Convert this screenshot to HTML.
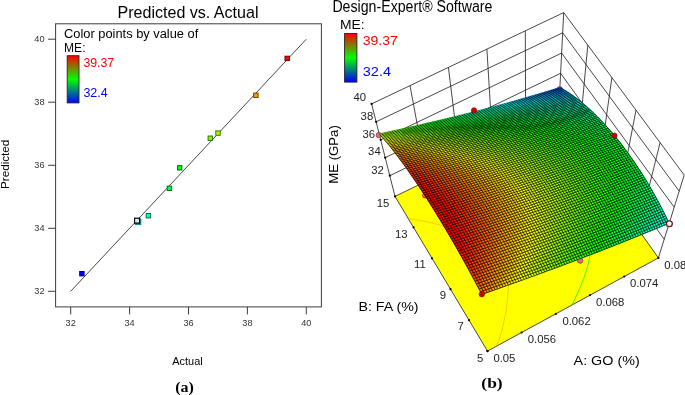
<!DOCTYPE html>
<html><head><meta charset="utf-8"><title>Predicted vs. Actual</title>
<style>html,body{margin:0;padding:0;background:#fff}svg{display:block}</style></head>
<body>
<svg width="685" height="395" viewBox="0 0 685 395" font-family='"Liberation Sans", sans-serif'>
<rect width="685" height="395" fill="#fff"/>
<g id="plotA">
<text x="117.5" y="18.2" font-size="16.6" fill="#000" textLength="141.0" lengthAdjust="spacingAndGlyphs">Predicted vs. Actual</text>
<rect x="55.6" y="23.8" width="265.8" height="283.1" fill="none" stroke="#3c3c3c" stroke-width="1"/>
<path d="M70.7 306.9V314.4" stroke="#3c3c3c" stroke-width="1"/>
<text x="70.7" y="326.0" font-size="9.2" fill="#333" text-anchor="middle">32</text>
<path d="M48.1 291.3H55.6" stroke="#3c3c3c" stroke-width="1"/>
<text x="44.6" y="293.9" font-size="9.2" fill="#333" text-anchor="end">32</text>
<path d="M129.6 306.9V314.4" stroke="#3c3c3c" stroke-width="1"/>
<text x="129.6" y="326.0" font-size="9.2" fill="#333" text-anchor="middle">34</text>
<path d="M48.1 228.3H55.6" stroke="#3c3c3c" stroke-width="1"/>
<text x="44.6" y="230.9" font-size="9.2" fill="#333" text-anchor="end">34</text>
<path d="M188.5 306.9V314.4" stroke="#3c3c3c" stroke-width="1"/>
<text x="188.5" y="326.0" font-size="9.2" fill="#333" text-anchor="middle">36</text>
<path d="M48.1 165.3H55.6" stroke="#3c3c3c" stroke-width="1"/>
<text x="44.6" y="167.9" font-size="9.2" fill="#333" text-anchor="end">36</text>
<path d="M247.4 306.9V314.4" stroke="#3c3c3c" stroke-width="1"/>
<text x="247.4" y="326.0" font-size="9.2" fill="#333" text-anchor="middle">38</text>
<path d="M48.1 102.2H55.6" stroke="#3c3c3c" stroke-width="1"/>
<text x="44.6" y="104.8" font-size="9.2" fill="#333" text-anchor="end">38</text>
<path d="M306.3 306.9V314.4" stroke="#3c3c3c" stroke-width="1"/>
<text x="306.3" y="326.0" font-size="9.2" fill="#333" text-anchor="middle">40</text>
<path d="M48.1 39.2H55.6" stroke="#3c3c3c" stroke-width="1"/>
<text x="44.6" y="41.8" font-size="9.2" fill="#333" text-anchor="end">40</text>
<path d="M70.7 291.3L306.3 39.2" stroke="#333" stroke-width="0.9"/>
<rect x="79.7" y="271.5" width="4.4" height="4.4" fill="#0000ff" stroke="#000072" stroke-width="1"/>
<rect x="135.3" y="218.9" width="5.6" height="5.8" fill="#00a8a0" stroke="#007a78" stroke-width="0.8"/>
<rect x="146.2" y="213.5" width="4.4" height="4.4" fill="#00ffb6" stroke="#007251" stroke-width="1"/>
<rect x="167.2" y="186.1" width="4.4" height="4.4" fill="#00ff4e" stroke="#007223" stroke-width="1"/>
<rect x="177.5" y="165.6" width="4.4" height="4.4" fill="#00ff1b" stroke="#00720c" stroke-width="1"/>
<rect x="208.1" y="136.0" width="4.4" height="4.4" fill="#7dff00" stroke="#387200" stroke-width="1"/>
<rect x="215.8" y="130.9" width="4.4" height="4.4" fill="#a3ff00" stroke="#497200" stroke-width="1"/>
<rect x="253.7" y="93.1" width="4.4" height="4.4" fill="#ff9e00" stroke="#724700" stroke-width="1"/>
<rect x="285.0" y="56.2" width="4.4" height="4.4" fill="#ff0300" stroke="#720100" stroke-width="1"/>
<rect x="134.6" y="218.2" width="4.9" height="4.9" fill="#fff" stroke="#000" stroke-width="1.2"/>
<path d="M135.4 222.4L138.8 218.8" stroke="#999" stroke-width="0.7"/>
<text x="64.0" y="38.0" font-size="12.3" fill="#000" textLength="134.3" lengthAdjust="spacingAndGlyphs">Color points by value of</text>
<text x="64.0" y="52.2" font-size="12.3" fill="#000" textLength="21.5" lengthAdjust="spacingAndGlyphs">ME:</text>
<defs><linearGradient id="lg" x1="0" y1="0" x2="0" y2="1"><stop offset="0" stop-color="#ff0000"/><stop offset="0.5" stop-color="#00ff00"/><stop offset="1" stop-color="#0000ff"/></linearGradient></defs>
<rect x="67.2" y="55.7" width="11.8" height="47.2" fill="url(#lg)" stroke="#222" stroke-width="0.9"/>
<text x="83.4" y="67.4" font-size="12.6" fill="#ff0000" textLength="30.8" lengthAdjust="spacingAndGlyphs">39.37</text>
<text x="83.4" y="96.6" font-size="12.6" fill="#0000ff" textLength="24.3" lengthAdjust="spacingAndGlyphs">32.4</text>
<text x="0.0" y="0.0" font-size="11.6" fill="#000" text-anchor="middle" textLength="49.2" lengthAdjust="spacingAndGlyphs" transform="translate(9.4,164.3) rotate(-90)">Predicted</text>
<text x="172.3" y="364.6" font-size="11.6" fill="#000" textLength="30.4" lengthAdjust="spacingAndGlyphs">Actual</text>
<text x="184.5" y="391.7" font-family='"Liberation Serif", serif' font-weight="bold" font-size="14.5" text-anchor="middle" textLength="18.7" lengthAdjust="spacingAndGlyphs">(a)</text>
</g>
<g id="plotB">
<text x="332.4" y="12.0" font-size="16.0" fill="#000" textLength="160.0" lengthAdjust="spacingAndGlyphs">Design-Expert® Software</text>
<text x="340.0" y="29.4" font-size="12.6" fill="#000" textLength="24.6" lengthAdjust="spacingAndGlyphs">ME:</text>
<rect x="344.6" y="33.5" width="12.3" height="48.6" fill="url(#lg)" stroke="#222" stroke-width="0.9"/>
<text x="362.7" y="45.2" font-size="12.8" fill="#ff0000" textLength="35.2" lengthAdjust="spacingAndGlyphs">39.37</text>
<text x="362.8" y="75.7" font-size="12.8" fill="#0000ff" textLength="28.2" lengthAdjust="spacingAndGlyphs">32.4</text>
<path d="M395.0,196.4L371.6,103.9M427.7,180.5L410.0,85.6M578.4,145.1L587.8,45.1M460.4,164.6L448.4,67.4M598.4,173.3L611.9,77.6M493.0,148.7L486.9,49.1M618.4,201.5L636.0,110.1M525.7,132.8L525.3,30.9M638.4,229.7L660.1,142.6M558.4,116.9L563.7,12.6M658.4,257.9L684.2,175.1M389.8,175.7L559.6,93.5L664.2,239.3M385.2,157.7L560.6,73.3L669.2,223.3M380.7,139.8L561.6,53.1L674.2,207.2M376.1,121.8L562.7,32.8L679.2,191.2M371.6,103.9L563.7,12.6L684.2,175.1" fill="none" stroke="#1a1a1a" stroke-width="0.8"/>
<polygon points="395.0,196.4 558.4,116.9 658.4,257.9 487.5,351.1" fill="#ffff00" stroke="#1a1a1a" stroke-width="0.8"/>
<path d="M511.5,262 Q509.5,276 508.5,288.5 Q507.5,310 501.8,331.3 Q499.5,339 496,346.5" fill="none" stroke="#ffbb00" stroke-width="0.8"/>
<path d="M409.5,218.8 Q424.6,220.4 441.8,225.5 Q452,229 462,235" fill="none" stroke="#ffbb00" stroke-width="0.8"/>
<path d="M590.5,245 Q590,252 589.6,257.3 Q587.5,270 579.7,288.7 Q576,297 571.7,305.4" fill="none" stroke="#20f000" stroke-width="0.8"/>
<circle cx="425.2" cy="195.4" r="2.7" fill="#e07080" stroke="#7a1010" stroke-width="0.6"/>
<circle cx="559.8" cy="89.3" r="2.7" fill="#e07080" stroke="#7a1010" stroke-width="0.6"/>
<circle cx="378.8" cy="135.1" r="2.7" fill="#e07080" stroke="#7a1010" stroke-width="0.6"/>
<circle cx="580.1" cy="260.6" r="2.7" fill="#e07080" stroke="#7a1010" stroke-width="0.6"/>
<g stroke-width="0.6">
<path d="M379.2,133.9L384.7,132.7L387.2,135.3L381.6,136.5ZM553.4,197.0L558.7,195.1L561.8,200.1L556.5,202.0Z" fill="#a3ff00" stroke="#a3ff00"/>
<path d="M381.6,136.5L387.2,135.3L389.6,138.1L384.0,139.4Z" fill="#c5ff00" stroke="#c5ff00"/>
<path d="M384.0,139.4L389.6,138.1L392.2,141.1L386.6,142.3ZM478.2,156.2L483.7,154.7L486.7,158.5L481.2,160.1ZM498.3,164.9L503.7,163.3L506.8,167.4L501.4,169.1Z" fill="#e4ff00" stroke="#e4ff00"/>
<path d="M386.6,142.3L392.2,141.1L394.7,144.1L389.1,145.4ZM475.8,161.7L481.2,160.1L484.3,164.1L478.8,165.7ZM524.6,225.5L530.1,223.6L533.2,228.9L527.7,230.8ZM523.9,213.2L529.4,211.3L532.5,216.5L527.0,218.3Z" fill="#fffb00" stroke="#fffb00"/>
<path d="M389.1,145.4L394.7,144.1L397.3,147.3L391.7,148.6Z" fill="#ffdd00" stroke="#ffdd00"/>
<path d="M391.7,148.6L397.3,147.3L400.0,150.6L394.3,152.0ZM507.9,231.1L513.5,229.2L516.6,234.6L511.0,236.5Z" fill="#ffc100" stroke="#ffc100"/>
<path d="M394.3,152.0L400.0,150.6L402.7,154.1L397.0,155.5ZM497.9,260.9L503.5,259.0L506.6,264.7L501.0,266.7ZM479.9,186.3L485.5,184.6L488.6,189.2L483.0,190.9Z" fill="#ffa700" stroke="#ffa700"/>
<path d="M397.0,155.5L402.7,154.1L405.4,157.7L399.7,159.1ZM486.7,207.1L492.3,205.3L495.4,210.3L489.8,212.1Z" fill="#ff8e00" stroke="#ff8e00"/>
<path d="M399.7,159.1L405.4,157.7L408.2,161.4L402.5,162.8ZM478.7,288.4L484.4,286.4L487.6,292.4L481.8,294.4ZM408.2,161.4L413.9,159.9L416.7,163.7L411.0,165.2ZM481.3,280.4L487.0,278.4L490.2,284.4L484.4,286.4Z" fill="#ff7700" stroke="#ff7700"/>
<path d="M402.5,162.8L408.2,161.4L411.0,165.2L405.3,166.6ZM475.5,282.4L481.3,280.4L484.4,286.4L478.7,288.4Z" fill="#ff6100" stroke="#ff6100"/>
<path d="M405.3,166.6L411.0,165.2L413.8,169.1L408.1,170.6ZM472.3,276.5L478.1,274.5L481.3,280.4L475.5,282.4Z" fill="#ff4e00" stroke="#ff4e00"/>
<path d="M408.1,170.6L413.8,169.1L416.7,173.2L410.9,174.7ZM469.2,270.6L475.0,268.7L478.1,274.5L472.3,276.5ZM471.3,249.7L477.1,247.8L480.2,253.4L474.4,255.3ZM440.0,187.2L445.7,185.6L448.7,190.1L443.0,191.8ZM470.8,236.9L476.5,235.0L479.7,240.4L473.9,242.3ZM457.9,204.3L463.6,202.5L466.6,207.4L460.9,209.2ZM460.9,209.2L466.6,207.4L469.7,212.4L464.0,214.2Z" fill="#ff3c00" stroke="#ff3c00"/>
<path d="M410.9,174.7L416.7,173.2L419.6,177.3L413.8,178.9Z" fill="#ff2c00" stroke="#ff2c00"/>
<path d="M413.8,178.9L419.6,177.3L422.5,181.6L416.8,183.1ZM462.9,259.1L468.7,257.2L471.8,262.9L466.0,264.8Z" fill="#ff1d00" stroke="#ff1d00"/>
<path d="M416.8,183.1L422.5,181.6L425.5,186.0L419.7,187.6ZM459.7,253.5L465.5,251.6L468.7,257.2L462.9,259.1Z" fill="#ff1000" stroke="#ff1000"/>
<path d="M419.7,187.6L425.5,186.0L428.5,190.5L422.7,192.1ZM456.6,247.9L462.4,246.0L465.5,251.6L459.7,253.5Z" fill="#ff0500" stroke="#ff0500"/>
<path d="M422.7,192.1L428.5,190.5L431.5,195.0L425.7,196.7ZM425.7,196.7L431.5,195.0L434.5,199.7L428.7,201.4ZM428.7,201.4L434.5,199.7L437.5,204.5L431.7,206.2ZM431.7,206.2L437.5,204.5L440.6,209.4L434.8,211.1ZM434.8,211.1L440.6,209.4L443.7,214.4L437.8,216.1ZM437.8,216.1L443.7,214.4L446.7,219.4L440.9,221.2ZM440.9,221.2L446.7,219.4L449.9,224.6L444.0,226.4ZM444.0,226.4L449.9,224.6L453.0,229.8L447.1,231.6ZM447.1,231.6L453.0,229.8L456.1,235.1L450.3,237.0ZM450.3,237.0L456.1,235.1L459.2,240.5L453.4,242.4ZM453.4,242.4L459.2,240.5L462.4,246.0L456.6,247.9ZM437.5,204.5L443.3,202.8L446.4,207.7L440.6,209.4ZM440.6,209.4L446.4,207.7L449.4,212.6L443.7,214.4ZM443.7,214.4L449.4,212.6L452.5,217.7L446.7,219.4ZM446.7,219.4L452.5,217.7L455.6,222.8L449.9,224.6ZM449.9,224.6L455.6,222.8L458.8,228.0L453.0,229.8Z" fill="#ff0000" stroke="#ff0000"/>
<path d="M466.0,264.8L471.8,262.9L475.0,268.7L469.2,270.6Z" fill="#ff2b00" stroke="#ff2b00"/>
<path d="M384.7,132.7L390.2,131.5L392.7,134.1L387.2,135.3ZM480.1,142.3L485.5,140.7L488.5,144.2L483.1,145.7ZM505.2,148.3L510.6,146.7L513.7,150.4L508.3,152.1Z" fill="#8fff00" stroke="#8fff00"/>
<path d="M387.2,135.3L392.7,134.1L395.2,136.9L389.6,138.1ZM494.5,151.5L499.9,149.9L502.9,153.7L497.6,155.3Z" fill="#b0ff00" stroke="#b0ff00"/>
<path d="M389.6,138.1L395.2,136.9L397.7,139.8L392.2,141.1ZM411.5,140.2L417.0,138.9L419.7,142.0L414.1,143.3Z" fill="#d0ff00" stroke="#d0ff00"/>
<path d="M392.2,141.1L397.7,139.8L400.3,142.8L394.7,144.1ZM519.2,185.1L524.7,183.4L527.8,188.0L522.4,189.8ZM522.4,189.8L527.8,188.0L530.9,192.8L525.5,194.6Z" fill="#eeff00" stroke="#eeff00"/>
<path d="M394.7,144.1L400.3,142.8L403.0,146.0L397.3,147.3ZM450.3,154.8L455.8,153.3L458.8,157.1L453.3,158.6Z" fill="#fff200" stroke="#fff200"/>
<path d="M397.3,147.3L403.0,146.0L405.6,149.3L400.0,150.6ZM512.8,216.9L518.4,215.0L521.5,220.2L515.9,222.1Z" fill="#ffd600" stroke="#ffd600"/>
<path d="M400.0,150.6L405.6,149.3L408.3,152.7L402.7,154.1ZM503.5,259.0L509.1,257.1L512.2,262.8L506.6,264.7ZM450.6,164.0L456.2,162.5L459.2,166.4L453.6,168.0ZM504.1,213.6L509.7,211.7L512.8,216.9L507.3,218.7Z" fill="#ffbc00" stroke="#ffbc00"/>
<path d="M402.7,154.1L408.3,152.7L411.1,156.3L405.4,157.7ZM490.2,284.4L495.9,282.4L499.0,288.4L493.3,290.4ZM492.7,276.5L498.4,274.5L501.5,280.4L495.9,282.4ZM499.2,227.6L504.8,225.8L507.9,231.1L502.3,233.0ZM483.0,190.9L488.6,189.2L491.7,193.9L486.1,195.6Z" fill="#ffa300" stroke="#ffa300"/>
<path d="M405.4,157.7L411.1,156.3L413.9,159.9L408.2,161.4ZM413.9,159.9L419.5,158.5L422.4,162.2L416.7,163.7Z" fill="#ff8c00" stroke="#ff8c00"/>
<path d="M411.0,165.2L416.7,163.7L419.5,167.6L413.8,169.1Z" fill="#ff6300" stroke="#ff6300"/>
<path d="M413.8,169.1L419.5,167.6L422.4,171.6L416.7,173.2ZM477.1,247.8L482.8,245.9L485.9,251.5L480.2,253.4ZM463.6,202.5L469.2,200.8L472.3,205.7L466.6,207.4ZM469.7,212.4L475.4,210.6L478.5,215.7L472.9,217.5Z" fill="#ff5100" stroke="#ff5100"/>
<path d="M416.7,173.2L422.4,171.6L425.3,175.8L419.6,177.3ZM471.8,262.9L477.6,261.0L480.7,266.7L475.0,268.7Z" fill="#ff4100" stroke="#ff4100"/>
<path d="M419.6,177.3L425.3,175.8L428.3,180.0L422.5,181.6Z" fill="#ff3200" stroke="#ff3200"/>
<path d="M422.5,181.6L428.3,180.0L431.2,184.4L425.5,186.0ZM465.5,251.6L471.3,249.7L474.4,255.3L468.7,257.2Z" fill="#ff2600" stroke="#ff2600"/>
<path d="M425.5,186.0L431.2,184.4L434.2,188.8L428.5,190.5ZM462.4,246.0L468.2,244.2L471.3,249.7L465.5,251.6Z" fill="#ff1b00" stroke="#ff1b00"/>
<path d="M428.5,190.5L434.2,188.8L437.2,193.4L431.5,195.0ZM459.2,240.5L465.0,238.7L468.2,244.2L462.4,246.0ZM449.4,212.6L455.2,210.9L458.3,215.9L452.5,217.7Z" fill="#ff1100" stroke="#ff1100"/>
<path d="M431.5,195.0L437.2,193.4L440.3,198.1L434.5,199.7ZM456.1,235.1L461.9,233.3L465.0,238.7L459.2,240.5Z" fill="#ff0a00" stroke="#ff0a00"/>
<path d="M434.5,199.7L440.3,198.1L443.3,202.8L437.5,204.5ZM453.0,229.8L458.8,228.0L461.9,233.3L456.1,235.1Z" fill="#ff0400" stroke="#ff0400"/>
<path d="M468.7,257.2L474.4,255.3L477.6,261.0L471.8,262.9Z" fill="#ff3300" stroke="#ff3300"/>
<path d="M475.0,268.7L480.7,266.7L483.9,272.6L478.1,274.5ZM476.5,235.0L482.2,233.2L485.4,238.6L479.7,240.4Z" fill="#ff5200" stroke="#ff5200"/>
<path d="M478.1,274.5L483.9,272.6L487.0,278.4L481.3,280.4Z" fill="#ff6400" stroke="#ff6400"/>
<path d="M484.4,286.4L490.2,284.4L493.3,290.4L487.6,292.4ZM487.0,278.4L492.7,276.5L495.9,282.4L490.2,284.4ZM422.4,162.2L428.0,160.8L430.9,164.6L425.2,166.1ZM451.0,173.7L456.6,172.1L459.6,176.4L454.0,178.0ZM462.6,180.7L468.2,179.1L471.3,183.5L465.7,185.2ZM480.5,197.4L486.1,195.6L489.2,200.4L483.6,202.2ZM483.6,202.2L489.2,200.4L492.3,205.3L486.7,207.1Z" fill="#ff8d00" stroke="#ff8d00"/>
<path d="M390.2,131.5L395.7,130.3L398.2,132.9L392.7,134.1ZM477.1,138.9L482.5,137.4L485.5,140.7L480.1,142.3ZM568.0,210.3L573.4,208.3L576.4,213.6L571.1,215.5ZM539.0,157.2L544.3,155.5L547.5,159.6L542.1,161.4ZM553.8,168.2L559.1,166.4L562.2,170.8L556.9,172.6ZM563.2,181.8L568.5,180.0L571.6,184.7L566.3,186.5Z" fill="#7bff00" stroke="#7bff00"/>
<path d="M392.7,134.1L398.2,132.9L400.7,135.6L395.2,136.9ZM508.3,152.1L513.7,150.4L516.8,154.3L511.4,156.0ZM546.2,176.2L551.6,174.4L554.7,179.0L549.4,180.8ZM549.4,180.8L554.7,179.0L557.8,183.7L552.5,185.5Z" fill="#9cff00" stroke="#9cff00"/>
<path d="M395.2,136.9L400.7,135.6L403.3,138.5L397.7,139.8ZM417.0,138.9L422.5,137.6L425.2,140.6L419.7,142.0ZM540.0,253.0L545.4,251.0L548.5,256.7L543.0,258.7ZM542.4,245.4L547.9,243.4L550.9,249.1L545.4,251.0ZM535.5,179.8L540.9,178.0L544.0,182.6L538.6,184.4ZM538.6,184.4L544.0,182.6L547.1,187.3L541.8,189.1Z" fill="#bcff00" stroke="#bcff00"/>
<path d="M397.7,139.8L403.3,138.5L405.9,141.5L400.3,142.8ZM536.3,234.3L541.7,232.4L544.8,237.9L539.3,239.8ZM495.2,160.9L500.6,159.2L503.7,163.3L498.3,164.9Z" fill="#daff00" stroke="#daff00"/>
<path d="M400.3,142.8L405.9,141.5L408.6,144.7L403.0,146.0ZM526.2,206.2L531.7,204.4L534.8,209.4L529.4,211.3Z" fill="#f7ff00" stroke="#f7ff00"/>
<path d="M403.0,146.0L408.6,144.7L411.2,147.9L405.6,149.3Z" fill="#ffeb00" stroke="#ffeb00"/>
<path d="M405.6,149.3L411.2,147.9L414.0,151.3L408.3,152.7ZM476.3,171.5L481.8,169.9L484.9,174.1L479.4,175.8Z" fill="#ffd100" stroke="#ffd100"/>
<path d="M408.3,152.7L414.0,151.3L416.7,154.8L411.1,156.3ZM495.9,282.4L501.5,280.4L504.6,286.4L499.0,288.4ZM498.4,274.5L504.1,272.5L507.2,278.4L501.5,280.4ZM442.1,161.6L447.7,160.1L450.6,164.0L445.0,165.5ZM505.4,238.4L511.0,236.5L514.1,242.0L508.5,243.9ZM501.0,208.5L506.6,206.7L509.7,211.7L504.1,213.6Z" fill="#ffb800" stroke="#ffb800"/>
<path d="M411.1,156.3L416.7,154.8L419.5,158.5L413.9,159.9ZM419.5,158.5L425.2,157.0L428.0,160.8L422.4,162.2ZM456.6,172.1L462.2,170.5L465.2,174.8L459.6,176.4ZM468.2,179.1L473.8,177.4L476.9,181.8L471.3,183.5ZM486.1,195.6L491.7,193.9L494.8,198.7L489.2,200.4Z" fill="#ffa100" stroke="#ffa100"/>
<path d="M416.7,163.7L422.4,162.2L425.2,166.1L419.5,167.6Z" fill="#ff7800" stroke="#ff7800"/>
<path d="M419.5,167.6L425.2,166.1L428.1,170.1L422.4,171.6ZM482.8,245.9L488.5,244.1L491.6,249.6L485.9,251.5ZM482.2,233.2L487.9,231.3L491.0,236.7L485.4,238.6ZM475.4,210.6L481.1,208.9L484.2,213.9L478.5,215.7Z" fill="#ff6600" stroke="#ff6600"/>
<path d="M422.4,171.6L428.1,170.1L431.0,174.2L425.3,175.8Z" fill="#ff5600" stroke="#ff5600"/>
<path d="M425.3,175.8L431.0,174.2L434.0,178.5L428.3,180.0Z" fill="#ff4800" stroke="#ff4800"/>
<path d="M428.3,180.0L434.0,178.5L437.0,182.8L431.2,184.4Z" fill="#ff3b00" stroke="#ff3b00"/>
<path d="M431.2,184.4L437.0,182.8L440.0,187.2L434.2,188.8Z" fill="#ff3000" stroke="#ff3000"/>
<path d="M434.2,188.8L440.0,187.2L443.0,191.8L437.2,193.4ZM465.0,238.7L470.8,236.9L473.9,242.3L468.2,244.2ZM452.1,206.0L457.9,204.3L460.9,209.2L455.2,210.9ZM455.2,210.9L460.9,209.2L464.0,214.2L458.3,215.9Z" fill="#ff2700" stroke="#ff2700"/>
<path d="M437.2,193.4L443.0,191.8L446.0,196.4L440.3,198.1ZM461.9,233.3L467.7,231.5L470.8,236.9L465.0,238.7Z" fill="#ff1f00" stroke="#ff1f00"/>
<path d="M440.3,198.1L446.0,196.4L449.1,201.1L443.3,202.8ZM458.8,228.0L464.5,226.2L467.7,231.5L461.9,233.3Z" fill="#ff1900" stroke="#ff1900"/>
<path d="M443.3,202.8L449.1,201.1L452.1,206.0L446.4,207.7ZM455.6,222.8L461.4,221.0L464.5,226.2L458.8,228.0Z" fill="#ff1500" stroke="#ff1500"/>
<path d="M446.4,207.7L452.1,206.0L455.2,210.9L449.4,212.6ZM452.5,217.7L458.3,215.9L461.4,221.0L455.6,222.8Z" fill="#ff1200" stroke="#ff1200"/>
<path d="M468.2,244.2L473.9,242.3L477.1,247.8L471.3,249.7Z" fill="#ff3100" stroke="#ff3100"/>
<path d="M474.4,255.3L480.2,253.4L483.3,259.1L477.6,261.0ZM448.7,190.1L454.4,188.5L457.4,193.1L451.7,194.7Z" fill="#ff4900" stroke="#ff4900"/>
<path d="M477.6,261.0L483.3,259.1L486.5,264.8L480.7,266.7Z" fill="#ff5700" stroke="#ff5700"/>
<path d="M480.7,266.7L486.5,264.8L489.6,270.6L483.9,272.6Z" fill="#ff6700" stroke="#ff6700"/>
<path d="M483.9,272.6L489.6,270.6L492.7,276.5L487.0,278.4ZM445.3,175.3L451.0,173.7L454.0,178.0L448.3,179.6ZM457.0,182.3L462.6,180.7L465.7,185.2L460.0,186.8ZM478.0,203.9L483.6,202.2L486.7,207.1L481.1,208.9Z" fill="#ff7900" stroke="#ff7900"/>
<path d="M395.7,130.3L401.2,129.1L403.7,131.7L398.2,132.9Z" fill="#67ff00" stroke="#67ff00"/>
<path d="M398.2,132.9L403.7,131.7L406.2,134.4L400.7,135.6Z" fill="#89ff00" stroke="#89ff00"/>
<path d="M400.7,135.6L406.2,134.4L408.8,137.2L403.3,138.5ZM550.2,235.9L555.7,234.0L558.7,239.5L553.3,241.5ZM511.4,156.0L516.8,154.3L519.9,158.3L514.5,160.0Z" fill="#a8ff00" stroke="#a8ff00"/>
<path d="M403.3,138.5L408.8,137.2L411.5,140.2L405.9,141.5ZM543.4,212.7L548.8,210.8L551.9,216.0L546.5,217.9ZM523.8,172.6L529.2,170.9L532.4,175.3L527.0,177.1Z" fill="#c7ff00" stroke="#c7ff00"/>
<path d="M405.9,141.5L411.5,140.2L414.1,143.3L408.6,144.7ZM509.9,171.7L515.3,170.0L518.4,174.4L513.0,176.1Z" fill="#e3ff00" stroke="#e3ff00"/>
<path d="M408.6,144.7L414.1,143.3L416.8,146.6L411.2,147.9ZM525.2,238.2L530.8,236.2L533.8,241.8L528.3,243.7ZM495.9,170.8L501.4,169.1L504.4,173.4L499.0,175.1ZM520.0,196.4L525.5,194.6L528.6,199.4L523.1,201.3Z" fill="#feff00" stroke="#feff00"/>
<path d="M411.2,147.9L416.8,146.6L419.6,149.9L414.0,151.3ZM493.5,176.8L499.0,175.1L502.1,179.5L496.6,181.2Z" fill="#ffe600" stroke="#ffe600"/>
<path d="M414.0,151.3L419.6,149.9L422.3,153.4L416.7,154.8ZM504.1,272.5L509.7,270.6L512.8,276.4L507.2,278.4Z" fill="#ffcd00" stroke="#ffcd00"/>
<path d="M416.7,154.8L422.3,153.4L425.2,157.0L419.5,158.5ZM433.6,159.3L439.2,157.8L442.1,161.6L436.5,163.1Z" fill="#ffb600" stroke="#ffb600"/>
<path d="M425.2,166.1L430.9,164.6L433.8,168.6L428.1,170.1ZM488.5,244.1L494.2,242.2L497.3,247.7L491.6,249.6ZM487.9,231.3L493.6,229.5L496.7,234.8L491.0,236.7Z" fill="#ff7b00" stroke="#ff7b00"/>
<path d="M428.1,170.1L433.8,168.6L436.7,172.7L431.0,174.2Z" fill="#ff6b00" stroke="#ff6b00"/>
<path d="M431.0,174.2L436.7,172.7L439.7,176.9L434.0,178.5ZM454.4,188.5L460.0,186.8L463.1,191.4L457.4,193.1Z" fill="#ff5d00" stroke="#ff5d00"/>
<path d="M434.0,178.5L439.7,176.9L442.7,181.2L437.0,182.8ZM445.7,185.6L451.3,184.0L454.4,188.5L448.7,190.1ZM466.6,207.4L472.3,205.7L475.4,210.6L469.7,212.4Z" fill="#ff5000" stroke="#ff5000"/>
<path d="M437.0,182.8L442.7,181.2L445.7,185.6L440.0,187.2Z" fill="#ff4500" stroke="#ff4500"/>
<path d="M443.0,191.8L448.7,190.1L451.7,194.7L446.0,196.4Z" fill="#ff3400" stroke="#ff3400"/>
<path d="M446.0,196.4L451.7,194.7L454.8,199.4L449.1,201.1Z" fill="#ff2e00" stroke="#ff2e00"/>
<path d="M449.1,201.1L454.8,199.4L457.9,204.3L452.1,206.0ZM461.4,221.0L467.1,219.2L470.3,224.4L464.5,226.2Z" fill="#ff2a00" stroke="#ff2a00"/>
<path d="M458.3,215.9L464.0,214.2L467.1,219.2L461.4,221.0Z" fill="#ff2800" stroke="#ff2800"/>
<path d="M464.5,226.2L470.3,224.4L473.4,229.7L467.7,231.5Z" fill="#ff2f00" stroke="#ff2f00"/>
<path d="M467.7,231.5L473.4,229.7L476.5,235.0L470.8,236.9Z" fill="#ff3500" stroke="#ff3500"/>
<path d="M473.9,242.3L479.7,240.4L482.8,245.9L477.1,247.8Z" fill="#ff4600" stroke="#ff4600"/>
<path d="M480.2,253.4L485.9,251.5L489.1,257.2L483.3,259.1Z" fill="#ff5e00" stroke="#ff5e00"/>
<path d="M483.3,259.1L489.1,257.2L492.2,262.9L486.5,264.8ZM481.7,220.8L487.3,219.0L490.4,224.2L484.8,226.0Z" fill="#ff6d00" stroke="#ff6d00"/>
<path d="M486.5,264.8L492.2,262.9L495.3,268.7L489.6,270.6ZM484.2,213.9L489.8,212.1L493.0,217.2L487.3,219.0Z" fill="#ff7d00" stroke="#ff7d00"/>
<path d="M489.6,270.6L495.3,268.7L498.4,274.5L492.7,276.5ZM493.6,229.5L499.2,227.6L502.3,233.0L496.7,234.8Z" fill="#ff8f00" stroke="#ff8f00"/>
<path d="M401.2,129.1L406.6,127.9L409.2,130.5L403.7,131.7ZM479.5,134.2L484.8,132.7L487.8,135.9L482.5,137.4ZM577.1,226.2L582.5,224.2L585.5,229.7L580.2,231.6ZM546.4,149.8L551.7,148.1L554.9,152.0L549.6,153.8ZM558.0,156.1L563.3,154.3L566.4,158.5L561.2,160.3Z" fill="#54ff00" stroke="#54ff00"/>
<path d="M403.7,131.7L409.2,130.5L411.7,133.1L406.2,134.4ZM561.7,245.1L567.1,243.1L570.1,248.8L564.7,250.8ZM566.4,230.1L571.8,228.1L574.8,233.6L569.5,235.6ZM570.3,203.2L575.6,201.3L578.7,206.4L573.4,208.3Z" fill="#75ff00" stroke="#75ff00"/>
<path d="M406.2,134.4L411.7,133.1L414.3,135.9L408.8,137.2ZM559.6,207.0L564.9,205.1L568.0,210.3L562.7,212.2Z" fill="#95ff00" stroke="#95ff00"/>
<path d="M408.8,137.2L414.3,135.9L417.0,138.9L411.5,140.2ZM548.0,198.9L553.4,197.0L556.5,202.0L551.1,203.8Z" fill="#b3ff00" stroke="#b3ff00"/>
<path d="M414.1,143.3L419.7,142.0L422.4,145.2L416.8,146.6ZM528.6,199.4L534.0,197.6L537.2,202.6L531.7,204.4Z" fill="#eaff00" stroke="#eaff00"/>
<path d="M416.8,146.6L422.4,145.2L425.1,148.5L419.6,149.9Z" fill="#fffa00" stroke="#fffa00"/>
<path d="M419.6,149.9L425.1,148.5L427.9,152.0L422.3,153.4Z" fill="#ffe100" stroke="#ffe100"/>
<path d="M422.3,153.4L427.9,152.0L430.8,155.6L425.2,157.0ZM430.8,155.6L436.3,154.1L439.2,157.8L433.6,159.3ZM439.2,157.8L444.8,156.3L447.7,160.1L442.1,161.6ZM494.1,187.5L499.7,185.8L502.8,190.4L497.2,192.1Z" fill="#ffca00" stroke="#ffca00"/>
<path d="M425.2,157.0L430.8,155.6L433.6,159.3L428.0,160.8ZM462.2,170.5L467.7,168.9L470.8,173.1L465.2,174.8ZM497.9,203.5L503.5,201.8L506.6,206.7L501.0,208.5Z" fill="#ffb500" stroke="#ffb500"/>
<path d="M428.0,160.8L433.6,159.3L436.5,163.1L430.9,164.6ZM492.3,205.3L497.9,203.5L501.0,208.5L495.4,210.3Z" fill="#ffa200" stroke="#ffa200"/>
<path d="M430.9,164.6L436.5,163.1L439.4,167.1L433.8,168.6ZM494.2,242.2L499.8,240.3L502.9,245.8L497.3,247.7ZM477.4,192.6L483.0,190.9L486.1,195.6L480.5,197.4Z" fill="#ff9000" stroke="#ff9000"/>
<path d="M433.8,168.6L439.4,167.1L442.4,171.1L436.7,172.7ZM468.7,189.7L474.3,188.0L477.4,192.6L471.8,194.3Z" fill="#ff8000" stroke="#ff8000"/>
<path d="M436.7,172.7L442.4,171.1L445.3,175.3L439.7,176.9Z" fill="#ff7100" stroke="#ff7100"/>
<path d="M439.7,176.9L445.3,175.3L448.3,179.6L442.7,181.2ZM451.3,184.0L457.0,182.3L460.0,186.8L454.4,188.5ZM469.2,200.8L474.9,199.1L478.0,203.9L472.3,205.7ZM472.3,205.7L478.0,203.9L481.1,208.9L475.4,210.6Z" fill="#ff6500" stroke="#ff6500"/>
<path d="M442.7,181.2L448.3,179.6L451.3,184.0L445.7,185.6Z" fill="#ff5a00" stroke="#ff5a00"/>
<path d="M451.7,194.7L457.4,193.1L460.5,197.7L454.8,199.4Z" fill="#ff4300" stroke="#ff4300"/>
<path d="M454.8,199.4L460.5,197.7L463.6,202.5L457.9,204.3ZM467.1,219.2L472.9,217.5L476.0,222.6L470.3,224.4Z" fill="#ff3f00" stroke="#ff3f00"/>
<path d="M464.0,214.2L469.7,212.4L472.9,217.5L467.1,219.2Z" fill="#ff3d00" stroke="#ff3d00"/>
<path d="M470.3,224.4L476.0,222.6L479.1,227.9L473.4,229.7Z" fill="#ff4400" stroke="#ff4400"/>
<path d="M473.4,229.7L479.1,227.9L482.2,233.2L476.5,235.0Z" fill="#ff4a00" stroke="#ff4a00"/>
<path d="M479.7,240.4L485.4,238.6L488.5,244.1L482.8,245.9Z" fill="#ff5b00" stroke="#ff5b00"/>
<path d="M485.9,251.5L491.6,249.6L494.7,255.2L489.1,257.2ZM484.8,226.0L490.4,224.2L493.6,229.5L487.9,231.3Z" fill="#ff7300" stroke="#ff7300"/>
<path d="M489.1,257.2L494.7,255.2L497.9,260.9L492.2,262.9ZM454.0,178.0L459.6,176.4L462.6,180.7L457.0,182.3Z" fill="#ff8200" stroke="#ff8200"/>
<path d="M492.2,262.9L497.9,260.9L501.0,266.7L495.3,268.7Z" fill="#ff9200" stroke="#ff9200"/>
<path d="M495.3,268.7L501.0,266.7L504.1,272.5L498.4,274.5ZM436.5,163.1L442.1,161.6L445.0,165.5L439.4,167.1ZM499.8,240.3L505.4,238.4L508.5,243.9L502.9,245.8ZM495.4,210.3L501.0,208.5L504.1,213.6L498.6,215.4Z" fill="#ffa400" stroke="#ffa400"/>
<path d="M501.5,280.4L507.2,278.4L510.3,284.4L504.6,286.4ZM506.6,264.7L512.2,262.8L515.3,268.6L509.7,270.6ZM491.1,182.9L496.6,181.2L499.7,185.8L494.1,187.5Z" fill="#ffce00" stroke="#ffce00"/>
<path d="M406.6,127.9L412.1,126.7L414.6,129.2L409.2,130.5ZM587.0,209.7L592.3,207.7L595.3,213.0L590.1,214.9ZM578.0,165.3L583.2,163.5L586.4,167.9L581.2,169.8ZM581.2,169.8L586.4,167.9L589.5,172.5L584.3,174.4Z" fill="#41ff00" stroke="#41ff00"/>
<path d="M409.2,130.5L414.6,129.2L417.2,131.9L411.7,133.1ZM564.7,250.8L570.1,248.8L573.1,254.5L567.7,256.5Z" fill="#62ff00" stroke="#62ff00"/>
<path d="M411.7,133.1L417.2,131.9L419.8,134.7L414.3,135.9ZM455.2,136.8L460.6,135.4L463.5,138.6L458.1,140.0ZM551.5,262.5L556.9,260.5L559.9,266.3L554.5,268.4ZM530.6,154.9L535.9,153.2L539.0,157.2L533.7,159.0Z" fill="#82ff00" stroke="#82ff00"/>
<path d="M414.3,135.9L419.8,134.7L422.5,137.6L417.0,138.9ZM474.7,143.8L480.1,142.3L483.1,145.7L477.7,147.3Z" fill="#a0ff00" stroke="#a0ff00"/>
<path d="M419.7,142.0L425.2,140.6L427.9,143.8L422.4,145.2ZM518.4,174.4L523.8,172.6L527.0,177.1L521.6,178.8Z" fill="#d7ff00" stroke="#d7ff00"/>
<path d="M422.4,145.2L427.9,143.8L430.7,147.1L425.1,148.5ZM528.3,243.7L533.8,241.8L536.9,247.3L531.4,249.3Z" fill="#f0ff00" stroke="#f0ff00"/>
<path d="M425.1,148.5L430.7,147.1L433.5,150.6L427.9,152.0ZM515.3,268.6L520.9,266.6L524.0,272.5L518.4,274.5ZM467.3,159.4L472.8,157.8L475.8,161.7L470.3,163.3ZM487.3,168.2L492.8,166.6L495.9,170.8L490.4,172.5Z" fill="#fff600" stroke="#fff600"/>
<path d="M427.9,152.0L433.5,150.6L436.3,154.1L430.8,155.6Z" fill="#ffdf00" stroke="#ffdf00"/>
<path d="M439.4,167.1L445.0,165.5L448.0,169.6L442.4,171.1ZM474.3,188.0L479.9,186.3L483.0,190.9L477.4,192.6Z" fill="#ff9400" stroke="#ff9400"/>
<path d="M442.4,171.1L448.0,169.6L451.0,173.7L445.3,175.3ZM465.7,185.2L471.3,183.5L474.3,188.0L468.7,189.7Z" fill="#ff8600" stroke="#ff8600"/>
<path d="M448.3,179.6L454.0,178.0L457.0,182.3L451.3,184.0Z" fill="#ff6e00" stroke="#ff6e00"/>
<path d="M457.4,193.1L463.1,191.4L466.2,196.0L460.5,197.7ZM476.0,222.6L481.7,220.8L484.8,226.0L479.1,227.9Z" fill="#ff5800" stroke="#ff5800"/>
<path d="M460.5,197.7L466.2,196.0L469.2,200.8L463.6,202.5Z" fill="#ff5300" stroke="#ff5300"/>
<path d="M472.9,217.5L478.5,215.7L481.7,220.8L476.0,222.6Z" fill="#ff5400" stroke="#ff5400"/>
<path d="M479.1,227.9L484.8,226.0L487.9,231.3L482.2,233.2Z" fill="#ff5f00" stroke="#ff5f00"/>
<path d="M485.4,238.6L491.0,236.7L494.2,242.2L488.5,244.1Z" fill="#ff7000" stroke="#ff7000"/>
<path d="M491.6,249.6L497.3,247.7L500.4,253.3L494.7,255.2Z" fill="#ff8800" stroke="#ff8800"/>
<path d="M494.7,255.2L500.4,253.3L503.5,259.0L497.9,260.9Z" fill="#ff9700" stroke="#ff9700"/>
<path d="M501.0,266.7L506.6,264.7L509.7,270.6L504.1,272.5Z" fill="#ffb900" stroke="#ffb900"/>
<path d="M507.2,278.4L512.8,276.4L515.9,282.4L510.3,284.4ZM512.2,262.8L517.8,260.8L520.9,266.6L515.3,268.6ZM461.7,160.9L467.3,159.4L470.3,163.3L464.7,164.9Z" fill="#ffe300" stroke="#ffe300"/>
<path d="M412.1,126.7L417.4,125.5L420.0,128.0L414.6,129.2ZM594.5,200.6L599.8,198.7L602.8,203.8L597.6,205.7ZM576.9,154.9L582.1,153.1L585.3,157.3L580.1,159.1ZM592.7,177.1L597.9,175.2L601.0,180.0L595.8,181.9Z" fill="#2eff00" stroke="#2eff00"/>
<path d="M414.6,129.2L420.0,128.0L422.6,130.6L417.2,131.9ZM509.8,138.0L515.0,136.4L518.1,139.8L512.8,141.4ZM526.5,141.8L531.8,140.2L534.9,143.8L529.6,145.5ZM583.1,192.5L588.4,190.6L591.5,195.5L586.2,197.5Z" fill="#4fff00" stroke="#4fff00"/>
<path d="M417.2,131.9L422.6,130.6L425.3,133.4L419.8,134.7ZM499.1,141.1L504.5,139.5L507.5,143.0L502.2,144.6ZM507.5,143.0L512.8,141.4L515.9,145.1L510.6,146.7Z" fill="#6fff00" stroke="#6fff00"/>
<path d="M419.8,134.7L425.3,133.4L427.9,136.2L422.5,137.6Z" fill="#8dff00" stroke="#8dff00"/>
<path d="M422.5,137.6L427.9,136.2L430.7,139.3L425.2,140.6ZM543.0,258.7L548.5,256.7L551.5,262.5L546.0,264.5Z" fill="#a9ff00" stroke="#a9ff00"/>
<path d="M425.2,140.6L430.7,139.3L433.4,142.4L427.9,143.8ZM472.2,148.8L477.7,147.3L480.7,150.9L475.2,152.5ZM542.6,200.7L548.0,198.9L551.1,203.8L545.7,205.7Z" fill="#c4ff00" stroke="#c4ff00"/>
<path d="M427.9,143.8L433.4,142.4L436.2,145.7L430.7,147.1ZM533.8,241.8L539.3,239.8L542.4,245.4L536.9,247.3ZM524.7,183.4L530.1,181.6L533.2,186.2L527.8,188.0ZM527.8,188.0L533.2,186.2L536.3,191.0L530.9,192.8Z" fill="#ddff00" stroke="#ddff00"/>
<path d="M430.7,147.1L436.2,145.7L439.0,149.1L433.5,150.6ZM472.8,157.8L478.2,156.2L481.2,160.1L475.8,161.7Z" fill="#f5ff00" stroke="#f5ff00"/>
<path d="M433.5,150.6L439.0,149.1L441.9,152.7L436.3,154.1ZM458.8,157.1L464.3,155.5L467.3,159.4L461.7,160.9ZM522.1,232.7L527.7,230.8L530.8,236.2L525.2,238.2ZM502.1,179.5L507.5,177.8L510.7,182.3L505.2,184.0Z" fill="#fff300" stroke="#fff300"/>
<path d="M436.3,154.1L441.9,152.7L444.8,156.3L439.2,157.8ZM444.8,156.3L450.3,154.8L453.3,158.6L447.7,160.1ZM515.9,222.1L521.5,220.2L524.6,225.5L519.0,227.3ZM512.1,204.9L517.6,203.1L520.8,208.1L515.2,209.9Z" fill="#ffde00" stroke="#ffde00"/>
<path d="M445.0,165.5L450.6,164.0L453.6,168.0L448.0,169.6Z" fill="#ffa800" stroke="#ffa800"/>
<path d="M448.0,169.6L453.6,168.0L456.6,172.1L451.0,173.7Z" fill="#ff9a00" stroke="#ff9a00"/>
<path d="M460.0,186.8L465.7,185.2L468.7,189.7L463.1,191.4Z" fill="#ff7200" stroke="#ff7200"/>
<path d="M463.1,191.4L468.7,189.7L471.8,194.3L466.2,196.0Z" fill="#ff6c00" stroke="#ff6c00"/>
<path d="M466.2,196.0L471.8,194.3L474.9,199.1L469.2,200.8Z" fill="#ff6800" stroke="#ff6800"/>
<path d="M478.5,215.7L484.2,213.9L487.3,219.0L481.7,220.8Z" fill="#ff6900" stroke="#ff6900"/>
<path d="M491.0,236.7L496.7,234.8L499.8,240.3L494.2,242.2Z" fill="#ff8500" stroke="#ff8500"/>
<path d="M497.3,247.7L502.9,245.8L506.0,251.4L500.4,253.3Z" fill="#ff9d00" stroke="#ff9d00"/>
<path d="M500.4,253.3L506.0,251.4L509.1,257.1L503.5,259.0Z" fill="#ffac00" stroke="#ffac00"/>
<path d="M509.7,270.6L515.3,268.6L518.4,274.5L512.8,276.4ZM515.2,209.9L520.8,208.1L523.9,213.2L518.4,215.0Z" fill="#ffe200" stroke="#ffe200"/>
<path d="M512.8,276.4L518.4,274.5L521.5,280.4L515.9,282.4ZM517.8,260.8L523.4,258.9L526.5,264.6L520.9,266.6Z" fill="#fff700" stroke="#fff700"/>
<path d="M417.4,125.5L422.8,124.3L425.4,126.7L420.0,128.0ZM583.7,250.5L589.0,248.5L591.9,254.2L586.6,256.2ZM602.0,191.7L607.2,189.7L610.2,194.7L605.0,196.7ZM578.9,149.0L584.1,147.2L587.3,151.3L582.1,153.1ZM601.0,180.0L606.2,178.0L609.3,182.9L604.1,184.8Z" fill="#1bff00" stroke="#1bff00"/>
<path d="M420.0,128.0L425.4,126.7L428.0,129.3L422.6,130.6ZM454.9,129.5L460.2,128.1L463.1,131.0L457.7,132.4ZM573.1,254.5L578.4,252.5L581.3,258.3L576.0,260.3ZM571.7,156.7L576.9,154.9L580.1,159.1L574.9,161.0ZM587.4,179.0L592.7,177.1L595.8,181.9L590.5,183.8Z" fill="#3cff00" stroke="#3cff00"/>
<path d="M422.6,130.6L428.0,129.3L430.7,132.0L425.3,133.4ZM549.6,153.8L554.9,152.0L558.0,156.1L552.7,157.9ZM564.3,164.6L569.6,162.8L572.8,167.2L567.5,169.0Z" fill="#5cff00" stroke="#5cff00"/>
<path d="M425.3,133.4L430.7,132.0L433.4,134.9L427.9,136.2ZM447.0,135.2L452.4,133.8L455.2,136.8L449.8,138.2Z" fill="#7aff00" stroke="#7aff00"/>
<path d="M427.9,136.2L433.4,134.9L436.1,137.9L430.7,139.3ZM540.0,167.4L545.3,165.6L548.4,170.0L543.1,171.8Z" fill="#96ff00" stroke="#96ff00"/>
<path d="M430.7,139.3L436.1,137.9L438.9,141.0L433.4,142.4ZM469.3,145.3L474.7,143.8L477.7,147.3L472.2,148.8ZM526.1,166.6L531.5,164.8L534.6,169.1L529.2,170.9Z" fill="#b1ff00" stroke="#b1ff00"/>
<path d="M433.4,142.4L438.9,141.0L441.7,144.3L436.2,145.7ZM527.0,177.1L532.4,175.3L535.5,179.8L530.1,181.6Z" fill="#caff00" stroke="#caff00"/>
<path d="M436.2,145.7L441.7,144.3L444.6,147.7L439.0,149.1Z" fill="#e2ff00" stroke="#e2ff00"/>
<path d="M439.0,149.1L444.6,147.7L447.4,151.2L441.9,152.7ZM464.3,155.5L469.8,154.0L472.8,157.8L467.3,159.4ZM527.7,230.8L533.2,228.9L536.3,234.3L530.8,236.2Z" fill="#f8ff00" stroke="#f8ff00"/>
<path d="M441.9,152.7L447.4,151.2L450.3,154.8L444.8,156.3ZM521.5,220.2L527.0,218.3L530.1,223.6L524.6,225.5Z" fill="#fff100" stroke="#fff100"/>
<path d="M447.7,160.1L453.3,158.6L456.2,162.5L450.6,164.0ZM511.0,236.5L516.6,234.6L519.7,240.1L514.1,242.0Z" fill="#ffcc00" stroke="#ffcc00"/>
<path d="M453.6,168.0L459.2,166.4L462.2,170.5L456.6,172.1Z" fill="#ffae00" stroke="#ffae00"/>
<path d="M459.6,176.4L465.2,174.8L468.2,179.1L462.6,180.7Z" fill="#ff9600" stroke="#ff9600"/>
<path d="M471.8,194.3L477.4,192.6L480.5,197.4L474.9,199.1Z" fill="#ff7c00" stroke="#ff7c00"/>
<path d="M474.9,199.1L480.5,197.4L483.6,202.2L478.0,203.9ZM481.1,208.9L486.7,207.1L489.8,212.1L484.2,213.9Z" fill="#ff7a00" stroke="#ff7a00"/>
<path d="M487.3,219.0L493.0,217.2L496.1,222.4L490.4,224.2Z" fill="#ff8100" stroke="#ff8100"/>
<path d="M490.4,224.2L496.1,222.4L499.2,227.6L493.6,229.5Z" fill="#ff8700" stroke="#ff8700"/>
<path d="M496.7,234.8L502.3,233.0L505.4,238.4L499.8,240.3ZM471.3,183.5L476.9,181.8L479.9,186.3L474.3,188.0Z" fill="#ff9900" stroke="#ff9900"/>
<path d="M502.9,245.8L508.5,243.9L511.7,249.5L506.0,251.4Z" fill="#ffb100" stroke="#ffb100"/>
<path d="M506.0,251.4L511.7,249.5L514.7,255.1L509.1,257.1ZM482.4,180.2L488.0,178.5L491.1,182.9L485.5,184.6Z" fill="#ffc000" stroke="#ffc000"/>
<path d="M509.1,257.1L514.7,255.1L517.8,260.8L512.2,262.8ZM456.2,162.5L461.7,160.9L464.7,164.9L459.2,166.4ZM509.7,211.7L515.2,209.9L518.4,215.0L512.8,216.9Z" fill="#ffd000" stroke="#ffd000"/>
<path d="M518.4,274.5L524.0,272.5L527.0,278.4L521.5,280.4Z" fill="#f3ff00" stroke="#f3ff00"/>
<path d="M422.8,124.3L428.1,123.0L430.7,125.5L425.4,126.7ZM470.8,125.3L476.1,123.9L479.0,126.7L473.7,128.2Z" fill="#09ff00" stroke="#09ff00"/>
<path d="M425.4,126.7L430.7,125.5L433.4,128.0L428.0,129.3Z" fill="#2aff00" stroke="#2aff00"/>
<path d="M428.0,129.3L433.4,128.0L436.1,130.7L430.7,132.0ZM543.3,145.9L548.5,144.2L551.7,148.1L546.4,149.8ZM566.4,158.5L571.7,156.7L574.9,161.0L569.6,162.8Z" fill="#4aff00" stroke="#4aff00"/>
<path d="M430.7,132.0L436.1,130.7L438.8,133.6L433.4,134.9ZM532.7,149.3L538.0,147.6L541.2,151.5L535.9,153.2ZM555.9,162.1L561.2,160.3L564.3,164.6L559.1,166.4Z" fill="#68ff00" stroke="#68ff00"/>
<path d="M433.4,134.9L438.8,133.6L441.6,136.5L436.1,137.9ZM563.4,224.7L568.8,222.7L571.8,228.1L566.4,230.1ZM564.9,205.1L570.3,203.2L573.4,208.3L568.0,210.3Z" fill="#84ff00" stroke="#84ff00"/>
<path d="M436.1,137.9L441.6,136.5L444.4,139.6L438.9,141.0ZM499.9,149.9L505.2,148.3L508.3,152.1L502.9,153.7Z" fill="#9fff00" stroke="#9fff00"/>
<path d="M438.9,141.0L444.4,139.6L447.2,142.9L441.7,144.3ZM506.0,157.6L511.4,156.0L514.5,160.0L509.1,161.6ZM544.9,193.9L550.3,192.1L553.4,197.0L548.0,198.9Z" fill="#b8ff00" stroke="#b8ff00"/>
<path d="M441.7,144.3L447.2,142.9L450.0,146.2L444.6,147.7Z" fill="#cfff00" stroke="#cfff00"/>
<path d="M444.6,147.7L450.0,146.2L452.9,149.7L447.4,151.2Z" fill="#e5ff00" stroke="#e5ff00"/>
<path d="M447.4,151.2L452.9,149.7L455.8,153.3L450.3,154.8ZM455.8,153.3L461.3,151.8L464.3,155.5L458.8,157.1ZM507.5,177.8L513.0,176.1L516.1,180.6L510.7,182.3Z" fill="#f9ff00" stroke="#f9ff00"/>
<path d="M453.3,158.6L458.8,157.1L461.7,160.9L456.2,162.5ZM516.6,234.6L522.1,232.7L525.2,238.2L519.7,240.1ZM496.6,181.2L502.1,179.5L505.2,184.0L499.7,185.8Z" fill="#ffe000" stroke="#ffe000"/>
<path d="M459.2,166.4L464.7,164.9L467.7,168.9L462.2,170.5Z" fill="#ffc200" stroke="#ffc200"/>
<path d="M465.2,174.8L470.8,173.1L473.8,177.4L468.2,179.1Z" fill="#ffaa00" stroke="#ffaa00"/>
<path d="M489.8,212.1L495.4,210.3L498.6,215.4L493.0,217.2Z" fill="#ff9100" stroke="#ff9100"/>
<path d="M493.0,217.2L498.6,215.4L501.7,220.5L496.1,222.4Z" fill="#ff9500" stroke="#ff9500"/>
<path d="M496.1,222.4L501.7,220.5L504.8,225.8L499.2,227.6Z" fill="#ff9b00" stroke="#ff9b00"/>
<path d="M502.3,233.0L507.9,231.1L511.0,236.5L505.4,238.4ZM476.9,181.8L482.4,180.2L485.5,184.6L479.9,186.3Z" fill="#ffad00" stroke="#ffad00"/>
<path d="M508.5,243.9L514.1,242.0L517.2,247.5L511.7,249.5Z" fill="#ffc500" stroke="#ffc500"/>
<path d="M511.7,249.5L517.2,247.5L520.3,253.2L514.7,255.1ZM513.5,229.2L519.0,227.3L522.1,232.7L516.6,234.6Z" fill="#ffd400" stroke="#ffd400"/>
<path d="M514.7,255.1L520.3,253.2L523.4,258.9L517.8,260.8Z" fill="#ffe500" stroke="#ffe500"/>
<path d="M520.9,266.6L526.5,264.6L529.5,270.5L524.0,272.5ZM523.4,258.9L529.0,256.9L532.0,262.7L526.5,264.6ZM504.4,173.4L509.9,171.7L513.0,176.1L507.5,177.8Z" fill="#f4ff00" stroke="#f4ff00"/>
<path d="M524.0,272.5L529.5,270.5L532.6,276.4L527.0,278.4ZM534.8,209.4L540.3,207.6L543.4,212.7L537.9,214.6Z" fill="#dfff00" stroke="#dfff00"/>
<path d="M428.1,123.0L433.5,121.8L436.1,124.2L430.7,125.5ZM606.5,221.7L611.8,219.7L614.7,225.1L609.5,227.2ZM549.5,130.0L554.6,128.4L557.8,131.8L552.6,133.5Z" fill="#00ff0a" stroke="#00ff0a"/>
<path d="M430.7,125.5L436.1,124.2L438.8,126.7L433.4,128.0Z" fill="#18ff00" stroke="#18ff00"/>
<path d="M433.4,128.0L438.8,126.7L441.5,129.4L436.1,130.7ZM556.9,146.3L562.2,144.6L565.3,148.5L560.1,150.3ZM568.5,152.6L573.7,150.8L576.9,154.9L571.7,156.7Z" fill="#37ff00" stroke="#37ff00"/>
<path d="M436.1,130.7L441.5,129.4L444.2,132.2L438.8,133.6ZM574.8,233.6L580.2,231.6L583.1,237.2L577.8,239.2ZM580.0,187.6L585.3,185.7L588.4,190.6L583.1,192.5Z" fill="#55ff00" stroke="#55ff00"/>
<path d="M438.8,133.6L444.2,132.2L447.0,135.2L441.6,136.5ZM535.9,153.2L541.2,151.5L544.3,155.5L539.0,157.2ZM547.5,159.6L552.7,157.9L555.9,162.1L550.6,163.9Z" fill="#72ff00" stroke="#72ff00"/>
<path d="M441.6,136.5L447.0,135.2L449.8,138.2L444.4,139.6ZM471.8,140.4L477.1,138.9L480.1,142.3L474.7,143.8ZM513.7,150.4L519.0,148.8L522.1,152.6L516.8,154.3ZM561.8,200.1L567.2,198.2L570.3,203.2L564.9,205.1ZM551.6,174.4L556.9,172.6L560.0,177.2L554.7,179.0ZM554.7,179.0L560.0,177.2L563.2,181.8L557.8,183.7Z" fill="#8cff00" stroke="#8cff00"/>
<path d="M444.4,139.6L449.8,138.2L452.6,141.5L447.2,142.9ZM552.6,228.6L558.0,226.6L561.1,232.0L555.7,234.0ZM554.2,208.9L559.6,207.0L562.7,212.2L557.3,214.1Z" fill="#a5ff00" stroke="#a5ff00"/>
<path d="M447.2,142.9L452.6,141.5L455.5,144.8L450.0,146.2ZM497.6,155.3L502.9,153.7L506.0,157.6L500.6,159.2ZM546.5,217.9L551.9,216.0L555.0,221.3L549.5,223.2ZM545.7,205.7L551.1,203.8L554.2,208.9L548.8,210.8Z" fill="#bdff00" stroke="#bdff00"/>
<path d="M450.0,146.2L455.5,144.8L458.4,148.2L452.9,149.7ZM503.7,163.3L509.1,161.6L512.2,165.8L506.8,167.4Z" fill="#d3ff00" stroke="#d3ff00"/>
<path d="M452.9,149.7L458.4,148.2L461.3,151.8L455.8,153.3ZM461.3,151.8L466.8,150.3L469.8,154.0L464.3,155.5Z" fill="#e7ff00" stroke="#e7ff00"/>
<path d="M464.7,164.9L470.3,163.3L473.3,167.3L467.7,168.9Z" fill="#ffd500" stroke="#ffd500"/>
<path d="M467.7,168.9L473.3,167.3L476.3,171.5L470.8,173.1ZM479.4,175.8L484.9,174.1L488.0,178.5L482.4,180.2ZM503.5,201.8L509.0,200.0L512.1,204.9L506.6,206.7Z" fill="#ffc800" stroke="#ffc800"/>
<path d="M470.8,173.1L476.3,171.5L479.4,175.8L473.8,177.4Z" fill="#ffbe00" stroke="#ffbe00"/>
<path d="M473.8,177.4L479.4,175.8L482.4,180.2L476.9,181.8ZM491.7,193.9L497.2,192.1L500.4,196.9L494.8,198.7ZM494.8,198.7L500.4,196.9L503.5,201.8L497.9,203.5Z" fill="#ffb400" stroke="#ffb400"/>
<path d="M489.2,200.4L494.8,198.7L497.9,203.5L492.3,205.3Z" fill="#ffa000" stroke="#ffa000"/>
<path d="M498.6,215.4L504.1,213.6L507.3,218.7L501.7,220.5Z" fill="#ffa900" stroke="#ffa900"/>
<path d="M501.7,220.5L507.3,218.7L510.4,223.9L504.8,225.8Z" fill="#ffaf00" stroke="#ffaf00"/>
<path d="M504.8,225.8L510.4,223.9L513.5,229.2L507.9,231.1ZM488.6,189.2L494.1,187.5L497.2,192.1L491.7,193.9Z" fill="#ffb700" stroke="#ffb700"/>
<path d="M514.1,242.0L519.7,240.1L522.8,245.6L517.2,247.5Z" fill="#ffd900" stroke="#ffd900"/>
<path d="M517.2,247.5L522.8,245.6L525.9,251.2L520.3,253.2ZM470.3,163.3L475.8,161.7L478.8,165.7L473.3,167.3ZM519.0,227.3L524.6,225.5L527.7,230.8L522.1,232.7Z" fill="#ffe800" stroke="#ffe800"/>
<path d="M520.3,253.2L525.9,251.2L529.0,256.9L523.4,258.9ZM499.0,175.1L504.4,173.4L507.5,177.8L502.1,179.5Z" fill="#fff800" stroke="#fff800"/>
<path d="M526.5,264.6L532.0,262.7L535.1,268.5L529.5,270.5ZM529.0,256.9L534.5,255.0L537.5,260.7L532.0,262.7Z" fill="#e1ff00" stroke="#e1ff00"/>
<path d="M529.5,270.5L535.1,268.5L538.1,274.4L532.6,276.4ZM530.1,181.6L535.5,179.8L538.6,184.4L533.2,186.2ZM533.2,186.2L538.6,184.4L541.8,189.1L536.3,191.0Z" fill="#ccff00" stroke="#ccff00"/>
<path d="M433.5,121.8L438.8,120.5L441.4,122.9L436.1,124.2ZM609.5,227.2L614.7,225.1L617.6,230.7L612.4,232.7ZM588.0,135.8L593.2,134.0L596.4,137.8L591.3,139.6Z" fill="#00ff1d" stroke="#00ff1d"/>
<path d="M436.1,124.2L441.4,122.9L444.1,125.4L438.8,126.7ZM601.3,223.7L606.5,221.7L609.5,227.2L604.2,229.2ZM552.6,133.5L557.8,131.8L561.0,135.4L555.8,137.1ZM608.0,201.8L613.3,199.8L616.3,205.0L611.0,207.0Z" fill="#06ff00" stroke="#06ff00"/>
<path d="M438.8,126.7L444.1,125.4L446.8,128.1L441.5,129.4ZM590.8,227.7L596.0,225.7L599.0,231.2L593.7,233.2ZM593.1,220.3L598.3,218.3L601.3,223.7L596.0,225.7ZM595.3,213.0L600.6,211.0L603.6,216.3L598.3,218.3ZM588.5,161.6L593.7,159.8L596.8,164.2L591.6,166.1ZM591.6,166.1L596.8,164.2L600.0,168.7L594.8,170.6Z" fill="#25ff00" stroke="#25ff00"/>
<path d="M441.5,129.4L446.8,128.1L449.6,130.9L444.2,132.2ZM484.8,132.7L490.1,131.2L493.1,134.4L487.8,135.9ZM577.8,239.2L583.1,237.2L586.1,242.8L580.8,244.8ZM584.8,216.9L590.1,214.9L593.1,220.3L587.8,222.2Z" fill="#43ff00" stroke="#43ff00"/>
<path d="M444.2,132.2L449.6,130.9L452.4,133.8L447.0,135.2ZM576.4,213.6L581.7,211.6L584.8,216.9L579.5,218.8Z" fill="#60ff00" stroke="#60ff00"/>
<path d="M449.8,138.2L455.2,136.8L458.1,140.0L452.6,141.5ZM558.7,195.1L564.1,193.3L567.2,198.2L561.8,200.1Z" fill="#93ff00" stroke="#93ff00"/>
<path d="M452.6,141.5L458.1,140.0L460.9,143.3L455.5,144.8ZM540.9,178.0L546.2,176.2L549.4,180.8L544.0,182.6Z" fill="#abff00" stroke="#abff00"/>
<path d="M455.5,144.8L460.9,143.3L463.9,146.8L458.4,148.2ZM489.1,153.1L494.5,151.5L497.6,155.3L492.1,156.9ZM520.7,168.3L526.1,166.6L529.2,170.9L523.8,172.6Z" fill="#c1ff00" stroke="#c1ff00"/>
<path d="M458.4,148.2L463.9,146.8L466.8,150.3L461.3,151.8ZM466.8,150.3L472.2,148.8L475.2,152.5L469.8,154.0ZM538.7,227.0L544.1,225.1L547.2,230.5L541.7,232.4Z" fill="#d5ff00" stroke="#d5ff00"/>
<path d="M473.3,167.3L478.8,165.7L481.8,169.9L476.3,171.5ZM499.7,185.8L505.2,184.0L508.3,188.7L502.8,190.4Z" fill="#ffdc00" stroke="#ffdc00"/>
<path d="M485.5,184.6L491.1,182.9L494.1,187.5L488.6,189.2Z" fill="#ffbb00" stroke="#ffbb00"/>
<path d="M507.3,218.7L512.8,216.9L515.9,222.1L510.4,223.9Z" fill="#ffc300" stroke="#ffc300"/>
<path d="M510.4,223.9L515.9,222.1L519.0,227.3L513.5,229.2ZM506.6,206.7L512.1,204.9L515.2,209.9L509.7,211.7Z" fill="#ffcb00" stroke="#ffcb00"/>
<path d="M519.7,240.1L525.2,238.2L528.3,243.7L522.8,245.6ZM490.4,172.5L495.9,170.8L499.0,175.1L493.5,176.8ZM508.3,188.7L513.8,186.9L516.9,191.6L511.4,193.4ZM514.5,198.2L520.0,196.4L523.1,201.3L517.6,203.1Z" fill="#ffed00" stroke="#ffed00"/>
<path d="M522.8,245.6L528.3,243.7L531.4,249.3L525.9,251.2Z" fill="#fffc00" stroke="#fffc00"/>
<path d="M525.9,251.2L531.4,249.3L534.5,255.0L529.0,256.9Z" fill="#f2ff00" stroke="#f2ff00"/>
<path d="M532.0,262.7L537.5,260.7L540.5,266.5L535.1,268.5ZM534.5,255.0L540.0,253.0L543.0,258.7L537.5,260.7ZM536.9,247.3L542.4,245.4L545.4,251.0L540.0,253.0ZM492.1,156.9L497.6,155.3L500.6,159.2L495.2,160.9ZM541.0,219.8L546.5,217.9L549.5,223.2L544.1,225.1ZM540.3,207.6L545.7,205.7L548.8,210.8L543.4,212.7Z" fill="#ceff00" stroke="#ceff00"/>
<path d="M535.1,268.5L540.5,266.5L543.6,272.4L538.1,274.4Z" fill="#b9ff00" stroke="#b9ff00"/>
<path d="M438.8,120.5L444.0,119.3L446.7,121.6L441.4,122.9ZM630.0,175.0L635.1,173.0L638.2,177.9L633.1,179.9ZM613.1,142.0L618.2,140.1L621.4,144.2L616.3,146.1Z" fill="#00ff30" stroke="#00ff30"/>
<path d="M441.4,122.9L446.7,121.6L449.4,124.1L444.1,125.4ZM604.2,229.2L609.5,227.2L612.4,232.7L607.2,234.7Z" fill="#00ff0d" stroke="#00ff0d"/>
<path d="M444.1,125.4L449.4,124.1L452.1,126.7L446.8,128.1ZM539.1,133.3L544.3,131.7L547.4,135.2L542.2,136.8ZM547.4,135.2L552.6,133.5L555.8,137.1L550.6,138.8ZM602.8,203.8L608.0,201.8L611.0,207.0L605.8,209.0Z" fill="#14ff00" stroke="#14ff00"/>
<path d="M446.8,128.1L452.1,126.7L454.9,129.5L449.6,130.9ZM592.3,207.7L597.6,205.7L600.6,211.0L595.3,213.0Z" fill="#32ff00" stroke="#32ff00"/>
<path d="M449.6,130.9L454.9,129.5L457.7,132.4L452.4,133.8ZM471.3,132.6L476.6,131.1L479.5,134.2L474.2,135.7ZM569.6,162.8L574.9,161.0L578.0,165.3L572.8,167.2ZM579.0,176.2L584.3,174.4L587.4,179.0L582.2,180.9Z" fill="#4eff00" stroke="#4eff00"/>
<path d="M452.4,133.8L457.7,132.4L460.6,135.4L455.2,136.8ZM571.6,184.7L576.9,182.8L580.0,187.6L574.7,189.5Z" fill="#69ff00" stroke="#69ff00"/>
<path d="M458.1,140.0L463.5,138.6L466.4,141.9L460.9,143.3Z" fill="#99ff00" stroke="#99ff00"/>
<path d="M460.9,143.3L466.4,141.9L469.3,145.3L463.9,146.8Z" fill="#afff00" stroke="#afff00"/>
<path d="M463.9,146.8L469.3,145.3L472.2,148.8L466.8,150.3ZM480.7,150.9L486.1,149.3L489.1,153.1L483.7,154.7ZM544.1,225.1L549.5,223.2L552.6,228.6L547.2,230.5ZM509.1,161.6L514.5,160.0L517.6,164.1L512.2,165.8Z" fill="#c3ff00" stroke="#c3ff00"/>
<path d="M469.8,154.0L475.2,152.5L478.2,156.2L472.8,157.8ZM533.2,228.9L538.7,227.0L541.7,232.4L536.3,234.3ZM531.7,204.4L537.2,202.6L540.3,207.6L534.8,209.4Z" fill="#e6ff00" stroke="#e6ff00"/>
<path d="M478.8,165.7L484.3,164.1L487.3,168.2L481.8,169.9Z" fill="#ffee00" stroke="#ffee00"/>
<path d="M481.8,169.9L487.3,168.2L490.4,172.5L484.9,174.1Z" fill="#ffe400" stroke="#ffe400"/>
<path d="M484.9,174.1L490.4,172.5L493.5,176.8L488.0,178.5ZM509.0,200.0L514.5,198.2L517.6,203.1L512.1,204.9Z" fill="#ffdb00" stroke="#ffdb00"/>
<path d="M488.0,178.5L493.5,176.8L496.6,181.2L491.1,182.9Z" fill="#ffd300" stroke="#ffd300"/>
<path d="M497.2,192.1L502.8,190.4L505.9,195.1L500.4,196.9ZM500.4,196.9L505.9,195.1L509.0,200.0L503.5,201.8Z" fill="#ffc700" stroke="#ffc700"/>
<path d="M531.4,249.3L536.9,247.3L540.0,253.0L534.5,255.0ZM486.7,158.5L492.1,156.9L495.2,160.9L489.8,162.5ZM535.6,221.7L541.0,219.8L544.1,225.1L538.7,227.0Z" fill="#e0ff00" stroke="#e0ff00"/>
<path d="M537.5,260.7L543.0,258.7L546.0,264.5L540.5,266.5ZM541.8,189.1L547.1,187.3L550.3,192.1L544.9,193.9Z" fill="#bbff00" stroke="#bbff00"/>
<path d="M540.5,266.5L546.0,264.5L549.0,270.4L543.6,272.4ZM550.3,192.1L555.6,190.3L558.7,195.1L553.4,197.0Z" fill="#a7ff00" stroke="#a7ff00"/>
<path d="M444.0,119.3L449.3,118.0L452.0,120.3L446.7,121.6ZM631.8,199.0L636.9,197.0L639.9,202.2L634.7,204.2ZM634.0,191.9L639.1,189.8L642.1,195.0L636.9,197.0ZM595.0,128.5L600.1,126.7L603.4,130.3L598.3,132.2Z" fill="#00ff42" stroke="#00ff42"/>
<path d="M446.7,121.6L452.0,120.3L454.7,122.8L449.4,124.1ZM538.0,125.1L543.2,123.5L546.3,126.7L541.1,128.3ZM617.5,156.6L622.7,154.7L625.8,159.1L620.7,161.1Z" fill="#00ff1f" stroke="#00ff1f"/>
<path d="M449.4,124.1L454.7,122.8L457.4,125.4L452.1,126.7Z" fill="#02ff00" stroke="#02ff00"/>
<path d="M452.1,126.7L457.4,125.4L460.2,128.1L454.9,129.5ZM582.1,153.1L587.3,151.3L590.5,155.5L585.3,157.3ZM597.9,175.2L603.1,173.3L606.2,178.0L601.0,180.0Z" fill="#20ff00" stroke="#20ff00"/>
<path d="M457.7,132.4L463.1,131.0L465.9,134.0L460.6,135.4Z" fill="#57ff00" stroke="#57ff00"/>
<path d="M460.6,135.4L465.9,134.0L468.8,137.1L463.5,138.6ZM556.9,260.5L562.3,258.5L565.3,264.3L559.9,266.3ZM571.1,215.5L576.4,213.6L579.5,218.8L574.1,220.8Z" fill="#70ff00" stroke="#70ff00"/>
<path d="M463.5,138.6L468.8,137.1L471.8,140.4L466.4,141.9ZM556.3,247.1L561.7,245.1L564.7,250.8L559.3,252.8ZM558.7,239.5L564.1,237.6L567.1,243.1L561.7,245.1ZM545.3,165.6L550.6,163.9L553.8,168.2L548.4,170.0Z" fill="#87ff00" stroke="#87ff00"/>
<path d="M466.4,141.9L471.8,140.4L474.7,143.8L469.3,145.3ZM556.5,202.0L561.8,200.1L564.9,205.1L559.6,207.0Z" fill="#9dff00" stroke="#9dff00"/>
<path d="M475.2,152.5L480.7,150.9L483.7,154.7L478.2,156.2ZM537.2,202.6L542.6,200.7L545.7,205.7L540.3,207.6Z" fill="#d4ff00" stroke="#d4ff00"/>
<path d="M481.2,160.1L486.7,158.5L489.8,162.5L484.3,164.1ZM530.1,223.6L535.6,221.7L538.7,227.0L533.2,228.9ZM529.4,211.3L534.8,209.4L537.9,214.6L532.5,216.5Z" fill="#f1ff00" stroke="#f1ff00"/>
<path d="M484.3,164.1L489.8,162.5L492.8,166.6L487.3,168.2ZM510.7,182.3L516.1,180.6L519.2,185.1L513.8,186.9Z" fill="#fdff00" stroke="#fdff00"/>
<path d="M502.8,190.4L508.3,188.7L511.4,193.4L505.9,195.1ZM505.9,195.1L511.4,193.4L514.5,198.2L509.0,200.0Z" fill="#ffda00" stroke="#ffda00"/>
<path d="M518.4,215.0L523.9,213.2L527.0,218.3L521.5,220.2Z" fill="#ffe900" stroke="#ffe900"/>
<path d="M530.8,236.2L536.3,234.3L539.3,239.8L533.8,241.8ZM489.8,162.5L495.2,160.9L498.3,164.9L492.8,166.6ZM516.1,180.6L521.6,178.8L524.7,183.4L519.2,185.1Z" fill="#ecff00" stroke="#ecff00"/>
<path d="M546.0,264.5L551.5,262.5L554.5,268.4L549.0,270.4ZM558.0,226.6L563.4,224.7L566.4,230.1L561.1,232.0Z" fill="#94ff00" stroke="#94ff00"/>
<path d="M449.3,118.0L454.5,116.7L457.2,119.0L452.0,120.3ZM523.6,117.7L528.7,116.2L531.8,119.0L526.6,120.6ZM566.8,120.1L571.9,118.4L575.1,121.6L570.0,123.3Z" fill="#00ff54" stroke="#00ff54"/>
<path d="M452.0,120.3L457.2,119.0L460.0,121.5L454.7,122.8ZM612.4,232.7L617.6,230.7L620.4,236.3L615.2,238.3ZM628.9,163.7L634.1,161.7L637.2,166.3L632.1,168.3Z" fill="#00ff31" stroke="#00ff31"/>
<path d="M454.7,122.8L460.0,121.5L462.7,124.0L457.4,125.4ZM532.8,126.7L538.0,125.1L541.1,128.3L536.0,130.0ZM617.6,185.8L622.8,183.8L625.8,188.8L620.6,190.8Z" fill="#00ff10" stroke="#00ff10"/>
<path d="M457.4,125.4L462.7,124.0L465.6,126.7L460.2,128.1ZM591.4,240.8L596.7,238.8L599.6,244.4L594.3,246.4Z" fill="#0fff00" stroke="#0fff00"/>
<path d="M460.2,128.1L465.6,126.7L468.4,129.6L463.1,131.0ZM578.4,252.5L583.7,250.5L586.6,256.2L581.3,258.3Z" fill="#2bff00" stroke="#2bff00"/>
<path d="M463.1,131.0L468.4,129.6L471.3,132.6L465.9,134.0ZM585.3,185.7L590.5,183.8L593.6,188.7L588.4,190.6Z" fill="#46ff00" stroke="#46ff00"/>
<path d="M465.9,134.0L471.3,132.6L474.2,135.7L468.8,137.1ZM562.3,258.5L567.7,256.5L570.6,262.3L565.3,264.3ZM504.5,139.5L509.8,138.0L512.8,141.4L507.5,143.0ZM512.8,141.4L518.1,139.8L521.2,143.4L515.9,145.1ZM521.2,143.4L526.5,141.8L529.6,145.5L524.3,147.1Z" fill="#5fff00" stroke="#5fff00"/>
<path d="M468.8,137.1L474.2,135.7L477.1,138.9L471.8,140.4ZM564.1,237.6L569.5,235.6L572.5,241.1L567.1,243.1Z" fill="#76ff00" stroke="#76ff00"/>
<path d="M477.7,147.3L483.1,145.7L486.1,149.3L480.7,150.9ZM486.1,149.3L491.5,147.8L494.5,151.5L489.1,153.1ZM549.5,223.2L555.0,221.3L558.0,226.6L552.6,228.6ZM514.5,160.0L519.9,158.3L523.0,162.4L517.6,164.1Z" fill="#b2ff00" stroke="#b2ff00"/>
<path d="M483.7,154.7L489.1,153.1L492.1,156.9L486.7,158.5ZM515.3,170.0L520.7,168.3L523.8,172.6L518.4,174.4Z" fill="#d2ff00" stroke="#d2ff00"/>
<path d="M492.8,166.6L498.3,164.9L501.4,169.1L495.9,170.8Z" fill="#f6ff00" stroke="#f6ff00"/>
<path d="M505.2,184.0L510.7,182.3L513.8,186.9L508.3,188.7Z" fill="#ffef00" stroke="#ffef00"/>
<path d="M511.4,193.4L516.9,191.6L520.0,196.4L514.5,198.2Z" fill="#ffec00" stroke="#ffec00"/>
<path d="M517.6,203.1L523.1,201.3L526.2,206.2L520.8,208.1Z" fill="#fff000" stroke="#fff000"/>
<path d="M520.8,208.1L526.2,206.2L529.4,211.3L523.9,213.2Z" fill="#fff500" stroke="#fff500"/>
<path d="M527.0,218.3L532.5,216.5L535.6,221.7L530.1,223.6ZM523.1,201.3L528.6,199.4L531.7,204.4L526.2,206.2Z" fill="#fbff00" stroke="#fbff00"/>
<path d="M539.3,239.8L544.8,237.9L547.9,243.4L542.4,245.4ZM512.2,165.8L517.6,164.1L520.7,168.3L515.3,170.0ZM536.3,191.0L541.8,189.1L544.9,193.9L539.5,195.8Z" fill="#cbff00" stroke="#cbff00"/>
<path d="M545.4,251.0L550.9,249.1L553.9,254.8L548.5,256.7ZM547.9,243.4L553.3,241.5L556.3,247.1L550.9,249.1ZM523.0,162.4L528.3,160.7L531.5,164.8L526.1,166.6ZM537.7,173.5L543.1,171.8L546.2,176.2L540.9,178.0ZM547.1,187.3L552.5,185.5L555.6,190.3L550.3,192.1Z" fill="#aaff00" stroke="#aaff00"/>
<path d="M548.5,256.7L553.9,254.8L556.9,260.5L551.5,262.5ZM555.7,234.0L561.1,232.0L564.1,237.6L558.7,239.5ZM555.6,190.3L561.0,188.4L564.1,193.3L558.7,195.1Z" fill="#97ff00" stroke="#97ff00"/>
<path d="M454.5,116.7L459.7,115.4L462.4,117.7L457.2,119.0ZM467.6,116.4L472.8,115.1L475.6,117.4L470.4,118.8Z" fill="#00ff66" stroke="#00ff66"/>
<path d="M457.2,119.0L462.4,117.7L465.2,120.1L460.0,121.5ZM540.0,120.4L545.2,118.8L548.3,121.9L543.2,123.5ZM570.0,123.3L575.1,121.6L578.4,125.0L573.3,126.7Z" fill="#00ff43" stroke="#00ff43"/>
<path d="M460.0,121.5L465.2,120.1L468.0,122.7L462.7,124.0ZM596.4,137.8L601.5,136.0L604.7,139.9L599.6,141.7Z" fill="#00ff22" stroke="#00ff22"/>
<path d="M462.7,124.0L468.0,122.7L470.8,125.3L465.6,126.7Z" fill="#00ff02" stroke="#00ff02"/>
<path d="M465.6,126.7L470.8,125.3L473.7,128.2L468.4,129.6ZM567.4,142.8L572.6,141.1L575.7,145.0L570.5,146.8Z" fill="#1aff00" stroke="#1aff00"/>
<path d="M468.4,129.6L473.7,128.2L476.6,131.1L471.3,132.6ZM587.8,222.2L593.1,220.3L596.0,225.7L590.8,227.7Z" fill="#35ff00" stroke="#35ff00"/>
<path d="M474.2,135.7L479.5,134.2L482.5,137.4L477.1,138.9ZM569.5,235.6L574.8,233.6L577.8,239.2L572.5,241.1ZM571.8,228.1L577.1,226.2L580.2,231.6L574.8,233.6ZM575.6,201.3L580.9,199.4L584.0,204.5L578.7,206.4Z" fill="#65ff00" stroke="#65ff00"/>
<path d="M483.1,145.7L488.5,144.2L491.5,147.8L486.1,149.3ZM491.5,147.8L496.8,146.2L499.9,149.9L494.5,151.5ZM555.0,221.3L560.4,219.3L563.4,224.7L558.0,226.6ZM531.5,164.8L536.8,163.1L540.0,167.4L534.6,169.1Z" fill="#a1ff00" stroke="#a1ff00"/>
<path d="M501.4,169.1L506.8,167.4L509.9,171.7L504.4,173.4ZM525.5,194.6L530.9,192.8L534.0,197.6L528.6,199.4Z" fill="#edff00" stroke="#edff00"/>
<path d="M513.8,186.9L519.2,185.1L522.4,189.8L516.9,191.6ZM516.9,191.6L522.4,189.8L525.5,194.6L520.0,196.4Z" fill="#ffff00" stroke="#ffff00"/>
<path d="M532.5,216.5L537.9,214.6L541.0,219.8L535.6,221.7Z" fill="#e9ff00" stroke="#e9ff00"/>
<path d="M541.7,232.4L547.2,230.5L550.2,235.9L544.8,237.9ZM539.5,195.8L544.9,193.9L548.0,198.9L542.6,200.7Z" fill="#c8ff00" stroke="#c8ff00"/>
<path d="M544.8,237.9L550.2,235.9L553.3,241.5L547.9,243.4ZM517.6,164.1L523.0,162.4L526.1,166.6L520.7,168.3ZM532.4,175.3L537.7,173.5L540.9,178.0L535.5,179.8Z" fill="#baff00" stroke="#baff00"/>
<path d="M550.9,249.1L556.3,247.1L559.3,252.8L553.9,254.8ZM553.3,241.5L558.7,239.5L561.7,245.1L556.3,247.1ZM516.8,154.3L522.1,152.6L525.2,156.6L519.9,158.3Z" fill="#98ff00" stroke="#98ff00"/>
<path d="M553.9,254.8L559.3,252.8L562.3,258.5L556.9,260.5Z" fill="#85ff00" stroke="#85ff00"/>
<path d="M459.7,115.4L464.9,114.1L467.6,116.4L462.4,117.7ZM499.2,114.3L504.3,112.8L507.3,115.3L502.1,116.8ZM590.4,116.4L595.4,114.7L598.7,118.0L593.6,119.7Z" fill="#00ff78" stroke="#00ff78"/>
<path d="M462.4,117.7L467.6,116.4L470.4,118.8L465.2,120.1ZM632.5,211.6L637.6,209.6L640.5,215.0L635.4,217.0Z" fill="#00ff55" stroke="#00ff55"/>
<path d="M465.2,120.1L470.4,118.8L473.2,121.3L468.0,122.7ZM573.3,126.7L578.4,125.0L581.6,128.4L576.5,130.2ZM581.6,128.4L586.7,126.7L589.9,130.3L584.8,132.0Z" fill="#00ff33" stroke="#00ff33"/>
<path d="M468.0,122.7L473.2,121.3L476.1,123.9L470.8,125.3ZM591.3,139.6L596.4,137.8L599.6,141.7L594.5,143.5Z" fill="#00ff14" stroke="#00ff14"/>
<path d="M473.7,128.2L479.0,126.7L481.9,129.7L476.6,131.1Z" fill="#24ff00" stroke="#24ff00"/>
<path d="M476.6,131.1L481.9,129.7L484.8,132.7L479.5,134.2ZM506.7,134.6L512.0,133.0L515.0,136.4L509.8,138.0ZM589.3,202.5L594.5,200.6L597.6,205.7L592.3,207.7Z" fill="#3dff00" stroke="#3dff00"/>
<path d="M482.5,137.4L487.8,135.9L490.8,139.2L485.5,140.7Z" fill="#6aff00" stroke="#6aff00"/>
<path d="M485.5,140.7L490.8,139.2L493.8,142.7L488.5,144.2ZM510.6,146.7L515.9,145.1L519.0,148.8L513.7,150.4Z" fill="#7eff00" stroke="#7eff00"/>
<path d="M488.5,144.2L493.8,142.7L496.8,146.2L491.5,147.8ZM496.8,146.2L502.2,144.6L505.2,148.3L499.9,149.9ZM560.4,219.3L565.7,217.4L568.8,222.7L563.4,224.7Z" fill="#90ff00" stroke="#90ff00"/>
<path d="M500.6,159.2L506.0,157.6L509.1,161.6L503.7,163.3Z" fill="#c9ff00" stroke="#c9ff00"/>
<path d="M506.8,167.4L512.2,165.8L515.3,170.0L509.9,171.7ZM530.9,192.8L536.3,191.0L539.5,195.8L534.0,197.6Z" fill="#dcff00" stroke="#dcff00"/>
<path d="M513.0,176.1L518.4,174.4L521.6,178.8L516.1,180.6Z" fill="#e8ff00" stroke="#e8ff00"/>
<path d="M537.9,214.6L543.4,212.7L546.5,217.9L541.0,219.8Z" fill="#d8ff00" stroke="#d8ff00"/>
<path d="M547.2,230.5L552.6,228.6L555.7,234.0L550.2,235.9ZM548.8,210.8L554.2,208.9L557.3,214.1L551.9,216.0ZM529.2,170.9L534.6,169.1L537.7,173.5L532.4,175.3Z" fill="#b6ff00" stroke="#b6ff00"/>
<path d="M559.3,252.8L564.7,250.8L567.7,256.5L562.3,258.5ZM568.8,222.7L574.1,220.8L577.1,226.2L571.8,228.1ZM569.4,191.4L574.7,189.5L577.8,194.4L572.5,196.3Z" fill="#73ff00" stroke="#73ff00"/>
<path d="M464.9,114.1L470.0,112.8L472.8,115.1L467.6,116.4ZM565.5,112.3L570.6,110.7L573.8,113.6L568.7,115.3ZM587.1,113.3L592.2,111.5L595.4,114.7L590.4,116.4Z" fill="#00ff89" stroke="#00ff89"/>
<path d="M470.4,118.8L475.6,117.4L478.5,119.9L473.2,121.3ZM603.4,130.3L608.5,128.5L611.7,132.3L606.6,134.1Z" fill="#00ff45" stroke="#00ff45"/>
<path d="M473.2,121.3L478.5,119.9L481.3,122.5L476.1,123.9ZM508.1,122.3L513.3,120.8L516.3,123.7L511.1,125.2ZM529.7,123.6L534.9,122.0L538.0,125.1L532.8,126.7ZM568.1,128.4L573.3,126.7L576.5,130.2L571.3,131.9Z" fill="#00ff25" stroke="#00ff25"/>
<path d="M476.1,123.9L481.3,122.5L484.2,125.3L479.0,126.7ZM608.8,214.3L614.0,212.3L617.0,217.7L611.8,219.7ZM611.0,207.0L616.3,205.0L619.2,210.3L614.0,212.3ZM597.7,147.6L602.8,145.7L606.0,149.9L600.9,151.8Z" fill="#00ff08" stroke="#00ff08"/>
<path d="M479.0,126.7L484.2,125.3L487.2,128.2L481.9,129.7ZM500.7,128.2L505.9,126.7L508.9,129.8L503.7,131.3ZM593.7,233.2L599.0,231.2L601.9,236.7L596.7,238.8ZM555.8,137.1L561.0,135.4L564.2,139.1L559.0,140.8ZM587.3,151.3L592.5,149.4L595.7,153.6L590.5,155.5Z" fill="#13ff00" stroke="#13ff00"/>
<path d="M481.9,129.7L487.2,128.2L490.1,131.2L484.8,132.7Z" fill="#2cff00" stroke="#2cff00"/>
<path d="M487.8,135.9L493.1,134.4L496.1,137.7L490.8,139.2ZM538.0,147.6L543.3,145.9L546.4,149.8L541.2,151.5ZM561.2,160.3L566.4,158.5L569.6,162.8L564.3,164.6Z" fill="#59ff00" stroke="#59ff00"/>
<path d="M490.8,139.2L496.1,137.7L499.1,141.1L493.8,142.7ZM572.5,196.3L577.8,194.4L580.9,199.4L575.6,201.3ZM562.2,170.8L567.5,169.0L570.6,173.5L565.3,175.3ZM565.3,175.3L570.6,173.5L573.8,178.1L568.5,180.0Z" fill="#6dff00" stroke="#6dff00"/>
<path d="M493.8,142.7L499.1,141.1L502.2,144.6L496.8,146.2Z" fill="#7fff00" stroke="#7fff00"/>
<path d="M502.9,153.7L508.3,152.1L511.4,156.0L506.0,157.6ZM551.1,203.8L556.5,202.0L559.6,207.0L554.2,208.9Z" fill="#adff00" stroke="#adff00"/>
<path d="M521.6,178.8L527.0,177.1L530.1,181.6L524.7,183.4Z" fill="#dbff00" stroke="#dbff00"/>
<path d="M534.0,197.6L539.5,195.8L542.6,200.7L537.2,202.6Z" fill="#d9ff00" stroke="#d9ff00"/>
<path d="M567.7,256.5L573.1,254.5L576.0,260.3L570.6,262.3ZM534.9,143.8L540.1,142.2L543.3,145.9L538.0,147.6ZM554.9,152.0L560.1,150.3L563.3,154.3L558.0,156.1Z" fill="#4dff00" stroke="#4dff00"/>
<path d="M470.0,112.8L475.2,111.5L478.0,113.7L472.8,115.1ZM535.8,110.4L540.9,108.9L544.0,111.5L538.9,113.1Z" fill="#00ff9a" stroke="#00ff9a"/>
<path d="M472.8,115.1L478.0,113.7L480.8,116.0L475.6,117.4ZM486.0,114.7L491.1,113.3L494.0,115.7L488.9,117.1Z" fill="#00ff77" stroke="#00ff77"/>
<path d="M475.6,117.4L480.8,116.0L483.7,118.5L478.5,119.9Z" fill="#00ff56" stroke="#00ff56"/>
<path d="M478.5,119.9L483.7,118.5L486.6,121.1L481.3,122.5ZM631.0,186.8L636.1,184.8L639.1,189.8L634.0,191.9Z" fill="#00ff36" stroke="#00ff36"/>
<path d="M481.3,122.5L486.6,121.1L489.5,123.9L484.2,125.3ZM611.8,219.7L617.0,217.7L619.9,223.1L614.7,225.1ZM579.7,133.8L584.8,132.0L588.0,135.8L582.9,137.5Z" fill="#00ff19" stroke="#00ff19"/>
<path d="M484.2,125.3L489.5,123.9L492.4,126.7L487.2,128.2ZM599.0,231.2L604.2,229.2L607.2,234.7L601.9,236.7ZM536.0,130.0L541.1,128.3L544.3,131.7L539.1,133.3ZM569.4,137.3L574.5,135.6L577.7,139.3L572.6,141.1ZM610.2,194.7L615.4,192.8L618.5,197.8L613.3,199.8Z" fill="#03ff00" stroke="#03ff00"/>
<path d="M487.2,128.2L492.4,126.7L495.4,129.7L490.1,131.2Z" fill="#1cff00" stroke="#1cff00"/>
<path d="M490.1,131.2L495.4,129.7L498.4,132.9L493.1,134.4ZM583.1,237.2L588.4,235.2L591.4,240.8L586.1,242.8ZM583.2,163.5L588.5,161.6L591.6,166.1L586.4,167.9ZM586.4,167.9L591.6,166.1L594.8,170.6L589.5,172.5Z" fill="#33ff00" stroke="#33ff00"/>
<path d="M493.1,134.4L498.4,132.9L501.4,136.1L496.1,137.7Z" fill="#49ff00" stroke="#49ff00"/>
<path d="M496.1,137.7L501.4,136.1L504.5,139.5L499.1,141.1ZM529.6,145.5L534.9,143.8L538.0,147.6L532.7,149.3ZM573.8,178.1L579.0,176.2L582.2,180.9L576.9,182.8Z" fill="#5dff00" stroke="#5dff00"/>
<path d="M502.2,144.6L507.5,143.0L510.6,146.7L505.2,148.3ZM565.7,217.4L571.1,215.5L574.1,220.8L568.8,222.7Z" fill="#80ff00" stroke="#80ff00"/>
<path d="M551.9,216.0L557.3,214.1L560.4,219.3L555.0,221.3ZM544.0,182.6L549.4,180.8L552.5,185.5L547.1,187.3Z" fill="#acff00" stroke="#acff00"/>
<path d="M561.1,232.0L566.4,230.1L569.5,235.6L564.1,237.6Z" fill="#86ff00" stroke="#86ff00"/>
<path d="M567.1,243.1L572.5,241.1L575.4,246.8L570.1,248.8ZM574.7,189.5L580.0,187.6L583.1,192.5L577.8,194.4Z" fill="#64ff00" stroke="#64ff00"/>
<path d="M570.1,248.8L575.4,246.8L578.4,252.5L573.1,254.5Z" fill="#51ff00" stroke="#51ff00"/>
<path d="M475.2,111.5L480.3,110.2L483.1,112.4L478.0,113.7Z" fill="#00ffab" stroke="#00ffab"/>
<path d="M478.0,113.7L483.1,112.4L486.0,114.7L480.8,116.0ZM491.1,113.3L496.2,111.9L499.2,114.3L494.0,115.7ZM504.3,112.8L509.4,111.4L512.4,113.9L507.3,115.3Z" fill="#00ff88" stroke="#00ff88"/>
<path d="M480.8,116.0L486.0,114.7L488.9,117.1L483.7,118.5ZM625.6,234.2L630.8,232.2L633.6,237.8L628.4,239.9ZM563.6,116.9L568.7,115.3L571.9,118.4L566.8,120.1Z" fill="#00ff67" stroke="#00ff67"/>
<path d="M483.7,118.5L488.9,117.1L491.8,119.7L486.6,121.1ZM627.3,213.6L632.5,211.6L635.4,217.0L630.2,219.0Z" fill="#00ff47" stroke="#00ff47"/>
<path d="M486.6,121.1L491.8,119.7L494.7,122.4L489.5,123.9ZM551.5,125.1L556.6,123.4L559.8,126.7L554.6,128.4ZM593.2,134.0L598.3,132.2L601.5,136.0L596.4,137.8Z" fill="#00ff2a" stroke="#00ff2a"/>
<path d="M489.5,123.9L494.7,122.4L497.7,125.3L492.4,126.7ZM594.5,143.5L599.6,141.7L602.8,145.7L597.7,147.6ZM616.6,174.2L621.8,172.2L624.9,177.0L619.7,179.0Z" fill="#00ff0e" stroke="#00ff0e"/>
<path d="M492.4,126.7L497.7,125.3L500.7,128.2L495.4,129.7ZM572.6,141.1L577.7,139.3L580.9,143.2L575.7,145.0Z" fill="#0cff00" stroke="#0cff00"/>
<path d="M495.4,129.7L500.7,128.2L503.7,131.3L498.4,132.9ZM588.4,235.2L593.7,233.2L596.7,238.8L591.4,240.8ZM597.6,205.7L602.8,203.8L605.8,209.0L600.6,211.0ZM598.9,186.7L604.1,184.8L607.2,189.7L602.0,191.7ZM585.3,157.3L590.5,155.5L593.7,159.8L588.5,161.6ZM594.8,170.6L600.0,168.7L603.1,173.3L597.9,175.2Z" fill="#23ff00" stroke="#23ff00"/>
<path d="M498.4,132.9L503.7,131.3L506.7,134.6L501.4,136.1Z" fill="#39ff00" stroke="#39ff00"/>
<path d="M501.4,136.1L506.7,134.6L509.8,138.0L504.5,139.5ZM584.0,204.5L589.3,202.5L592.3,207.7L587.0,209.7Z" fill="#4cff00" stroke="#4cff00"/>
<path d="M519.9,158.3L525.2,156.6L528.3,160.7L523.0,162.4Z" fill="#a2ff00" stroke="#a2ff00"/>
<path d="M557.3,214.1L562.7,212.2L565.7,217.4L560.4,219.3Z" fill="#9bff00" stroke="#9bff00"/>
<path d="M572.5,241.1L577.8,239.2L580.8,244.8L575.4,246.8ZM579.5,218.8L584.8,216.9L587.8,222.2L582.5,224.2Z" fill="#53ff00" stroke="#53ff00"/>
<path d="M575.4,246.8L580.8,244.8L583.7,250.5L578.4,252.5ZM523.4,138.2L528.6,136.6L531.8,140.2L526.5,141.8ZM531.8,140.2L537.0,138.5L540.1,142.2L534.9,143.8ZM588.4,190.6L593.6,188.7L596.7,193.6L591.5,195.5ZM584.3,174.4L589.5,172.5L592.7,177.1L587.4,179.0Z" fill="#40ff00" stroke="#40ff00"/>
<path d="M480.3,110.2L485.4,108.9L488.2,111.0L483.1,112.4Z" fill="#00ffbb" stroke="#00ffbb"/>
<path d="M483.1,112.4L488.2,111.0L491.1,113.3L486.0,114.7ZM496.2,111.9L501.3,110.5L504.3,112.8L499.2,114.3ZM509.4,111.4L514.5,109.9L517.5,112.4L512.4,113.9Z" fill="#00ff98" stroke="#00ff98"/>
<path d="M488.9,117.1L494.0,115.7L496.9,118.2L491.8,119.7Z" fill="#00ff58" stroke="#00ff58"/>
<path d="M491.8,119.7L496.9,118.2L499.9,120.9L494.7,122.4Z" fill="#00ff3a" stroke="#00ff3a"/>
<path d="M494.7,122.4L499.9,120.9L502.9,123.8L497.7,125.3ZM622.8,183.8L627.9,181.9L631.0,186.8L625.8,188.8ZM614.4,152.3L619.5,150.4L622.7,154.7L617.5,156.6Z" fill="#00ff1e" stroke="#00ff1e"/>
<path d="M497.7,125.3L502.9,123.8L505.9,126.7L500.7,128.2Z" fill="#00ff04" stroke="#00ff04"/>
<path d="M503.7,131.3L508.9,129.8L512.0,133.0L506.7,134.6ZM596.7,193.6L602.0,191.7L605.0,196.7L599.8,198.7ZM573.7,150.8L578.9,149.0L582.1,153.1L576.9,154.9ZM595.8,181.9L601.0,180.0L604.1,184.8L598.9,186.7Z" fill="#29ff00" stroke="#29ff00"/>
<path d="M515.9,145.1L521.2,143.4L524.3,147.1L519.0,148.8Z" fill="#6eff00" stroke="#6eff00"/>
<path d="M519.0,148.8L524.3,147.1L527.4,151.0L522.1,152.6ZM556.9,172.6L562.2,170.8L565.3,175.3L560.0,177.2Z" fill="#7cff00" stroke="#7cff00"/>
<path d="M522.1,152.6L527.4,151.0L530.6,154.9L525.2,156.6ZM561.0,188.4L566.3,186.5L569.4,191.4L564.1,193.3Z" fill="#88ff00" stroke="#88ff00"/>
<path d="M525.2,156.6L530.6,154.9L533.7,159.0L528.3,160.7Z" fill="#92ff00" stroke="#92ff00"/>
<path d="M528.3,160.7L533.7,159.0L536.8,163.1L531.5,164.8ZM543.1,171.8L548.4,170.0L551.6,174.4L546.2,176.2ZM552.5,185.5L557.8,183.7L561.0,188.4L555.6,190.3Z" fill="#9aff00" stroke="#9aff00"/>
<path d="M534.6,169.1L540.0,167.4L543.1,171.8L537.7,173.5Z" fill="#a6ff00" stroke="#a6ff00"/>
<path d="M562.7,212.2L568.0,210.3L571.1,215.5L565.7,217.4ZM557.8,183.7L563.2,181.8L566.3,186.5L561.0,188.4Z" fill="#8bff00" stroke="#8bff00"/>
<path d="M580.8,244.8L586.1,242.8L589.0,248.5L583.7,250.5ZM520.3,134.8L525.5,133.2L528.6,136.6L523.4,138.2ZM545.4,140.5L550.6,138.8L553.8,142.5L548.5,144.2Z" fill="#30ff00" stroke="#30ff00"/>
<path d="M485.4,108.9L490.5,107.5L493.3,109.6L488.2,111.0Z" fill="#00ffcc" stroke="#00ffcc"/>
<path d="M488.2,111.0L493.3,109.6L496.2,111.9L491.1,113.3Z" fill="#00ffa9" stroke="#00ffa9"/>
<path d="M494.0,115.7L499.2,114.3L502.1,116.8L496.9,118.2ZM542.0,115.9L547.1,114.3L550.3,117.2L545.2,118.8ZM635.4,217.0L640.5,215.0L643.4,220.4L638.2,222.5ZM593.6,119.7L598.7,118.0L602.0,121.4L596.9,123.1Z" fill="#00ff68" stroke="#00ff68"/>
<path d="M496.9,118.2L502.1,116.8L505.1,119.5L499.9,120.9ZM553.4,120.2L558.5,118.6L561.7,121.7L556.6,123.4ZM625.1,221.1L630.2,219.0L633.1,224.5L627.9,226.6Z" fill="#00ff4b" stroke="#00ff4b"/>
<path d="M499.9,120.9L505.1,119.5L508.1,122.3L502.9,123.8ZM601.5,136.0L606.6,134.1L609.9,138.0L604.7,139.9Z" fill="#00ff2f" stroke="#00ff2f"/>
<path d="M502.9,123.8L508.1,122.3L511.1,125.2L505.9,126.7ZM524.6,125.2L529.7,123.6L532.8,126.7L527.6,128.3ZM619.7,179.0L624.9,177.0L627.9,181.9L622.8,183.8Z" fill="#00ff15" stroke="#00ff15"/>
<path d="M505.9,126.7L511.1,125.2L514.2,128.3L508.9,129.8Z" fill="#04ff00" stroke="#04ff00"/>
<path d="M508.9,129.8L514.2,128.3L517.2,131.5L512.0,133.0Z" fill="#19ff00" stroke="#19ff00"/>
<path d="M512.0,133.0L517.2,131.5L520.3,134.8L515.0,136.4ZM553.8,142.5L559.0,140.8L562.2,144.6L556.9,146.3Z" fill="#2dff00" stroke="#2dff00"/>
<path d="M515.0,136.4L520.3,134.8L523.4,138.2L518.1,139.8ZM560.1,150.3L565.3,148.5L568.5,152.6L563.3,154.3ZM574.9,161.0L580.1,159.1L583.2,163.5L578.0,165.3Z" fill="#3fff00" stroke="#3fff00"/>
<path d="M518.1,139.8L523.4,138.2L526.5,141.8L521.2,143.4ZM581.7,211.6L587.0,209.7L590.1,214.9L584.8,216.9ZM572.8,167.2L578.0,165.3L581.2,169.8L575.9,171.7ZM575.9,171.7L581.2,169.8L584.3,174.4L579.0,176.2Z" fill="#50ff00" stroke="#50ff00"/>
<path d="M524.3,147.1L529.6,145.5L532.7,149.3L527.4,151.0ZM568.5,180.0L573.8,178.1L576.9,182.8L571.6,184.7Z" fill="#6cff00" stroke="#6cff00"/>
<path d="M527.4,151.0L532.7,149.3L535.9,153.2L530.6,154.9ZM566.3,186.5L571.6,184.7L574.7,189.5L569.4,191.4Z" fill="#78ff00" stroke="#78ff00"/>
<path d="M533.7,159.0L539.0,157.2L542.1,161.4L536.8,163.1ZM548.4,170.0L553.8,168.2L556.9,172.6L551.6,174.4Z" fill="#8aff00" stroke="#8aff00"/>
<path d="M536.8,163.1L542.1,161.4L545.3,165.6L540.0,167.4Z" fill="#91ff00" stroke="#91ff00"/>
<path d="M574.1,220.8L579.5,218.8L582.5,224.2L577.1,226.2ZM541.2,151.5L546.4,149.8L549.6,153.8L544.3,155.5ZM552.7,157.9L558.0,156.1L561.2,160.3L555.9,162.1Z" fill="#63ff00" stroke="#63ff00"/>
<path d="M580.2,231.6L585.5,229.7L588.4,235.2L583.1,237.2ZM582.5,224.2L587.8,222.2L590.8,227.7L585.5,229.7Z" fill="#44ff00" stroke="#44ff00"/>
<path d="M586.1,242.8L591.4,240.8L594.3,246.4L589.0,248.5ZM599.8,198.7L605.0,196.7L608.0,201.8L602.8,203.8Z" fill="#1fff00" stroke="#1fff00"/>
<path d="M589.0,248.5L594.3,246.4L597.2,252.2L591.9,254.2ZM514.2,128.3L519.4,126.7L522.4,129.9L517.2,131.5ZM598.9,157.9L604.0,156.0L607.2,160.4L602.0,162.3ZM602.0,162.3L607.2,160.4L610.4,164.9L605.2,166.8Z" fill="#0aff00" stroke="#0aff00"/>
<path d="M490.5,107.5L495.5,106.2L498.4,108.2L493.3,109.6Z" fill="#00ffdc" stroke="#00ffdc"/>
<path d="M493.3,109.6L498.4,108.2L501.3,110.5L496.2,111.9Z" fill="#00ffb9" stroke="#00ffb9"/>
<path d="M502.1,116.8L507.3,115.3L510.3,118.0L505.1,119.5ZM588.6,121.5L593.6,119.7L596.9,123.1L591.8,124.9ZM596.9,123.1L602.0,121.4L605.2,124.9L600.1,126.7Z" fill="#00ff5b" stroke="#00ff5b"/>
<path d="M505.1,119.5L510.3,118.0L513.3,120.8L508.1,122.3Z" fill="#00ff3f" stroke="#00ff3f"/>
<path d="M511.1,125.2L516.3,123.7L519.4,126.7L514.2,128.3ZM541.1,128.3L546.3,126.7L549.5,130.0L544.3,131.7ZM615.4,192.8L620.6,190.8L623.6,195.9L618.5,197.8Z" fill="#00ff0c" stroke="#00ff0c"/>
<path d="M517.2,131.5L522.4,129.9L525.5,133.2L520.3,134.8ZM559.0,140.8L564.2,139.1L567.4,142.8L562.2,144.6Z" fill="#1eff00" stroke="#1eff00"/>
<path d="M542.1,161.4L547.5,159.6L550.6,163.9L545.3,165.6Z" fill="#81ff00" stroke="#81ff00"/>
<path d="M564.1,193.3L569.4,191.4L572.5,196.3L567.2,198.2Z" fill="#83ff00" stroke="#83ff00"/>
<path d="M567.2,198.2L572.5,196.3L575.6,201.3L570.3,203.2ZM560.0,177.2L565.3,175.3L568.5,180.0L563.2,181.8Z" fill="#7dff00" stroke="#7dff00"/>
<path d="M573.4,208.3L578.7,206.4L581.7,211.6L576.4,213.6ZM544.3,155.5L549.6,153.8L552.7,157.9L547.5,159.6ZM559.1,166.4L564.3,164.6L567.5,169.0L562.2,170.8Z" fill="#6bff00" stroke="#6bff00"/>
<path d="M585.5,229.7L590.8,227.7L593.7,233.2L588.4,235.2ZM590.1,214.9L595.3,213.0L598.3,218.3L593.1,220.3Z" fill="#34ff00" stroke="#34ff00"/>
<path d="M594.3,246.4L599.6,244.4L602.4,250.2L597.2,252.2ZM519.4,126.7L524.6,125.2L527.6,128.3L522.4,129.9Z" fill="#00ff06" stroke="#00ff06"/>
<path d="M495.5,106.2L500.6,104.8L503.5,106.8L498.4,108.2Z" fill="#00ffeb" stroke="#00ffeb"/>
<path d="M498.4,108.2L503.5,106.8L506.4,109.0L501.3,110.5Z" fill="#00ffc9" stroke="#00ffc9"/>
<path d="M501.3,110.5L506.4,109.0L509.4,111.4L504.3,112.8ZM540.9,108.9L545.9,107.3L549.0,109.9L544.0,111.5Z" fill="#00ffa8" stroke="#00ffa8"/>
<path d="M507.3,115.3L512.4,113.9L515.4,116.5L510.3,118.0ZM585.3,118.2L590.4,116.4L593.6,119.7L588.6,121.5ZM647.2,192.9L652.3,190.9L655.2,196.1L650.1,198.1Z" fill="#00ff6b" stroke="#00ff6b"/>
<path d="M510.3,118.0L515.4,116.5L518.4,119.2L513.3,120.8ZM600.1,126.7L605.2,124.9L608.5,128.5L603.4,130.3Z" fill="#00ff4f" stroke="#00ff4f"/>
<path d="M513.3,120.8L518.4,119.2L521.5,122.1L516.3,123.7ZM564.9,125.0L570.0,123.3L573.3,126.7L568.1,128.4ZM624.4,208.3L629.6,206.3L632.5,211.6L627.3,213.6ZM589.9,130.3L595.0,128.5L598.3,132.2L593.2,134.0ZM609.9,138.0L615.0,136.2L618.2,140.1L613.1,142.0Z" fill="#00ff35" stroke="#00ff35"/>
<path d="M516.3,123.7L521.5,122.1L524.6,125.2L519.4,126.7ZM621.8,172.2L626.9,170.3L630.0,175.0L624.9,177.0Z" fill="#00ff1c" stroke="#00ff1c"/>
<path d="M522.4,129.9L527.6,128.3L530.8,131.6L525.5,133.2ZM584.1,147.2L589.3,145.4L592.5,149.4L587.3,151.3ZM606.2,178.0L611.4,176.1L614.5,180.9L609.3,182.9Z" fill="#0eff00" stroke="#0eff00"/>
<path d="M525.5,133.2L530.8,131.6L533.9,135.0L528.6,136.6ZM550.6,138.8L555.8,137.1L559.0,140.8L553.8,142.5Z" fill="#21ff00" stroke="#21ff00"/>
<path d="M528.6,136.6L533.9,135.0L537.0,138.5L531.8,140.2ZM537.0,138.5L542.2,136.8L545.4,140.5L540.1,142.2ZM565.3,148.5L570.5,146.8L573.7,150.8L568.5,152.6ZM593.6,188.7L598.9,186.7L602.0,191.7L596.7,193.6ZM580.1,159.1L585.3,157.3L588.5,161.6L583.2,163.5ZM589.5,172.5L594.8,170.6L597.9,175.2L592.7,177.1Z" fill="#31ff00" stroke="#31ff00"/>
<path d="M550.6,163.9L555.9,162.1L559.1,166.4L553.8,168.2Z" fill="#77ff00" stroke="#77ff00"/>
<path d="M578.7,206.4L584.0,204.5L587.0,209.7L581.7,211.6Z" fill="#5bff00" stroke="#5bff00"/>
<path d="M596.7,238.8L601.9,236.7L604.8,242.4L599.6,244.4ZM577.7,139.3L582.9,137.5L586.1,141.4L580.9,143.2ZM612.4,187.8L617.6,185.8L620.6,190.8L615.4,192.8Z" fill="#00ff01" stroke="#00ff01"/>
<path d="M599.6,244.4L604.8,242.4L607.7,248.1L602.4,250.2ZM614.0,212.3L619.2,210.3L622.2,215.6L617.0,217.7ZM563.0,130.1L568.1,128.4L571.3,131.9L566.2,133.7ZM616.3,205.0L621.4,203.0L624.4,208.3L619.2,210.3ZM618.7,167.6L623.8,165.6L626.9,170.3L621.8,172.2Z" fill="#00ff17" stroke="#00ff17"/>
<path d="M500.6,104.8L505.6,103.4L508.5,105.4L503.5,106.8Z" fill="#00fffb" stroke="#00fffb"/>
<path d="M503.5,106.8L508.5,105.4L511.5,107.6L506.4,109.0Z" fill="#00ffd8" stroke="#00ffd8"/>
<path d="M506.4,109.0L511.5,107.6L514.5,109.9L509.4,111.4Z" fill="#00ffb7" stroke="#00ffb7"/>
<path d="M512.4,113.9L517.5,112.4L520.5,115.0L515.4,116.5Z" fill="#00ff7a" stroke="#00ff7a"/>
<path d="M515.4,116.5L520.5,115.0L523.6,117.7L518.4,119.2ZM580.2,119.9L585.3,118.2L588.6,121.5L583.5,123.2ZM642.1,195.0L647.2,192.9L650.1,198.1L645.0,200.2Z" fill="#00ff5e" stroke="#00ff5e"/>
<path d="M518.4,119.2L523.6,117.7L526.6,120.6L521.5,122.1ZM629.6,206.3L634.7,204.2L637.6,209.6L632.5,211.6ZM636.1,184.8L641.2,182.8L644.2,187.8L639.1,189.8Z" fill="#00ff44" stroke="#00ff44"/>
<path d="M521.5,122.1L526.6,120.6L529.7,123.6L524.6,125.2ZM614.7,225.1L619.9,223.1L622.8,228.6L617.6,230.7ZM627.9,181.9L633.1,179.9L636.1,184.8L631.0,186.8ZM619.5,150.4L624.6,148.4L627.8,152.8L622.7,154.7ZM622.7,154.7L627.8,152.8L630.9,157.2L625.8,159.1Z" fill="#00ff2c" stroke="#00ff2c"/>
<path d="M527.6,128.3L532.8,126.7L536.0,130.0L530.8,131.6ZM589.3,145.4L594.5,143.5L597.7,147.6L592.5,149.4ZM611.4,176.1L616.6,174.2L619.7,179.0L614.5,180.9Z" fill="#00ff00" stroke="#00ff00"/>
<path d="M530.8,131.6L536.0,130.0L539.1,133.3L533.9,135.0ZM603.1,173.3L608.3,171.4L611.4,176.1L606.2,178.0Z" fill="#12ff00" stroke="#12ff00"/>
<path d="M533.9,135.0L539.1,133.3L542.2,136.8L537.0,138.5ZM542.2,136.8L547.4,135.2L550.6,138.8L545.4,140.5ZM570.5,146.8L575.7,145.0L578.9,149.0L573.7,150.8Z" fill="#22ff00" stroke="#22ff00"/>
<path d="M540.1,142.2L545.4,140.5L548.5,144.2L543.3,145.9Z" fill="#3eff00" stroke="#3eff00"/>
<path d="M577.8,194.4L583.1,192.5L586.2,197.5L580.9,199.4ZM567.5,169.0L572.8,167.2L575.9,171.7L570.6,173.5ZM570.6,173.5L575.9,171.7L579.0,176.2L573.8,178.1Z" fill="#5eff00" stroke="#5eff00"/>
<path d="M580.9,199.4L586.2,197.5L589.3,202.5L584.0,204.5Z" fill="#56ff00" stroke="#56ff00"/>
<path d="M596.0,225.7L601.3,223.7L604.2,229.2L599.0,231.2ZM575.7,145.0L580.9,143.2L584.1,147.2L578.9,149.0ZM604.1,184.8L609.3,182.9L612.4,187.8L607.2,189.7Z" fill="#15ff00" stroke="#15ff00"/>
<path d="M601.9,236.7L607.2,234.7L610.0,240.4L604.8,242.4ZM609.2,154.2L614.4,152.3L617.5,156.6L612.4,158.5ZM612.4,158.5L617.5,156.6L620.7,161.1L615.5,163.0Z" fill="#00ff11" stroke="#00ff11"/>
<path d="M604.8,242.4L610.0,240.4L612.9,246.1L607.7,248.1ZM559.8,126.7L564.9,125.0L568.1,128.4L563.0,130.1ZM584.8,132.0L589.9,130.3L593.2,134.0L588.0,135.8Z" fill="#00ff27" stroke="#00ff27"/>
<path d="M505.6,103.4L510.6,102.0L513.6,104.0L508.5,105.4ZM549.7,99.5L554.6,97.9L557.8,100.2L552.8,101.8Z" fill="#00f3ff" stroke="#00f3ff"/>
<path d="M508.5,105.4L513.6,104.0L516.6,106.2L511.5,107.6Z" fill="#00ffe7" stroke="#00ffe7"/>
<path d="M511.5,107.6L516.6,106.2L519.6,108.5L514.5,109.9Z" fill="#00ffc6" stroke="#00ffc6"/>
<path d="M514.5,109.9L519.6,108.5L522.6,110.9L517.5,112.4ZM527.7,109.4L532.7,107.9L535.8,110.4L530.7,112.0ZM653.6,216.3L658.7,214.2L661.4,219.7L656.4,221.8Z" fill="#00ffa7" stroke="#00ffa7"/>
<path d="M517.5,112.4L522.6,110.9L525.6,113.5L520.5,115.0Z" fill="#00ff8a" stroke="#00ff8a"/>
<path d="M520.5,115.0L525.6,113.5L528.7,116.2L523.6,117.7ZM555.4,115.6L560.4,114.0L563.6,116.9L558.5,118.6ZM633.1,224.5L638.2,222.5L641.1,228.1L635.9,230.1ZM645.0,200.2L650.1,198.1L653.0,203.4L647.9,205.5Z" fill="#00ff6e" stroke="#00ff6e"/>
<path d="M526.6,120.6L531.8,119.0L534.9,122.0L529.7,123.6Z" fill="#00ff3b" stroke="#00ff3b"/>
<path d="M548.5,144.2L553.8,142.5L556.9,146.3L551.7,148.1Z" fill="#3bff00" stroke="#3bff00"/>
<path d="M551.7,148.1L556.9,146.3L560.1,150.3L554.9,152.0ZM563.3,154.3L568.5,152.6L571.7,156.7L566.4,158.5Z" fill="#45ff00" stroke="#45ff00"/>
<path d="M576.9,182.8L582.2,180.9L585.3,185.7L580.0,187.6Z" fill="#5aff00" stroke="#5aff00"/>
<path d="M586.2,197.5L591.5,195.5L594.5,200.6L589.3,202.5Z" fill="#47ff00" stroke="#47ff00"/>
<path d="M598.3,218.3L603.6,216.3L606.5,221.7L601.3,223.7ZM600.6,211.0L605.8,209.0L608.8,214.3L603.6,216.3ZM590.5,155.5L595.7,153.6L598.9,157.9L593.7,159.8ZM600.0,168.7L605.2,166.8L608.3,171.4L603.1,173.3Z" fill="#16ff00" stroke="#16ff00"/>
<path d="M607.2,234.7L612.4,232.7L615.2,238.3L610.0,240.4Z" fill="#00ff21" stroke="#00ff21"/>
<path d="M610.0,240.4L615.2,238.3L618.1,244.0L612.9,246.1ZM556.6,123.4L561.7,121.7L564.9,125.0L559.8,126.7ZM622.2,215.6L627.3,213.6L630.2,219.0L625.1,221.1ZM598.3,132.2L603.4,130.3L606.6,134.1L601.5,136.0Z" fill="#00ff38" stroke="#00ff38"/>
<path d="M510.6,102.0L515.6,100.6L518.6,102.6L513.6,104.0Z" fill="#00e3ff" stroke="#00e3ff"/>
<path d="M513.6,104.0L518.6,102.6L521.6,104.7L516.6,106.2Z" fill="#00fff6" stroke="#00fff6"/>
<path d="M516.6,106.2L521.6,104.7L524.6,107.0L519.6,108.5Z" fill="#00ffd5" stroke="#00ffd5"/>
<path d="M519.6,108.5L524.6,107.0L527.7,109.4L522.6,110.9ZM532.7,107.9L537.8,106.4L540.9,108.9L535.8,110.4ZM545.9,107.3L550.9,105.8L554.1,108.4L549.0,109.9Z" fill="#00ffb6" stroke="#00ffb6"/>
<path d="M522.6,110.9L527.7,109.4L530.7,112.0L525.6,113.5ZM648.5,218.4L653.6,216.3L656.4,221.8L651.3,223.9Z" fill="#00ff99" stroke="#00ff99"/>
<path d="M525.6,113.5L530.7,112.0L533.8,114.6L528.7,116.2ZM638.2,222.5L643.4,220.4L646.2,226.0L641.1,228.1Z" fill="#00ff7d" stroke="#00ff7d"/>
<path d="M528.7,116.2L533.8,114.6L536.9,117.5L531.8,119.0ZM637.6,209.6L642.8,207.5L645.6,212.9L640.5,215.0Z" fill="#00ff63" stroke="#00ff63"/>
<path d="M531.8,119.0L536.9,117.5L540.0,120.4L534.9,122.0Z" fill="#00ff4a" stroke="#00ff4a"/>
<path d="M534.9,122.0L540.0,120.4L543.2,123.5L538.0,125.1ZM626.6,201.0L631.8,199.0L634.7,204.2L629.6,206.3ZM628.8,193.9L634.0,191.9L636.9,197.0L631.8,199.0Z" fill="#00ff34" stroke="#00ff34"/>
<path d="M544.3,131.7L549.5,130.0L552.6,133.5L547.4,135.2ZM561.0,135.4L566.2,133.7L569.4,137.3L564.2,139.1ZM592.5,149.4L597.7,147.6L600.9,151.8L595.7,153.6ZM608.3,171.4L613.5,169.5L616.6,174.2L611.4,176.1Z" fill="#05ff00" stroke="#05ff00"/>
<path d="M582.2,180.9L587.4,179.0L590.5,183.8L585.3,185.7Z" fill="#4bff00" stroke="#4bff00"/>
<path d="M591.5,195.5L596.7,193.6L599.8,198.7L594.5,200.6ZM590.5,183.8L595.8,181.9L598.9,186.7L593.6,188.7Z" fill="#38ff00" stroke="#38ff00"/>
<path d="M603.6,216.3L608.8,214.3L611.8,219.7L606.5,221.7ZM605.8,209.0L611.0,207.0L614.0,212.3L608.8,214.3ZM580.9,143.2L586.1,141.4L589.3,145.4L584.1,147.2ZM609.3,182.9L614.5,180.9L617.6,185.8L612.4,187.8Z" fill="#07ff00" stroke="#07ff00"/>
<path d="M615.2,238.3L620.4,236.3L623.3,242.0L618.1,244.0Z" fill="#00ff48" stroke="#00ff48"/>
<path d="M515.6,100.6L520.6,99.2L523.6,101.2L518.6,102.6Z" fill="#00d3ff" stroke="#00d3ff"/>
<path d="M518.6,102.6L523.6,101.2L526.6,103.3L521.6,104.7Z" fill="#00f9ff" stroke="#00f9ff"/>
<path d="M521.6,104.7L526.6,103.3L529.7,105.5L524.6,107.0Z" fill="#00ffe4" stroke="#00ffe4"/>
<path d="M524.6,107.0L529.7,105.5L532.7,107.9L527.7,109.4ZM564.1,105.2L569.1,103.5L572.4,106.2L567.3,107.8Z" fill="#00ffc5" stroke="#00ffc5"/>
<path d="M530.7,112.0L535.8,110.4L538.9,113.1L533.8,114.6ZM653.0,203.4L658.1,201.3L660.9,206.7L655.9,208.8Z" fill="#00ff8c" stroke="#00ff8c"/>
<path d="M533.8,114.6L538.9,113.1L542.0,115.9L536.9,117.5Z" fill="#00ff72" stroke="#00ff72"/>
<path d="M536.9,117.5L542.0,115.9L545.2,118.8L540.0,120.4ZM558.5,118.6L563.6,116.9L566.8,120.1L561.7,121.7Z" fill="#00ff59" stroke="#00ff59"/>
<path d="M543.2,123.5L548.3,121.9L551.5,125.1L546.3,126.7ZM625.8,159.1L630.9,157.2L634.1,161.7L628.9,163.7Z" fill="#00ff2e" stroke="#00ff2e"/>
<path d="M546.3,126.7L551.5,125.1L554.6,128.4L549.5,130.0ZM599.6,141.7L604.7,139.9L608.0,143.9L602.8,145.7Z" fill="#00ff1b" stroke="#00ff1b"/>
<path d="M562.2,144.6L567.4,142.8L570.5,146.8L565.3,148.5Z" fill="#28ff00" stroke="#28ff00"/>
<path d="M617.6,230.7L622.8,228.6L625.6,234.2L620.4,236.3ZM578.4,125.0L583.5,123.2L586.7,126.7L581.6,128.4ZM586.7,126.7L591.8,124.9L595.0,128.5L589.9,130.3Z" fill="#00ff41" stroke="#00ff41"/>
<path d="M620.4,236.3L625.6,234.2L628.4,239.9L623.3,242.0Z" fill="#00ff57" stroke="#00ff57"/>
<path d="M520.6,99.2L525.6,97.8L528.6,99.7L523.6,101.2Z" fill="#00c3ff" stroke="#00c3ff"/>
<path d="M523.6,101.2L528.6,99.7L531.6,101.8L526.6,103.3Z" fill="#00e9ff" stroke="#00e9ff"/>
<path d="M526.6,103.3L531.6,101.8L534.7,104.0L529.7,105.5Z" fill="#00fff2" stroke="#00fff2"/>
<path d="M529.7,105.5L534.7,104.0L537.8,106.4L532.7,107.9Z" fill="#00ffd3" stroke="#00ffd3"/>
<path d="M538.9,113.1L544.0,111.5L547.1,114.3L542.0,115.9Z" fill="#00ff80" stroke="#00ff80"/>
<path d="M545.2,118.8L550.3,117.2L553.4,120.2L548.3,121.9ZM641.2,182.8L646.3,180.8L649.3,185.8L644.2,187.8Z" fill="#00ff51" stroke="#00ff51"/>
<path d="M548.3,121.9L553.4,120.2L556.6,123.4L551.5,125.1Z" fill="#00ff3d" stroke="#00ff3d"/>
<path d="M554.6,128.4L559.8,126.7L563.0,130.1L557.8,131.8ZM571.3,131.9L576.5,130.2L579.7,133.8L574.5,135.6ZM618.5,197.8L623.6,195.9L626.6,201.0L621.4,203.0Z" fill="#00ff18" stroke="#00ff18"/>
<path d="M557.8,131.8L563.0,130.1L566.2,133.7L561.0,135.4ZM566.2,133.7L571.3,131.9L574.5,135.6L569.4,137.3ZM613.3,199.8L618.5,197.8L621.4,203.0L616.3,205.0ZM613.5,169.5L618.7,167.6L621.8,172.2L616.6,174.2Z" fill="#00ff09" stroke="#00ff09"/>
<path d="M564.2,139.1L569.4,137.3L572.6,141.1L567.4,142.8Z" fill="#10ff00" stroke="#10ff00"/>
<path d="M605.0,196.7L610.2,194.7L613.3,199.8L608.0,201.8Z" fill="#11ff00" stroke="#11ff00"/>
<path d="M617.0,217.7L622.2,215.6L625.1,221.1L619.9,223.1ZM626.9,170.3L632.1,168.3L635.1,173.0L630.0,175.0Z" fill="#00ff29" stroke="#00ff29"/>
<path d="M619.9,223.1L625.1,221.1L627.9,226.6L622.8,228.6ZM606.6,134.1L611.7,132.3L615.0,136.2L609.9,138.0Z" fill="#00ff3c" stroke="#00ff3c"/>
<path d="M622.8,228.6L627.9,226.6L630.8,232.2L625.6,234.2ZM575.1,121.6L580.2,119.9L583.5,123.2L578.4,125.0ZM636.9,197.0L642.1,195.0L645.0,200.2L639.9,202.2ZM639.1,189.8L644.2,187.8L647.2,192.9L642.1,195.0Z" fill="#00ff50" stroke="#00ff50"/>
<path d="M525.6,97.8L530.5,96.3L533.5,98.3L528.6,99.7ZM556.4,94.3L561.3,92.7L564.5,94.8L559.6,96.4Z" fill="#00b4ff" stroke="#00b4ff"/>
<path d="M528.6,99.7L533.5,98.3L536.6,100.3L531.6,101.8Z" fill="#00d9ff" stroke="#00d9ff"/>
<path d="M531.6,101.8L536.6,100.3L539.7,102.5L534.7,104.0Z" fill="#00fdff" stroke="#00fdff"/>
<path d="M534.7,104.0L539.7,102.5L542.8,104.8L537.8,106.4Z" fill="#00ffe1" stroke="#00ffe1"/>
<path d="M537.8,106.4L542.8,104.8L545.9,107.3L540.9,108.9ZM550.9,105.8L556.0,104.2L559.1,106.8L554.1,108.4Z" fill="#00ffc4" stroke="#00ffc4"/>
<path d="M544.0,111.5L549.0,109.9L552.2,112.7L547.1,114.3Z" fill="#00ff8e" stroke="#00ff8e"/>
<path d="M547.1,114.3L552.2,112.7L555.4,115.6L550.3,117.2ZM630.8,232.2L635.9,230.1L638.7,235.8L633.6,237.8ZM640.5,215.0L645.6,212.9L648.5,218.4L643.4,220.4Z" fill="#00ff76" stroke="#00ff76"/>
<path d="M550.3,117.2L555.4,115.6L558.5,118.6L553.4,120.2ZM639.9,202.2L645.0,200.2L647.9,205.5L642.8,207.5Z" fill="#00ff60" stroke="#00ff60"/>
<path d="M607.2,189.7L612.4,187.8L615.4,192.8L610.2,194.7Z" fill="#0dff00" stroke="#0dff00"/>
<path d="M619.2,210.3L624.4,208.3L627.3,213.6L622.2,215.6ZM621.4,203.0L626.6,201.0L629.6,206.3L624.4,208.3ZM576.5,130.2L581.6,128.4L584.8,132.0L579.7,133.8ZM623.6,195.9L628.8,193.9L631.8,199.0L626.6,201.0Z" fill="#00ff26" stroke="#00ff26"/>
<path d="M627.9,226.6L633.1,224.5L635.9,230.1L630.8,232.2Z" fill="#00ff5f" stroke="#00ff5f"/>
<path d="M530.5,96.3L535.4,94.9L538.5,96.8L533.5,98.3Z" fill="#00a4ff" stroke="#00a4ff"/>
<path d="M533.5,98.3L538.5,96.8L541.6,98.8L536.6,100.3Z" fill="#00caff" stroke="#00caff"/>
<path d="M536.6,100.3L541.6,98.8L544.7,101.0L539.7,102.5Z" fill="#00eeff" stroke="#00eeff"/>
<path d="M539.7,102.5L544.7,101.0L547.8,103.3L542.8,104.8Z" fill="#00ffef" stroke="#00ffef"/>
<path d="M542.8,104.8L547.8,103.3L550.9,105.8L545.9,107.3ZM556.0,104.2L561.0,102.6L564.1,105.2L559.1,106.8ZM569.1,103.5L574.1,101.9L577.4,104.5L572.4,106.2Z" fill="#00ffd2" stroke="#00ffd2"/>
<path d="M549.0,109.9L554.1,108.4L557.3,111.1L552.2,112.7ZM583.9,110.2L588.9,108.5L592.2,111.5L587.1,113.3Z" fill="#00ff9c" stroke="#00ff9c"/>
<path d="M552.2,112.7L557.3,111.1L560.4,114.0L555.4,115.6ZM645.6,212.9L650.8,210.8L653.6,216.3L648.5,218.4Z" fill="#00ff84" stroke="#00ff84"/>
<path d="M561.7,121.7L566.8,120.1L570.0,123.3L564.9,125.0ZM638.2,177.9L643.3,175.9L646.3,180.8L641.2,182.8Z" fill="#00ff46" stroke="#00ff46"/>
<path d="M574.5,135.6L579.7,133.8L582.9,137.5L577.7,139.3Z" fill="#00ff0b" stroke="#00ff0b"/>
<path d="M593.7,159.8L598.9,157.9L602.0,162.3L596.8,164.2ZM596.8,164.2L602.0,162.3L605.2,166.8L600.0,168.7Z" fill="#17ff00" stroke="#17ff00"/>
<path d="M630.2,219.0L635.4,217.0L638.2,222.5L633.1,224.5Z" fill="#00ff5a" stroke="#00ff5a"/>
<path d="M635.9,230.1L641.1,228.1L643.8,233.7L638.7,235.8Z" fill="#00ff85" stroke="#00ff85"/>
<path d="M535.4,94.9L540.4,93.4L543.4,95.3L538.5,96.8Z" fill="#0096ff" stroke="#0096ff"/>
<path d="M538.5,96.8L543.4,95.3L546.5,97.3L541.6,98.8Z" fill="#00bbff" stroke="#00bbff"/>
<path d="M541.6,98.8L546.5,97.3L549.7,99.5L544.7,101.0Z" fill="#00dfff" stroke="#00dfff"/>
<path d="M544.7,101.0L549.7,99.5L552.8,101.8L547.8,103.3Z" fill="#00fffd" stroke="#00fffd"/>
<path d="M547.8,103.3L552.8,101.8L556.0,104.2L550.9,105.8Z" fill="#00ffe0" stroke="#00ffe0"/>
<path d="M554.1,108.4L559.1,106.8L562.3,109.5L557.3,111.1Z" fill="#00ffaa" stroke="#00ffaa"/>
<path d="M557.3,111.1L562.3,109.5L565.5,112.3L560.4,114.0ZM650.8,210.8L655.9,208.8L658.7,214.2L653.6,216.3Z" fill="#00ff92" stroke="#00ff92"/>
<path d="M560.4,114.0L565.5,112.3L568.7,115.3L563.6,116.9ZM582.1,115.0L587.1,113.3L590.4,116.4L585.3,118.2Z" fill="#00ff7c" stroke="#00ff7c"/>
<path d="M582.9,137.5L588.0,135.8L591.3,139.6L586.1,141.4Z" fill="#00ff0f" stroke="#00ff0f"/>
<path d="M586.1,141.4L591.3,139.6L594.5,143.5L589.3,145.4ZM614.5,180.9L619.7,179.0L622.8,183.8L617.6,185.8Z" fill="#00ff07" stroke="#00ff07"/>
<path d="M595.7,153.6L600.9,151.8L604.0,156.0L598.9,157.9ZM605.2,166.8L610.4,164.9L613.5,169.5L608.3,171.4Z" fill="#08ff00" stroke="#08ff00"/>
<path d="M620.6,190.8L625.8,188.8L628.8,193.9L623.6,195.9Z" fill="#00ff1a" stroke="#00ff1a"/>
<path d="M641.1,228.1L646.2,226.0L648.9,231.6L643.8,233.7Z" fill="#00ff93" stroke="#00ff93"/>
<path d="M540.4,93.4L545.3,92.0L548.4,93.8L543.4,95.3Z" fill="#0087ff" stroke="#0087ff"/>
<path d="M543.4,95.3L548.4,93.8L551.5,95.8L546.5,97.3Z" fill="#00adff" stroke="#00adff"/>
<path d="M546.5,97.3L551.5,95.8L554.6,97.9L549.7,99.5Z" fill="#00d1ff" stroke="#00d1ff"/>
<path d="M552.8,101.8L557.8,100.2L561.0,102.6L556.0,104.2Z" fill="#00ffed" stroke="#00ffed"/>
<path d="M559.1,106.8L564.1,105.2L567.3,107.8L562.3,109.5Z" fill="#00ffb8" stroke="#00ffb8"/>
<path d="M562.3,109.5L567.3,107.8L570.6,110.7L565.5,112.3ZM655.9,208.8L660.9,206.7L663.7,212.1L658.7,214.2Z" fill="#00ffa0" stroke="#00ffa0"/>
<path d="M568.7,115.3L573.8,113.6L577.0,116.7L571.9,118.4Z" fill="#00ff75" stroke="#00ff75"/>
<path d="M571.9,118.4L577.0,116.7L580.2,119.9L575.1,121.6Z" fill="#00ff62" stroke="#00ff62"/>
<path d="M600.9,151.8L606.0,149.9L609.2,154.2L604.0,156.0ZM610.4,164.9L615.5,163.0L618.7,167.6L613.5,169.5Z" fill="#00ff05" stroke="#00ff05"/>
<path d="M604.0,156.0L609.2,154.2L612.4,158.5L607.2,160.4ZM607.2,160.4L612.4,158.5L615.5,163.0L610.4,164.9Z" fill="#00ff03" stroke="#00ff03"/>
<path d="M625.8,188.8L631.0,186.8L634.0,191.9L628.8,193.9ZM604.7,139.9L609.9,138.0L613.1,142.0L608.0,143.9Z" fill="#00ff28" stroke="#00ff28"/>
<path d="M634.7,204.2L639.9,202.2L642.8,207.5L637.6,209.6Z" fill="#00ff52" stroke="#00ff52"/>
<path d="M643.4,220.4L648.5,218.4L651.3,223.9L646.2,226.0Z" fill="#00ff8b" stroke="#00ff8b"/>
<path d="M646.2,226.0L651.3,223.9L654.0,229.5L648.9,231.6Z" fill="#00ffa2" stroke="#00ffa2"/>
<path d="M545.3,92.0L550.2,90.5L553.3,92.3L548.4,93.8Z" fill="#0079ff" stroke="#0079ff"/>
<path d="M548.4,93.8L553.3,92.3L556.4,94.3L551.5,95.8Z" fill="#009eff" stroke="#009eff"/>
<path d="M551.5,95.8L556.4,94.3L559.6,96.4L554.6,97.9Z" fill="#00c2ff" stroke="#00c2ff"/>
<path d="M554.6,97.9L559.6,96.4L562.7,98.6L557.8,100.2Z" fill="#00e4ff" stroke="#00e4ff"/>
<path d="M557.8,100.2L562.7,98.6L565.9,101.0L561.0,102.6Z" fill="#00fffa" stroke="#00fffa"/>
<path d="M561.0,102.6L565.9,101.0L569.1,103.5L564.1,105.2ZM574.1,101.9L579.1,100.2L582.4,102.9L577.4,104.5Z" fill="#00ffdf" stroke="#00ffdf"/>
<path d="M567.3,107.8L572.4,106.2L575.6,109.0L570.6,110.7Z" fill="#00ffad" stroke="#00ffad"/>
<path d="M570.6,110.7L575.6,109.0L578.8,111.9L573.8,113.6Z" fill="#00ff96" stroke="#00ff96"/>
<path d="M573.8,113.6L578.8,111.9L582.1,115.0L577.0,116.7Z" fill="#00ff82" stroke="#00ff82"/>
<path d="M577.0,116.7L582.1,115.0L585.3,118.2L580.2,119.9Z" fill="#00ff6f" stroke="#00ff6f"/>
<path d="M583.5,123.2L588.6,121.5L591.8,124.9L586.7,126.7ZM591.8,124.9L596.9,123.1L600.1,126.7L595.0,128.5Z" fill="#00ff4e" stroke="#00ff4e"/>
<path d="M602.8,145.7L608.0,143.9L611.2,148.0L606.0,149.9Z" fill="#00ff16" stroke="#00ff16"/>
<path d="M606.0,149.9L611.2,148.0L614.4,152.3L609.2,154.2ZM615.5,163.0L620.7,161.1L623.8,165.6L618.7,167.6Z" fill="#00ff13" stroke="#00ff13"/>
<path d="M624.9,177.0L630.0,175.0L633.1,179.9L627.9,181.9ZM608.0,143.9L613.1,142.0L616.3,146.1L611.2,148.0Z" fill="#00ff23" stroke="#00ff23"/>
<path d="M642.8,207.5L647.9,205.5L650.8,210.8L645.6,212.9Z" fill="#00ff71" stroke="#00ff71"/>
<path d="M651.3,223.9L656.4,221.8L659.1,227.4L654.0,229.5ZM580.6,107.3L585.6,105.6L588.9,108.5L583.9,110.2Z" fill="#00ffb0" stroke="#00ffb0"/>
<path d="M550.2,90.5L555.0,89.0L558.2,90.8L553.3,92.3Z" fill="#006bff" stroke="#006bff"/>
<path d="M553.3,92.3L558.2,90.8L561.3,92.7L556.4,94.3Z" fill="#0090ff" stroke="#0090ff"/>
<path d="M559.6,96.4L564.5,94.8L567.7,97.0L562.7,98.6Z" fill="#00d6ff" stroke="#00d6ff"/>
<path d="M562.7,98.6L567.7,97.0L570.9,99.4L565.9,101.0Z" fill="#00f6ff" stroke="#00f6ff"/>
<path d="M565.9,101.0L570.9,99.4L574.1,101.9L569.1,103.5Z" fill="#00ffec" stroke="#00ffec"/>
<path d="M572.4,106.2L577.4,104.5L580.6,107.3L575.6,109.0Z" fill="#00ffba" stroke="#00ffba"/>
<path d="M575.6,109.0L580.6,107.3L583.9,110.2L578.8,111.9Z" fill="#00ffa4" stroke="#00ffa4"/>
<path d="M578.8,111.9L583.9,110.2L587.1,113.3L582.1,115.0Z" fill="#00ff8f" stroke="#00ff8f"/>
<path d="M611.2,148.0L616.3,146.1L619.5,150.4L614.4,152.3ZM620.7,161.1L625.8,159.1L628.9,163.7L623.8,165.6Z" fill="#00ff20" stroke="#00ff20"/>
<path d="M623.8,165.6L628.9,163.7L632.1,168.3L626.9,170.3Z" fill="#00ff24" stroke="#00ff24"/>
<path d="M633.1,179.9L638.2,177.9L641.2,182.8L636.1,184.8Z" fill="#00ff39" stroke="#00ff39"/>
<path d="M647.9,205.5L653.0,203.4L655.9,208.8L650.8,210.8Z" fill="#00ff7f" stroke="#00ff7f"/>
<path d="M656.4,221.8L661.4,219.7L664.2,225.3L659.1,227.4Z" fill="#00ffbe" stroke="#00ffbe"/>
<path d="M555.0,89.0L559.9,87.5L563.1,89.2L558.2,90.8Z" fill="#005dff" stroke="#005dff"/>
<path d="M558.2,90.8L563.1,89.2L566.2,91.1L561.3,92.7Z" fill="#0083ff" stroke="#0083ff"/>
<path d="M561.3,92.7L566.2,91.1L569.4,93.2L564.5,94.8Z" fill="#00a7ff" stroke="#00a7ff"/>
<path d="M564.5,94.8L569.4,93.2L572.7,95.4L567.7,97.0Z" fill="#00c8ff" stroke="#00c8ff"/>
<path d="M567.7,97.0L572.7,95.4L575.9,97.8L570.9,99.4Z" fill="#00e8ff" stroke="#00e8ff"/>
<path d="M570.9,99.4L575.9,97.8L579.1,100.2L574.1,101.9Z" fill="#00fff8" stroke="#00fff8"/>
<path d="M577.4,104.5L582.4,102.9L585.6,105.6L580.6,107.3Z" fill="#00ffc7" stroke="#00ffc7"/>
<path d="M616.3,146.1L621.4,144.2L624.6,148.4L619.5,150.4Z" fill="#00ff2d" stroke="#00ff2d"/>
<path d="M632.1,168.3L637.2,166.3L640.3,171.0L635.1,173.0Z" fill="#00ff37" stroke="#00ff37"/>
<path d="M635.1,173.0L640.3,171.0L643.3,175.9L638.2,177.9Z" fill="#00ff3e" stroke="#00ff3e"/>
<path d="M644.2,187.8L649.3,185.8L652.3,190.9L647.2,192.9Z" fill="#00ff5d" stroke="#00ff5d"/>
<path d="M650.1,198.1L655.2,196.1L658.1,201.3L653.0,203.4Z" fill="#00ff7b" stroke="#00ff7b"/>
<path d="M658.7,214.2L663.7,212.1L666.5,217.6L661.4,219.7Z" fill="#00ffb5" stroke="#00ffb5"/>
<path d="M661.4,219.7L666.5,217.6L669.2,223.2L664.2,225.3Z" fill="#00ffcb" stroke="#00ffcb"/>
</g>
<path d="M379.2,133.9L382.7,137.8L386.3,142.1L390.1,146.6L393.9,151.4L397.8,156.5L401.8,161.8L405.9,167.4L410.0,173.3L414.2,179.4L418.5,185.7L422.8,192.3L427.2,199.0L431.6,206.0L436.0,213.2L440.5,220.5L445.1,228.1L449.6,235.8L454.2,243.7L458.8,251.8L463.4,260.1L468.0,268.4L472.6,277.0L477.2,285.6L481.8,294.4M381.8,133.3L385.3,137.2L389.0,141.5L392.7,146.0L396.5,150.8L400.5,155.9L404.5,161.2L408.5,166.8L412.7,172.6L416.9,178.7L421.2,185.0L425.5,191.5L429.9,198.2L434.3,205.2L438.8,212.4L443.3,219.7L447.8,227.3L452.3,235.0L456.9,242.9L461.5,250.9L466.1,259.2L470.7,267.5L475.3,276.0L479.9,284.7L484.5,293.5M384.4,132.8L387.9,136.7L391.6,140.9L395.3,145.4L399.2,150.2L403.1,155.2L407.1,160.5L411.2,166.1L415.4,171.9L419.6,177.9L423.9,184.2L428.2,190.7L432.6,197.5L437.0,204.4L441.5,211.6L446.0,218.9L450.5,226.4L455.1,234.1L459.6,242.0L464.2,250.1L468.8,258.3L473.4,266.6L478.0,275.1L482.6,283.8L487.2,292.5M386.9,132.2L390.5,136.1L394.2,140.3L398.0,144.8L401.8,149.5L405.8,154.6L409.8,159.8L413.9,165.4L418.0,171.2L422.3,177.2L426.5,183.5L430.9,190.0L435.3,196.7L439.7,203.6L444.2,210.8L448.7,218.1L453.2,225.6L457.8,233.3L462.3,241.2L466.9,249.2L471.5,257.4L476.1,265.7L480.7,274.2L485.3,282.8L489.8,291.6M389.5,131.7L393.1,135.5L396.8,139.7L400.6,144.2L404.4,148.9L408.4,153.9L412.4,159.2L416.5,164.7L420.7,170.5L424.9,176.5L429.2,182.8L433.6,189.2L438.0,195.9L442.4,202.8L446.9,210.0L451.4,217.3L455.9,224.8L460.5,232.5L465.0,240.3L469.6,248.3L474.2,256.5L478.8,264.8L483.4,273.3L488.0,281.9L492.5,290.7M392.1,131.1L395.7,135.0L399.4,139.1L403.2,143.6L407.1,148.3L411.0,153.3L415.1,158.5L419.2,164.0L423.4,169.8L427.6,175.8L431.9,182.0L436.3,188.5L440.7,195.2L445.1,202.1L449.6,209.2L454.1,216.5L458.6,223.9L463.2,231.6L467.7,239.4L472.3,247.5L476.9,255.6L481.5,263.9L486.1,272.4L490.6,281.0L495.2,289.7M394.6,130.6L398.3,134.4L402.0,138.5L405.8,142.9L409.7,147.6L413.6,152.6L417.7,157.8L421.8,163.3L426.0,169.1L430.3,175.1L434.6,181.3L438.9,187.7L443.3,194.4L447.8,201.3L452.3,208.4L456.8,215.6L461.3,223.1L465.9,230.8L470.4,238.6L475.0,246.6L479.6,254.7L484.2,263.0L488.7,271.5L493.3,280.1L497.8,288.8M397.2,130.0L400.8,133.8L404.6,137.9L408.4,142.3L412.3,147.0L416.3,152.0L420.3,157.2L424.5,162.7L428.7,168.4L432.9,174.3L437.2,180.5L441.6,187.0L446.0,193.6L450.5,200.5L454.9,207.6L459.4,214.8L464.0,222.3L468.5,229.9L473.1,237.7L477.7,245.7L482.3,253.8L486.8,262.1L491.4,270.6L495.9,279.1L500.5,287.9M399.7,129.4L403.4,133.2L407.1,137.3L411.0,141.7L414.9,146.4L418.9,151.3L423.0,156.5L427.1,162.0L431.3,167.7L435.6,173.6L439.9,179.8L444.3,186.2L448.7,192.9L453.1,199.7L457.6,206.7L462.1,214.0L466.7,221.4L471.2,229.1L475.8,236.9L480.3,244.8L484.9,253.0L489.5,261.2L494.1,269.7L498.6,278.2L503.1,286.9M402.3,128.9L406.0,132.7L409.7,136.7L413.6,141.1L417.5,145.7L421.5,150.7L425.6,155.8L429.7,161.3L433.9,167.0L438.2,172.9L442.5,179.1L446.9,185.5L451.3,192.1L455.8,198.9L460.3,205.9L464.8,213.2L469.3,220.6L473.9,228.2L478.4,236.0L483.0,244.0L487.6,252.1L492.1,260.3L496.7,268.7L501.2,277.3L505.8,286.0M404.8,128.3L408.5,132.1L412.3,136.1L416.1,140.5L420.1,145.1L424.1,150.0L428.2,155.2L432.4,160.6L436.6,166.3L440.9,172.2L445.2,178.3L449.6,184.7L454.0,191.3L458.5,198.1L462.9,205.1L467.5,212.4L472.0,219.8L476.5,227.4L481.1,235.1L485.7,243.1L490.2,251.2L494.8,259.4L499.4,267.8L503.9,276.4L508.4,285.1M407.4,127.8L411.1,131.5L414.8,135.5L418.7,139.9L422.7,144.5L426.7,149.3L430.8,154.5L435.0,159.9L439.2,165.5L443.5,171.4L447.8,177.6L452.2,183.9L456.6,190.5L461.1,197.3L465.6,204.3L470.1,211.5L474.7,218.9L479.2,226.5L483.8,234.3L488.3,242.2L492.9,250.3L497.5,258.5L502.0,266.9L506.5,275.5L511.0,284.1M409.9,127.2L413.6,130.9L417.4,134.9L421.3,139.2L425.2,143.8L429.3,148.7L433.4,153.8L437.6,159.2L441.8,164.8L446.1,170.7L450.5,176.8L454.9,183.2L459.3,189.7L463.8,196.5L468.3,203.5L472.8,210.7L477.3,218.1L481.9,225.7L486.4,233.4L491.0,241.3L495.5,249.4L500.1,257.6L504.6,266.0L509.2,274.5L513.6,283.2M412.4,126.6L416.1,130.3L419.9,134.3L423.8,138.6L427.8,143.2L431.9,148.0L436.0,153.1L440.2,158.5L444.4,164.1L448.7,170.0L453.1,176.1L457.5,182.4L461.9,189.0L466.4,195.7L470.9,202.7L475.4,209.9L480.0,217.3L484.5,224.8L489.1,232.5L493.6,240.4L498.2,248.5L502.7,256.7L507.3,265.1L511.8,273.6L516.3,282.3M414.9,126.1L418.7,129.7L422.5,133.7L426.4,138.0L430.4,142.5L434.5,147.4L438.6,152.5L442.8,157.8L447.1,163.4L451.4,169.3L455.7,175.3L460.1,181.7L464.6,188.2L469.0,194.9L473.5,201.9L478.1,209.1L482.6,216.4L487.2,224.0L491.7,231.7L496.3,239.6L500.8,247.6L505.4,255.8L509.9,264.2L514.4,272.7L518.9,281.3M417.4,125.5L421.2,129.2L425.0,133.1L429.0,137.4L433.0,141.9L437.0,146.7L441.2,151.8L445.4,157.1L449.7,162.7L454.0,168.5L458.3,174.6L462.8,180.9L467.2,187.4L471.7,194.2L476.2,201.1L480.7,208.2L485.2,215.6L489.8,223.1L494.3,230.8L498.9,238.7L503.4,246.7L508.0,254.9L512.5,263.3L517.0,271.8L521.5,280.4M419.9,124.9L423.7,128.6L427.6,132.5L431.5,136.7L435.5,141.3L439.6,146.0L443.8,151.1L448.0,156.4L452.3,162.0L456.6,167.8L461.0,173.8L465.4,180.1L469.8,186.6L474.3,193.4L478.8,200.3L483.3,207.4L487.9,214.7L492.4,222.3L497.0,229.9L501.5,237.8L506.1,245.8L510.6,254.0L515.1,262.4L519.6,270.8L524.1,279.4M422.4,124.3L426.2,128.0L430.1,131.9L434.0,136.1L438.1,140.6L442.2,145.4L446.3,150.4L450.6,155.7L454.8,161.3L459.2,167.1L463.6,173.1L468.0,179.4L472.4,185.9L476.9,192.6L481.4,199.5L486.0,206.6L490.5,213.9L495.0,221.4L499.6,229.1L504.1,236.9L508.7,244.9L513.2,253.1L517.7,261.4L522.2,269.9L526.7,278.5M424.9,123.8L428.7,127.4L432.6,131.3L436.6,135.5L440.6,140.0L444.7,144.7L448.9,149.7L453.1,155.0L457.4,160.5L461.8,166.3L466.2,172.3L470.6,178.6L475.1,185.1L479.5,191.8L484.0,198.7L488.6,205.8L493.1,213.1L497.7,220.5L502.2,228.2L506.8,236.1L511.3,244.1L515.8,252.2L520.3,260.5L524.8,269.0L529.3,277.6M427.4,123.2L431.2,126.8L435.1,130.7L439.1,134.8L443.2,139.3L447.3,144.0L451.5,149.0L455.7,154.3L460.0,159.8L464.4,165.6L468.8,171.6L473.2,177.8L477.7,184.3L482.1,191.0L486.7,197.8L491.2,204.9L495.7,212.2L500.3,219.7L504.8,227.3L509.4,235.2L513.9,243.2L518.4,251.3L522.9,259.6L527.4,268.1L531.8,276.6M429.9,122.6L433.7,126.2L437.6,130.1L441.6,134.2L445.7,138.7L449.8,143.4L454.0,148.4L458.3,153.6L462.6,159.1L467.0,164.8L471.4,170.8L475.8,177.1L480.3,183.5L484.8,190.2L489.3,197.0L493.8,204.1L498.3,211.4L502.9,218.8L507.4,226.5L512.0,234.3L516.5,242.3L521.0,250.4L525.5,258.7L530.0,267.1L534.4,275.7M432.4,122.0L436.2,125.6L440.2,129.4L444.2,133.6L448.2,138.0L452.4,142.7L456.6,147.7L460.8,152.9L465.2,158.4L469.5,164.1L473.9,170.1L478.4,176.3L482.9,182.7L487.4,189.4L491.9,196.2L496.4,203.3L501.0,210.5L505.5,218.0L510.0,225.6L514.6,233.4L519.1,241.4L523.6,249.5L528.1,257.8L532.6,266.2L537.0,274.8M434.9,121.5L438.7,125.0L442.7,128.8L446.7,132.9L450.8,137.3L454.9,142.0L459.1,147.0L463.4,152.2L467.7,157.7L472.1,163.4L476.5,169.3L481.0,175.5L485.4,181.9L490.0,188.6L494.5,195.4L499.0,202.5L503.6,209.7L508.1,217.1L512.6,224.7L517.2,232.5L521.7,240.5L526.2,248.6L530.7,256.9L535.1,265.3L539.5,273.8M437.3,120.9L441.2,124.4L445.2,128.2L449.2,132.3L453.3,136.7L457.4,141.4L461.7,146.3L466.0,151.5L470.3,156.9L474.7,162.6L479.1,168.6L483.6,174.7L488.0,181.1L492.5,187.8L497.1,194.6L501.6,201.6L506.1,208.8L510.7,216.3L515.2,223.9L519.8,231.6L524.3,239.6L528.8,247.7L533.3,256.0L537.7,264.4L542.1,272.9M439.8,120.3L443.7,123.8L447.6,127.6L451.7,131.7L455.8,136.0L460.0,140.7L464.2,145.6L468.5,150.8L472.9,156.2L477.2,161.9L481.7,167.8L486.1,174.0L490.6,180.4L495.1,187.0L499.7,193.8L504.2,200.8L508.7,208.0L513.3,215.4L517.8,223.0L522.4,230.8L526.9,238.7L531.4,246.8L535.8,255.0L540.3,263.4L544.7,272.0M442.3,119.7L446.2,123.2L450.1,127.0L454.2,131.0L458.3,135.4L462.5,140.0L466.8,144.9L471.1,150.1L475.4,155.5L479.8,161.1L484.2,167.1L488.7,173.2L493.2,179.6L497.7,186.1L502.2,192.9L506.8,200.0L511.3,207.2L515.9,214.6L520.4,222.1L524.9,229.9L529.4,237.8L533.9,245.9L538.4,254.1L542.8,262.5L547.2,271.0M444.7,119.1L448.6,122.6L452.6,126.3L456.7,130.4L460.8,134.7L465.0,139.3L469.3,144.2L473.6,149.3L478.0,154.7L482.4,160.4L486.8,166.3L491.3,172.4L495.8,178.8L500.3,185.3L504.8,192.1L509.4,199.1L513.9,206.3L518.4,213.7L523.0,221.3L527.5,229.0L532.0,236.9L536.5,245.0L541.0,253.2L545.4,261.6L549.8,270.1M447.2,118.5L451.1,122.0L455.1,125.7L459.2,129.7L463.3,134.0L467.5,138.6L471.8,143.5L476.1,148.6L480.5,154.0L484.9,159.7L489.3,165.5L493.8,171.6L498.3,178.0L502.8,184.5L507.4,191.3L511.9,198.3L516.5,205.5L521.0,212.8L525.6,220.4L530.1,228.1L534.6,236.0L539.1,244.1L543.5,252.3L547.9,260.7L552.3,269.2M449.6,117.9L453.6,121.3L457.6,125.1L461.7,129.1L465.8,133.4L470.0,138.0L474.3,142.8L478.7,147.9L483.0,153.3L487.4,158.9L491.9,164.8L496.4,170.9L500.9,177.2L505.4,183.7L510.0,190.5L514.5,197.5L519.0,204.6L523.6,212.0L528.1,219.5L532.6,227.2L537.1,235.1L541.6,243.2L546.1,251.4L550.5,259.7L554.8,268.2M452.1,117.3L456.0,120.7L460.0,124.4L464.1,128.4L468.3,132.7L472.5,137.3L476.8,142.1L481.2,147.2L485.6,152.6L490.0,158.2L494.4,164.0L498.9,170.1L503.4,176.4L508.0,182.9L512.5,189.7L517.1,196.6L521.6,203.8L526.1,211.1L530.7,218.6L535.2,226.3L539.7,234.2L544.2,242.3L548.6,250.4L553.0,258.8L557.4,267.3M454.5,116.7L458.5,120.1L462.5,123.8L466.6,127.8L470.8,132.0L475.0,136.6L479.3,141.4L483.7,146.5L488.1,151.8L492.5,157.4L497.0,163.2L501.5,169.3L506.0,175.6L510.5,182.1L515.1,188.8L519.6,195.8L524.2,202.9L528.7,210.2L533.2,217.8L537.8,225.4L542.2,233.3L546.7,241.3L551.1,249.5L555.5,257.9L559.9,266.3M456.9,116.1L460.9,119.5L465.0,123.2L469.1,127.1L473.3,131.4L477.5,135.9L481.9,140.7L486.2,145.8L490.6,151.1L495.1,156.7L499.5,162.5L504.0,168.5L508.5,174.8L513.1,181.3L517.6,188.0L522.2,194.9L526.7,202.1L531.3,209.4L535.8,216.9L540.3,224.6L544.8,232.4L549.3,240.4L553.7,248.6L558.1,256.9L562.4,265.4M459.3,115.5L463.3,118.9L467.4,122.5L471.6,126.5L475.8,130.7L480.0,135.2L484.4,140.0L488.7,145.0L493.1,150.3L497.6,155.9L502.1,161.7L506.6,167.7L511.1,174.0L515.6,180.5L520.2,187.2L524.7,194.1L529.3,201.2L533.8,208.5L538.3,216.0L542.8,223.7L547.3,231.5L551.8,239.5L556.2,247.7L560.6,256.0L564.9,264.5M461.8,114.9L465.8,118.3L469.9,121.9L474.0,125.8L478.2,130.0L482.5,134.5L486.8,139.3L491.2,144.3L495.6,149.6L500.1,155.1L504.6,160.9L509.1,166.9L513.6,173.2L518.2,179.7L522.7,186.4L527.3,193.3L531.8,200.4L536.4,207.6L540.9,215.1L545.4,222.8L549.9,230.6L554.3,238.6L558.7,246.8L563.1,255.1L567.4,263.5M464.2,114.3L468.2,117.6L472.3,121.2L476.5,125.2L480.7,129.4L485.0,133.8L489.3,138.6L493.7,143.6L498.2,148.9L502.6,154.4L507.1,160.2L511.6,166.2L516.2,172.4L520.7,178.9L525.3,185.5L529.8,192.4L534.4,199.5L538.9,206.8L543.4,214.2L547.9,221.9L552.4,229.7L556.8,237.7L561.3,245.8L565.6,254.1L569.9,262.6M466.6,113.7L470.6,117.0L474.8,120.6L478.9,124.5L483.2,128.7L487.5,133.1L491.8,137.9L496.2,142.9L500.7,148.1L505.1,153.6L509.6,159.4L514.1,165.4L518.7,171.6L523.2,178.0L527.8,184.7L532.3,191.6L536.9,198.6L541.4,205.9L546.0,213.4L550.5,221.0L554.9,228.8L559.4,236.8L563.8,244.9L568.1,253.2L572.4,261.6M469.0,113.1L473.1,116.4L477.2,120.0L481.4,123.8L485.6,128.0L489.9,132.4L494.3,137.2L498.7,142.1L503.2,147.4L507.6,152.9L512.1,158.6L516.7,164.6L521.2,170.8L525.8,177.2L530.3,183.9L534.9,190.7L539.4,197.8L544.0,205.0L548.5,212.5L553.0,220.1L557.5,227.9L561.9,235.9L566.3,244.0L570.6,252.3L574.9,260.7M471.4,112.5L475.5,115.8L479.6,119.3L483.8,123.2L488.1,127.3L492.4,131.7L496.8,136.4L501.2,141.4L505.7,146.6L510.1,152.1L514.6,157.8L519.2,163.8L523.7,170.0L528.3,176.4L532.8,183.0L537.4,189.9L542.0,196.9L546.5,204.2L551.0,211.6L555.5,219.2L560.0,227.0L564.4,235.0L568.8,243.1L573.1,251.3L577.4,259.8M473.8,111.9L477.9,115.1L482.0,118.7L486.3,122.5L490.5,126.6L494.9,131.0L499.3,135.7L503.7,140.7L508.1,145.9L512.6,151.3L517.2,157.1L521.7,163.0L526.2,169.2L530.8,175.6L535.4,182.2L539.9,189.0L544.5,196.1L549.0,203.3L553.5,210.7L558.0,218.3L562.5,226.1L566.9,234.0L571.3,242.1L575.6,250.4L579.9,258.8M476.2,111.3L480.3,114.5L484.5,118.0L488.7,121.8L493.0,125.9L497.3,130.3L501.7,135.0L506.2,139.9L510.6,145.1L515.1,150.6L519.7,156.3L524.2,162.2L528.7,168.4L533.3,174.8L537.9,181.4L542.4,188.2L547.0,195.2L551.5,202.4L556.0,209.8L560.5,217.4L565.0,225.2L569.4,233.1L573.8,241.2L578.1,249.5L582.4,257.9M478.6,110.6L482.7,113.9L486.9,117.4L491.1,121.2L495.4,125.3L499.8,129.6L504.2,134.3L508.6,139.2L513.1,144.4L517.6,149.8L522.1,155.5L526.7,161.4L531.3,167.6L535.8,173.9L540.4,180.5L545.0,187.3L549.5,194.3L554.0,201.5L558.6,208.9L563.0,216.5L567.5,224.3L571.9,232.2L576.3,240.3L580.6,248.5L584.9,256.9M481.0,110.0L485.1,113.2L489.3,116.7L493.6,120.5L497.9,124.6L502.2,128.9L506.7,133.6L511.1,138.5L515.6,143.6L520.1,149.0L524.6,154.7L529.2,160.6L533.8,166.7L538.3,173.1L542.9,179.7L547.5,186.5L552.0,193.5L556.6,200.7L561.1,208.1L565.5,215.6L570.0,223.4L574.4,231.3L578.8,239.4L583.1,247.6L587.3,256.0M483.4,109.4L487.5,112.6L491.7,116.0L496.0,119.8L500.3,123.9L504.7,128.2L509.1,132.8L513.6,137.7L518.1,142.9L522.6,148.3L527.1,153.9L531.7,159.8L536.3,165.9L540.8,172.3L545.4,178.9L550.0,185.6L554.5,192.6L559.1,199.8L563.6,207.2L568.0,214.7L572.5,222.5L576.9,230.4L581.3,238.4L585.6,246.7L589.8,255.0M485.7,108.8L489.9,111.9L494.1,115.4L498.4,119.1L502.7,123.2L507.1,127.5L511.6,132.1L516.0,137.0L520.5,142.1L525.1,147.5L529.6,153.1L534.2,159.0L538.7,165.1L543.3,171.5L547.9,178.0L552.5,184.8L557.0,191.7L561.6,198.9L566.1,206.3L570.5,213.8L575.0,221.6L579.4,229.4L583.7,237.5L588.0,245.7L592.3,254.1M488.1,108.1L492.3,111.3L496.5,114.7L500.8,118.5L505.2,122.5L509.6,126.8L514.0,131.4L518.5,136.2L523.0,141.4L527.5,146.7L532.1,152.3L536.7,158.2L541.2,164.3L545.8,170.6L550.4,177.2L555.0,183.9L559.5,190.9L564.1,198.0L568.6,205.4L573.0,212.9L577.5,220.6L581.9,228.5L586.2,236.6L590.5,244.8L594.7,253.1M490.5,107.5L494.7,110.6L498.9,114.1L503.2,117.8L507.6,121.8L512.0,126.1L516.4,130.7L520.9,135.5L525.5,140.6L530.0,146.0L534.6,151.6L539.1,157.4L543.7,163.5L548.3,169.8L552.9,176.3L557.5,183.1L562.0,190.0L566.5,197.2L571.1,204.5L575.5,212.0L580.0,219.7L584.3,227.6L588.7,235.6L593.0,243.8L597.2,252.2M492.8,106.9L497.0,110.0L501.3,113.4L505.6,117.1L510.0,121.1L514.4,125.4L518.9,129.9L523.4,134.8L527.9,139.8L532.5,145.2L537.0,150.8L541.6,156.6L546.2,162.7L550.8,169.0L555.4,175.5L559.9,182.2L564.5,189.1L569.0,196.3L573.5,203.6L578.0,211.1L582.4,218.8L586.8,226.7L591.2,234.7L595.4,242.9L599.6,251.2M495.2,106.2L499.4,109.3L503.7,112.7L508.0,116.4L512.4,120.4L516.9,124.7L521.3,129.2L525.8,134.0L530.4,139.1L534.9,144.4L539.5,150.0L544.1,155.8L548.7,161.8L553.3,168.1L557.9,174.6L562.4,181.3L567.0,188.3L571.5,195.4L576.0,202.7L580.5,210.2L584.9,217.9L589.3,225.8L593.6,233.8L597.9,242.0L602.1,250.3M497.6,105.6L501.8,108.7L506.1,112.1L510.4,115.7L514.8,119.7L519.3,123.9L523.8,128.5L528.3,133.3L532.8,138.3L537.4,143.6L542.0,149.2L546.6,155.0L551.2,161.0L555.7,167.3L560.3,173.8L564.9,180.5L569.5,187.4L574.0,194.5L578.5,201.8L583.0,209.3L587.4,217.0L591.8,224.8L596.1,232.8L600.3,241.0L604.5,249.3M499.9,105.0L504.2,108.0L508.5,111.4L512.8,115.0L517.2,119.0L521.7,123.2L526.2,127.7L530.7,132.5L535.3,137.5L539.8,142.8L544.4,148.4L549.0,154.2L553.6,160.2L558.2,166.5L562.8,172.9L567.4,179.6L571.9,186.5L576.5,193.6L581.0,200.9L585.4,208.4L589.9,216.1L594.2,223.9L598.5,231.9L602.8,240.1L607.0,248.4M502.3,104.3L506.5,107.4L510.8,110.7L515.2,114.3L519.6,118.3L524.1,122.5L528.6,127.0L533.1,131.7L537.7,136.8L542.3,142.1L546.9,147.6L551.5,153.4L556.1,159.4L560.7,165.6L565.3,172.1L569.9,178.8L574.4,185.6L578.9,192.7L583.4,200.0L587.9,207.5L592.3,215.1L596.7,223.0L601.0,231.0L605.2,239.1L609.4,247.4M504.6,103.7L508.9,106.7L513.2,110.0L517.6,113.7L522.0,117.6L526.5,121.8L531.0,126.2L535.6,131.0L540.1,136.0L544.7,141.3L549.3,146.8L553.9,152.5L558.5,158.5L563.2,164.8L567.7,171.2L572.3,177.9L576.9,184.8L581.4,191.9L585.9,199.1L590.4,206.6L594.8,214.2L599.1,222.0L603.4,230.0L607.7,238.2L611.8,246.5M507.0,103.0L511.2,106.0L515.6,109.3L520.0,113.0L524.4,116.9L528.9,121.0L533.4,125.5L538.0,130.2L542.6,135.2L547.2,140.5L551.8,146.0L556.4,151.7L561.0,157.7L565.6,163.9L570.2,170.4L574.8,177.0L579.3,183.9L583.9,191.0L588.4,198.2L592.8,205.7L597.2,213.3L601.6,221.1L605.9,229.1L610.1,237.2L614.3,245.5M509.3,102.4L513.6,105.4L518.0,108.7L522.4,112.3L526.8,116.1L531.3,120.3L535.9,124.8L540.4,129.5L545.0,134.5L549.6,139.7L554.2,145.2L558.8,150.9L563.5,156.9L568.1,163.1L572.7,169.5L577.3,176.2L581.8,183.0L586.3,190.1L590.8,197.3L595.3,204.8L599.7,212.4L604.0,220.2L608.3,228.2L612.5,236.3L616.7,244.6M511.6,101.7L515.9,104.7L520.3,108.0L524.7,111.6L529.2,115.4L533.7,119.6L538.3,124.0L542.8,128.7L547.4,133.7L552.0,138.9L556.7,144.4L561.3,150.1L565.9,156.1L570.5,162.2L575.1,168.7L579.7,175.3L584.3,182.1L588.8,189.2L593.3,196.4L597.7,203.8L602.1,211.5L606.5,219.3L610.8,227.2L615.0,235.3L619.1,243.6M514.0,101.1L518.3,104.0L522.7,107.3L527.1,110.9L531.6,114.7L536.1,118.8L540.7,123.3L545.2,127.9L549.9,132.9L554.5,138.1L559.1,143.6L563.7,149.3L568.4,155.2L573.0,161.4L577.6,167.8L582.2,174.4L586.7,181.2L591.2,188.3L595.7,195.5L600.2,202.9L604.6,210.5L608.9,218.3L613.2,226.3L617.4,234.4L621.5,242.6M516.3,100.4L520.6,103.4L525.0,106.6L529.5,110.1L534.0,114.0L538.5,118.1L543.1,122.5L547.7,127.2L552.3,132.1L556.9,137.3L561.5,142.8L566.2,148.5L570.8,154.4L575.4,160.6L580.0,166.9L584.6,173.5L589.2,180.4L593.7,187.4L598.2,194.6L602.6,202.0L607.0,209.6L611.4,217.4L615.6,225.3L619.8,233.4L624.0,241.7M518.6,99.8L523.0,102.7L527.4,105.9L531.8,109.4L536.4,113.3L540.9,117.4L545.5,121.7L550.1,126.4L554.7,131.3L559.3,136.5L564.0,141.9L568.6,147.6L573.2,153.5L577.9,159.7L582.5,166.1L587.1,172.7L591.6,179.5L596.1,186.5L600.6,193.7L605.1,201.1L609.5,208.7L613.8,216.4L618.0,224.4L622.2,232.5L626.4,240.7M520.9,99.1L525.3,102.0L529.7,105.2L534.2,108.7L538.7,112.5L543.3,116.6L547.9,121.0L552.5,125.6L557.1,130.5L561.7,135.7L566.4,141.1L571.0,146.8L575.7,152.7L580.3,158.8L584.9,165.2L589.5,171.8L594.1,178.6L598.6,185.6L603.1,192.8L607.5,200.2L611.9,207.8L616.2,215.5L620.5,223.4L624.7,231.5L628.8,239.8M523.3,98.4L527.6,101.3L532.1,104.5L536.6,108.0L541.1,111.8L545.7,115.9L550.3,120.2L554.9,124.9L559.5,129.8L564.2,134.9L568.8,140.3L573.5,146.0L578.1,151.9L582.7,158.0L587.4,164.3L591.9,170.9L596.5,177.7L601.0,184.7L605.5,191.9L609.9,199.3L614.3,206.8L618.6,214.6L622.9,222.5L627.1,230.6L631.2,238.8M525.6,97.8L530.0,100.6L534.4,103.8L538.9,107.3L543.5,111.1L548.0,115.1L552.6,119.5L557.3,124.1L561.9,129.0L566.6,134.1L571.2,139.5L575.9,145.1L580.5,151.0L585.2,157.1L589.8,163.5L594.4,170.0L598.9,176.8L603.5,183.8L607.9,191.0L612.4,198.3L616.7,205.9L621.1,213.6L625.3,221.5L629.5,229.6L633.6,237.8M527.9,97.1L532.3,100.0L536.8,103.1L541.3,106.6L545.8,110.3L550.4,114.4L555.0,118.7L559.7,123.3L564.3,128.2L569.0,133.3L573.6,138.7L578.3,144.3L583.0,150.2L587.6,156.3L592.2,162.6L596.8,169.2L601.4,175.9L605.9,182.9L610.4,190.1L614.8,197.4L619.2,205.0L623.5,212.7L627.7,220.6L631.9,228.7L636.0,236.9M530.2,96.4L534.6,99.3L539.1,102.4L543.6,105.9L548.2,109.6L552.8,113.6L557.4,117.9L562.0,122.5L566.7,127.4L571.4,132.5L576.1,137.9L580.7,143.5L585.4,149.3L590.0,155.4L594.6,161.7L599.2,168.3L603.8,175.0L608.3,182.0L612.8,189.1L617.2,196.5L621.6,204.0L625.9,211.7L630.1,219.6L634.3,227.7L638.4,235.9M532.5,95.8L536.9,98.6L541.4,101.7L546.0,105.1L550.5,108.9L555.1,112.9L559.8,117.2L564.4,121.7L569.1,126.6L573.8,131.7L578.5,137.0L583.1,142.6L587.8,148.5L592.4,154.6L597.1,160.9L601.7,167.4L606.2,174.1L610.8,181.1L615.2,188.2L619.6,195.6L624.0,203.1L628.3,210.8L632.5,218.7L636.7,226.7L640.8,234.9M534.8,95.1L539.2,97.9L543.8,101.0L548.3,104.4L552.9,108.1L557.5,112.1L562.2,116.4L566.8,121.0L571.5,125.8L576.2,130.9L580.9,136.2L585.5,141.8L590.2,147.6L594.9,153.7L599.5,160.0L604.1,166.5L608.7,173.2L613.2,180.2L617.6,187.3L622.1,194.6L626.4,202.2L630.7,209.9L634.9,217.7L639.1,225.8L643.1,234.0M537.1,94.4L541.6,97.2L546.1,100.3L550.6,103.7L555.2,107.4L559.9,111.4L564.5,115.6L569.2,120.2L573.9,125.0L578.6,130.1L583.3,135.4L588.0,141.0L592.6,146.8L597.3,152.8L601.9,159.1L606.5,165.6L611.1,172.3L615.6,179.3L620.1,186.4L624.5,193.7L628.8,201.2L633.1,208.9L637.3,216.8L641.5,224.8L645.5,233.0M539.4,93.7L543.9,96.5L548.4,99.6L553.0,103.0L557.6,106.6L562.2,110.6L566.9,114.9L571.6,119.4L576.3,124.2L581.0,129.2L585.7,134.6L590.4,140.1L595.0,145.9L599.7,152.0L604.3,158.2L608.9,164.7L613.5,171.4L618.0,178.3L622.5,185.5L626.9,192.8L631.2,200.3L635.5,208.0L639.7,215.8L643.9,223.8L647.9,232.0M541.7,93.0L546.2,95.8L550.7,98.9L555.3,102.2L559.9,105.9L564.6,109.8L569.3,114.1L574.0,118.6L578.7,123.4L583.4,128.4L588.1,133.7L592.8,139.3L597.4,145.1L602.1,151.1L606.7,157.3L611.3,163.8L615.9,170.5L620.4,177.4L624.9,184.5L629.3,191.8L633.7,199.3L637.9,207.0L642.1,214.9L646.3,222.9L650.3,231.1M544.0,92.4L548.5,95.1L553.0,98.1L557.6,101.5L562.3,105.1L566.9,109.1L571.6,113.3L576.3,117.8L581.0,122.6L585.7,127.6L590.5,132.9L595.2,138.4L599.8,144.2L604.5,150.2L609.1,156.5L613.8,162.9L618.3,169.6L622.8,176.5L627.3,183.6L631.7,190.9L636.1,198.4L640.3,206.1L644.5,213.9L648.6,221.9L652.7,230.1M546.2,91.7L550.8,94.4L555.4,97.4L560.0,100.8L564.6,104.4L569.3,108.3L574.0,112.5L578.7,117.0L583.4,121.8L588.1,126.8L592.8,132.1L597.6,137.6L602.2,143.3L606.9,149.3L611.6,155.6L616.2,162.0L620.7,168.7L625.2,175.6L629.7,182.7L634.1,190.0L638.5,197.4L642.7,205.1L646.9,212.9L651.0,220.9L655.0,229.1M548.5,91.0L553.1,93.7L557.7,96.7L562.3,100.0L566.9,103.6L571.6,107.5L576.3,111.7L581.1,116.2L585.8,121.0L590.5,126.0L595.2,131.2L599.9,136.7L604.6,142.5L609.3,148.5L614.0,154.7L618.6,161.1L623.1,167.8L627.6,174.7L632.1,181.8L636.5,189.0L640.8,196.5L645.1,204.1L649.3,212.0L653.4,220.0L657.4,228.1M550.8,90.3L555.4,93.0L560.0,96.0L564.6,99.3L569.3,102.9L574.0,106.8L578.7,111.0L583.4,115.4L588.2,120.1L592.9,125.1L597.6,130.4L602.3,135.9L607.0,141.6L611.7,147.6L616.4,153.8L621.0,160.2L625.5,166.9L630.0,173.8L634.5,180.8L638.9,188.1L643.2,195.5L647.5,203.2L651.7,211.0L655.8,219.0L659.8,227.2M553.1,89.6L557.7,92.3L562.3,95.2L566.9,98.5L571.6,102.1L576.3,106.0L581.0,110.2L585.8,114.6L590.5,119.3L595.3,124.3L600.0,129.5L604.7,135.0L609.4,140.7L614.1,146.7L618.8,152.9L623.4,159.3L627.9,166.0L632.4,172.8L636.9,179.9L641.3,187.1L645.6,194.6L649.9,202.2L654.1,210.0L658.1,218.0L662.1,226.2M555.4,88.9L559.9,91.5L564.6,94.5L569.2,97.8L573.9,101.4L578.7,105.2L583.4,109.4L588.1,113.8L592.9,118.5L597.6,123.5L602.4,128.7L607.1,134.2L611.8,139.9L616.5,145.8L621.2,152.0L625.8,158.4L630.3,165.1L634.8,171.9L639.3,179.0L643.7,186.2L648.0,193.6L652.3,201.3L656.4,209.1L660.5,217.0L664.5,225.2M557.6,88.2L562.2,90.8L566.9,93.8L571.6,97.0L576.3,100.6L581.0,104.4L585.7,108.6L590.5,113.0L595.3,117.7L600.0,122.6L604.8,127.8L609.5,133.3L614.2,139.0L618.9,145.0L623.5,151.1L628.2,157.5L632.7,164.2L637.2,171.0L641.7,178.0L646.1,185.3L650.4,192.7L654.6,200.3L658.8,208.1L662.9,216.1L666.8,224.2M559.9,87.5L564.5,90.1L569.2,93.0L573.9,96.3L578.6,99.8L583.3,103.7L588.1,107.8L592.8,112.2L597.6,116.9L602.4,121.8L607.1,127.0L611.9,132.4L616.6,138.1L621.3,144.1L625.9,150.2L630.5,156.6L635.1,163.2L639.6,170.1L644.1,177.1L648.5,184.3L652.8,191.7L657.0,199.3L661.2,207.1L665.2,215.1L669.2,223.2" fill="none" stroke="#000" stroke-opacity="0.8" stroke-width="0.88"/>
<path d="M379.2,133.9L387.3,132.1L395.3,130.4L403.2,128.7L411.2,126.9L419.0,125.1L426.8,123.3L434.6,121.5L442.3,119.7L449.9,117.9L457.5,116.0L465.1,114.1L472.6,112.2L480.1,110.3L487.5,108.3L494.9,106.3L502.3,104.3L509.6,102.3L516.9,100.3L524.1,98.2L531.3,96.1L538.5,94.0L545.7,91.8L552.8,89.7L559.9,87.5M380.2,135.0L388.3,133.3L396.4,131.5L404.3,129.8L412.3,128.0L420.1,126.2L427.9,124.4L435.7,122.6L443.4,120.7L451.1,118.8L458.7,117.0L466.3,115.1L473.8,113.1L481.3,111.2L488.8,109.2L496.2,107.2L503.5,105.2L510.9,103.2L518.2,101.1L525.4,99.0L532.7,96.9L539.9,94.8L547.0,92.6L554.2,90.4L561.3,88.2M381.3,136.2L389.4,134.4L397.4,132.7L405.4,130.9L413.4,129.1L421.3,127.3L429.1,125.5L436.9,123.6L444.6,121.8L452.3,119.9L459.9,118.0L467.5,116.0L475.0,114.1L482.6,112.1L490.0,110.2L497.4,108.1L504.8,106.1L512.2,104.1L519.5,102.0L526.8,99.9L534.0,97.8L541.2,95.6L548.4,93.4L555.5,91.2L562.7,89.0M382.4,137.4L390.5,135.6L398.5,133.9L406.5,132.1L414.5,130.2L422.4,128.4L430.2,126.6L438.0,124.7L445.8,122.8L453.5,120.9L461.1,119.0L468.7,117.1L476.3,115.1L483.8,113.1L491.3,111.1L498.7,109.1L506.1,107.0L513.5,105.0L520.8,102.9L528.1,100.8L535.3,98.6L542.6,96.5L549.7,94.3L556.9,92.1L564.0,89.8M383.4,138.6L391.6,136.9L399.6,135.1L407.7,133.2L415.6,131.4L423.5,129.6L431.4,127.7L439.2,125.8L446.9,123.9L454.7,122.0L462.3,120.1L469.9,118.1L477.5,116.1L485.0,114.1L492.5,112.1L500.0,110.1L507.4,108.0L514.8,105.9L522.1,103.8L529.4,101.7L536.7,99.5L543.9,97.4L551.1,95.1L558.3,92.9L565.4,90.7" fill="none" stroke="#000" stroke-opacity="0.45" stroke-width="0.88"/>
<path d="M384.5,139.9L392.7,138.1L400.7,136.3L408.8,134.4L416.8,132.6L424.7,130.7L432.5,128.8L440.4,126.9L448.1,125.0L455.9,123.1L463.5,121.1L471.2,119.2L478.8,117.2L486.3,115.2L493.8,113.1L501.3,111.1L508.7,109.0L516.1,106.9L523.4,104.8L530.7,102.6L538.0,100.5L545.3,98.3L552.5,96.0L559.7,93.8L566.8,91.5" fill="none" stroke="#000" stroke-opacity="0.49" stroke-width="0.88"/>
<path d="M385.6,141.2L393.8,139.4L401.9,137.5L409.9,135.7L417.9,133.8L425.8,131.9L433.7,130.0L441.6,128.1L449.3,126.2L457.1,124.2L464.8,122.3L472.4,120.3L480.0,118.3L487.6,116.2L495.1,114.2L502.5,112.1L510.0,110.0L517.4,107.9L524.7,105.8L532.1,103.6L539.4,101.4L546.6,99.2L553.9,97.0L561.1,94.7L568.2,92.4" fill="none" stroke="#000" stroke-opacity="0.54" stroke-width="0.88"/>
<path d="M386.7,142.5L394.9,140.7L403.0,138.8L411.1,136.9L419.1,135.0L427.0,133.1L434.9,131.2L442.7,129.3L450.5,127.3L458.3,125.4L466.0,123.4L473.6,121.4L481.3,119.4L488.8,117.3L496.3,115.3L503.8,113.2L511.3,111.1L518.7,108.9L526.1,106.8L533.4,104.6L540.7,102.4L548.0,100.2L555.2,97.9L562.4,95.6L569.6,93.3" fill="none" stroke="#000" stroke-opacity="0.58" stroke-width="0.88"/>
<path d="M387.8,143.8L396.0,142.0L404.1,140.1L412.2,138.2L420.2,136.3L428.2,134.4L436.1,132.5L443.9,130.5L451.7,128.5L459.5,126.6L467.2,124.6L474.9,122.5L482.5,120.5L490.1,118.4L497.6,116.4L505.1,114.3L512.6,112.1L520.0,110.0L527.4,107.8L534.7,105.6L542.1,103.4L549.4,101.2L556.6,98.9L563.8,96.6L571.0,94.3" fill="none" stroke="#000" stroke-opacity="0.62" stroke-width="0.88"/>
<path d="M388.9,145.2L397.1,143.3L405.3,141.4L413.4,139.5L421.4,137.6L429.4,135.7L437.3,133.7L445.1,131.8L453.0,129.8L460.7,127.8L468.5,125.7L476.1,123.7L483.8,121.7L491.4,119.6L498.9,117.5L506.4,115.4L513.9,113.2L521.3,111.1L528.7,108.9L536.1,106.7L543.4,104.4L550.7,102.2L558.0,99.9L565.2,97.6L572.4,95.3" fill="none" stroke="#000" stroke-opacity="0.67" stroke-width="0.88"/>
<path d="M390.1,146.6L398.3,144.7L406.4,142.8L414.5,140.9L422.6,138.9L430.5,137.0L438.5,135.0L446.4,133.0L454.2,131.0L462.0,129.0L469.7,127.0L477.4,124.9L485.0,122.8L492.6,120.7L500.2,118.6L507.7,116.5L515.2,114.3L522.7,112.2L530.1,110.0L537.4,107.8L544.8,105.5L552.1,103.2L559.4,100.9L566.6,98.6L573.9,96.3" fill="none" stroke="#000" stroke-opacity="0.71" stroke-width="0.88"/>
<path d="M391.2,148.0L399.4,146.1L407.6,144.2L415.7,142.2L423.7,140.3L431.7,138.3L439.7,136.3L447.6,134.3L455.4,132.3L463.2,130.3L471.0,128.2L478.7,126.1L486.3,124.0L493.9,121.9L501.5,119.8L509.0,117.7L516.5,115.5L524.0,113.3L531.4,111.1L538.8,108.9L546.2,106.6L553.5,104.3L560.8,102.0L568.0,99.7L575.3,97.3" fill="none" stroke="#000" stroke-opacity="0.76" stroke-width="0.88"/>
<path d="M392.4,149.5L400.6,147.5L408.8,145.6L416.9,143.6L424.9,141.6L432.9,139.7L440.9,137.6L448.8,135.6L456.7,133.6L464.5,131.5L472.2,129.5L479.9,127.4L487.6,125.3L495.2,123.2L502.8,121.0L510.4,118.9L517.9,116.7L525.3,114.5L532.8,112.2L540.2,110.0L547.5,107.7L554.9,105.4L562.2,103.1L569.4,100.7L576.7,98.4M393.5,150.9L401.7,149.0L409.9,147.0L418.1,145.0L426.1,143.0L434.2,141.0L442.1,139.0L450.0,137.0L457.9,134.9L465.7,132.9L473.5,130.8L481.2,128.7L488.9,126.5L496.5,124.4L504.1,122.2L511.7,120.1L519.2,117.9L526.7,115.6L534.1,113.4L541.5,111.1L548.9,108.9L556.2,106.5L563.6,104.2L570.8,101.8L578.1,99.5M394.7,152.4L402.9,150.4L411.1,148.5L419.3,146.5L427.3,144.5L435.4,142.4L443.3,140.4L451.3,138.3L459.1,136.3L467.0,134.2L474.8,132.1L482.5,130.0L490.2,127.8L497.8,125.7L505.4,123.5L513.0,121.3L520.5,119.1L528.0,116.9L535.5,114.6L542.9,112.3L550.3,110.0L557.6,107.7L565.0,105.3L572.3,103.0L579.5,100.6M395.8,153.9L404.1,151.9L412.3,149.9L420.5,147.9L428.5,145.9L436.6,143.9L444.6,141.8L452.5,139.7L460.4,137.7L468.2,135.6L476.0,133.4L483.8,131.3L491.5,129.1L499.1,127.0L506.8,124.8L514.3,122.6L521.9,120.3L529.4,118.1L536.8,115.8L544.3,113.5L551.7,111.2L559.0,108.9L566.4,106.5L573.7,104.1L580.9,101.7M397.0,155.5L405.3,153.5L413.5,151.4L421.7,149.4L429.8,147.4L437.8,145.3L445.8,143.2L453.8,141.2L461.7,139.1L469.5,136.9L477.3,134.8L485.1,132.7L492.8,130.5L500.4,128.3L508.1,126.1L515.7,123.9L523.2,121.6L530.7,119.4L538.2,117.1L545.6,114.8L553.0,112.4L560.4,110.1L567.8,107.7L575.1,105.3L582.4,102.9M398.2,157.0L406.5,155.0L414.7,153.0L422.9,150.9L431.0,148.9L439.1,146.8L447.1,144.7L455.0,142.6L462.9,140.5L470.8,138.3L478.6,136.2L486.4,134.0L494.1,131.8L501.8,129.6L509.4,127.4L517.0,125.2L524.6,122.9L532.1,120.6L539.6,118.3L547.0,116.0L554.4,113.7L561.8,111.3L569.2,108.9L576.5,106.5L583.8,104.1M399.4,158.6L407.7,156.6L415.9,154.5L424.1,152.4L432.2,150.4L440.3,148.3L448.3,146.2L456.3,144.1L464.2,141.9L472.1,139.8L479.9,137.6L487.7,135.4L495.4,133.2L503.1,131.0L510.7,128.8L518.3,126.5L525.9,124.3L533.4,122.0L540.9,119.6L548.4,117.3L555.8,114.9L563.2,112.6L570.6,110.2L577.9,107.7L585.2,105.3M400.6,160.2L408.9,158.2L417.1,156.1L425.3,154.0L433.5,151.9L441.5,149.8L449.6,147.7L457.5,145.5L465.5,143.4L473.3,141.2L481.2,139.1L489.0,136.9L496.7,134.6L504.4,132.4L512.1,130.2L519.7,127.9L527.3,125.6L534.8,123.3L542.3,121.0L549.8,118.6L557.2,116.2L564.6,113.8L572.0,111.4L579.3,109.0L586.6,106.5M401.8,161.8L410.1,159.8L418.4,157.7L426.6,155.6L434.7,153.5L442.8,151.3L450.8,149.2L458.8,147.1L466.8,144.9L474.6,142.7L482.5,140.5L490.3,138.3L498.0,136.1L505.7,133.8L513.4,131.6L521.0,129.3L528.6,127.0L536.2,124.7L543.7,122.3L551.1,119.9L558.6,117.6L566.0,115.2L573.4,112.7L580.7,110.3L588.1,107.8M403.0,163.5L411.3,161.4L419.6,159.3L427.8,157.2L436.0,155.1L444.1,152.9L452.1,150.8L460.1,148.6L468.0,146.4L475.9,144.2L483.8,142.0L491.6,139.8L499.3,137.5L507.1,135.3L514.7,133.0L522.4,130.7L530.0,128.4L537.5,126.0L545.0,123.7L552.5,121.3L560.0,118.9L567.4,116.5L574.8,114.0L582.2,111.6L589.5,109.1M404.2,165.2L412.6,163.1L420.8,160.9L429.0,158.8L437.2,156.7L445.3,154.5L453.4,152.3L461.4,150.2L469.3,148.0L477.2,145.8L485.1,143.5L492.9,141.3L500.7,139.0L508.4,136.7L516.1,134.5L523.7,132.1L531.3,129.8L538.9,127.5L546.4,125.1L553.9,122.7L561.4,120.3L568.8,117.8L576.2,115.4L583.6,112.9L590.9,110.4M405.4,166.9L413.8,164.7L422.1,162.6L430.3,160.5L438.5,158.3L446.6,156.1L454.6,153.9L462.7,151.7L470.6,149.5L478.5,147.3L486.4,145.1L494.2,142.8L502.0,140.5L509.7,138.2L517.4,135.9L525.1,133.6L532.7,131.3L540.3,128.9L547.8,126.5L555.3,124.1L562.8,121.7L570.2,119.2L577.6,116.7L585.0,114.3L592.4,111.7M406.7,168.6L415.0,166.4L423.3,164.3L431.6,162.1L439.7,160.0L447.9,157.8L455.9,155.6L463.9,153.4L471.9,151.1L479.8,148.9L487.7,146.6L495.5,144.4L503.3,142.1L511.1,139.8L518.8,137.4L526.4,135.1L534.1,132.7L541.6,130.3L549.2,127.9L556.7,125.5L564.2,123.1L571.6,120.6L579.0,118.1L586.4,115.6L593.8,113.1M407.9,170.3L416.3,168.2L424.6,166.0L432.8,163.8L441.0,161.6L449.1,159.4L457.2,157.2L465.2,155.0L473.2,152.7L481.2,150.5L489.0,148.2L496.9,145.9L504.7,143.6L512.4,141.3L520.1,139.0L527.8,136.6L535.4,134.2L543.0,131.8L550.6,129.4L558.1,127.0L565.6,124.5L573.0,122.1L580.5,119.6L587.9,117.0L595.2,114.5M409.2,172.1L417.5,169.9L425.8,167.7L434.1,165.5L442.3,163.3L450.4,161.1L458.5,158.9L466.5,156.6L474.5,154.4L482.5,152.1L490.4,149.8L498.2,147.5L506.0,145.2L513.8,142.9L521.5,140.5L529.2,138.1L536.8,135.7L544.4,133.3L551.9,130.9L559.5,128.5L567.0,126.0L574.4,123.5L581.9,121.0L589.3,118.5L596.7,115.9M410.4,173.9L418.8,171.7L427.1,169.5L435.4,167.3L443.6,165.1L451.7,162.8L459.8,160.6L467.8,158.3L475.8,156.0L483.8,153.7L491.7,151.4L499.5,149.1L507.3,146.8L515.1,144.4L522.8,142.1L530.5,139.7L538.2,137.3L545.8,134.9L553.3,132.4L560.9,130.0L568.4,127.5L575.8,125.0L583.3,122.5L590.7,119.9L598.1,117.3M411.7,175.7L420.1,173.5L428.4,171.3L436.6,169.0L444.8,166.8L453.0,164.5L461.1,162.3L469.2,160.0L477.2,157.7L485.1,155.4L493.0,153.1L500.9,150.8L508.7,148.4L516.5,146.0L524.2,143.7L531.9,141.3L539.5,138.9L547.1,136.4L554.7,134.0L562.3,131.5L569.8,129.0L577.3,126.5L584.7,123.9L592.1,121.4L599.5,118.8M412.9,177.5L421.3,175.3L429.6,173.1L437.9,170.8L446.1,168.6L454.3,166.3L462.4,164.0L470.5,161.7L478.5,159.4L486.4,157.1L494.3,154.8L502.2,152.4L510.0,150.1L517.8,147.7L525.6,145.3L533.2,142.9L540.9,140.4L548.5,138.0L556.1,135.5L563.7,133.0L571.2,130.5L578.7,128.0L586.1,125.5L593.5,122.9L600.9,120.3M414.2,179.4L422.6,177.1L430.9,174.9L439.2,172.6L447.4,170.4L455.6,168.1L463.7,165.8L471.8,163.5L479.8,161.1L487.8,158.8L495.7,156.5L503.6,154.1L511.4,151.7L519.2,149.3L526.9,146.9L534.6,144.5L542.3,142.1L549.9,139.6L557.5,137.1L565.1,134.6L572.6,132.1L580.1,129.5L587.5,127.0L595.0,124.4L602.4,121.8M415.5,181.3L423.9,179.0L432.2,176.7L440.5,174.4L448.7,172.2L456.9,169.9L465.0,167.5L473.1,165.2L481.1,162.9L489.1,160.5L497.0,158.2L504.9,155.8L512.7,153.4L520.5,151.0L528.3,148.6L536.0,146.1L543.7,143.7L551.3,141.2L558.9,138.7L566.5,136.2L574.0,133.7L581.5,131.1L589.0,128.5L596.4,125.9L603.8,123.3M416.8,183.1L425.2,180.9L433.5,178.6L441.8,176.3L450.0,174.0L458.2,171.7L466.4,169.3L474.4,167.0L482.5,164.7L490.4,162.3L498.4,159.9L506.3,157.5L514.1,155.1L521.9,152.7L529.6,150.3L537.4,147.8L545.0,145.3L552.7,142.9L560.3,140.3L567.8,137.8L575.4,135.3L582.9,132.7L590.4,130.1L597.8,127.5L605.2,124.9M418.0,185.1L426.5,182.8L434.8,180.5L443.1,178.2L451.3,175.8L459.5,173.5L467.7,171.2L475.8,168.8L483.8,166.5L491.8,164.1L499.7,161.7L507.6,159.3L515.4,156.9L523.3,154.4L531.0,152.0L538.7,149.5L546.4,147.0L554.1,144.5L561.7,142.0L569.2,139.5L576.8,136.9L584.3,134.3L591.8,131.7L599.2,129.1L606.7,126.5M419.3,187.0L427.7,184.7L436.1,182.4L444.4,180.0L452.7,177.7L460.9,175.4L469.0,173.0L477.1,170.6L485.1,168.3L493.1,165.9L501.1,163.5L509.0,161.0L516.8,158.6L524.6,156.2L532.4,153.7L540.1,151.2L547.8,148.7L555.4,146.2L563.1,143.7L570.6,141.1L578.2,138.6L585.7,136.0L593.2,133.3L600.7,130.7L608.1,128.1M420.6,189.0L429.0,186.6L437.4,184.3L445.7,182.0L454.0,179.6L462.2,177.2L470.3,174.9L478.4,172.5L486.5,170.1L494.5,167.7L502.4,165.3L510.3,162.8L518.2,160.4L526.0,157.9L533.8,155.4L541.5,153.0L549.2,150.4L556.8,147.9L564.5,145.4L572.0,142.8L579.6,140.2L587.1,137.6L594.6,135.0L602.1,132.4L609.5,129.7M421.9,190.9L430.4,188.6L438.7,186.2L447.0,183.9L455.3,181.5L463.5,179.1L471.7,176.8L479.8,174.4L487.8,171.9L495.8,169.5L503.8,167.1L511.7,164.6L519.5,162.2L527.3,159.7L535.1,157.2L542.9,154.7L550.6,152.2L558.2,149.6L565.8,147.1L573.4,144.5L581.0,141.9L588.5,139.3L596.0,136.7L603.5,134.0L610.9,131.3M423.2,192.9L431.7,190.6L440.0,188.2L448.4,185.8L456.6,183.4L464.8,181.1L473.0,178.7L481.1,176.2L489.1,173.8L497.2,171.4L505.1,168.9L513.0,166.5L520.9,164.0L528.7,161.5L536.5,159.0L544.2,156.5L551.9,154.0L559.6,151.4L567.2,148.8L574.8,146.2L582.4,143.6L589.9,141.0L597.4,138.4L604.9,135.7L612.3,133.0M424.5,194.9L433.0,192.6L441.4,190.2L449.7,187.8L457.9,185.4L466.2,183.0L474.3,180.6L482.4,178.2L490.5,175.7L498.5,173.3L506.5,170.8L514.4,168.3L522.3,165.8L530.1,163.3L537.9,160.8L545.6,158.3L553.3,155.7L561.0,153.2L568.6,150.6L576.2,148.0L583.8,145.4L591.3,142.7L598.8,140.1L606.3,137.4L613.8,134.7M425.8,197.0L434.3,194.6L442.7,192.2L451.0,189.8L459.3,187.4L467.5,184.9L475.7,182.5L483.8,180.1L491.8,177.6L499.9,175.2L507.8,172.7L515.7,170.2L523.6,167.7L531.4,165.2L539.2,162.7L547.0,160.1L554.7,157.5L562.4,155.0L570.0,152.4L577.6,149.8L585.2,147.1L592.7,144.5L600.2,141.8L607.7,139.1L615.2,136.4M427.2,199.0L435.6,196.6L444.0,194.2L452.3,191.8L460.6,189.4L468.8,186.9L477.0,184.5L485.1,182.0L493.2,179.6L501.2,177.1L509.2,174.6L517.1,172.1L525.0,169.6L532.8,167.1L540.6,164.5L548.4,162.0L556.1,159.4L563.8,156.8L571.4,154.2L579.0,151.6L586.6,148.9L594.1,146.2L601.6,143.6L609.1,140.9L616.6,138.1M428.5,201.1L436.9,198.7L445.3,196.2L453.7,193.8L462.0,191.4L470.2,188.9L478.4,186.5L486.5,184.0L494.5,181.5L502.6,179.0L510.5,176.5L518.5,174.0L526.3,171.5L534.2,168.9L542.0,166.4L549.7,163.8L557.5,161.2L565.1,158.6L572.8,156.0L580.4,153.4L588.0,150.7L595.5,148.0L603.0,145.3L610.5,142.6L618.0,139.9M429.8,203.2L438.3,200.7L446.7,198.3L455.0,195.9L463.3,193.4L471.5,190.9L479.7,188.5L487.8,186.0L495.9,183.5L503.9,181.0L511.9,178.5L519.8,175.9L527.7,173.4L535.6,170.8L543.4,168.3L551.1,165.7L558.8,163.1L566.5,160.5L574.2,157.8L581.8,155.2L589.4,152.5L596.9,149.8L604.5,147.1L611.9,144.4L619.4,141.7M431.1,205.3L439.6,202.8L448.0,200.4L456.3,197.9L464.6,195.4L472.9,193.0L481.0,190.5L489.2,188.0L497.3,185.5L505.3,183.0L513.3,180.4L521.2,177.9L529.1,175.3L536.9,172.8L544.7,170.2L552.5,167.6L560.2,165.0L567.9,162.4L575.6,159.7L583.2,157.1L590.8,154.4L598.3,151.7L605.8,149.0L613.3,146.2L620.8,143.5M432.5,207.4L440.9,204.9L449.3,202.5L457.7,200.0L466.0,197.5L474.2,195.0L482.4,192.5L490.5,190.0L498.6,187.5L506.6,185.0L514.6,182.4L522.6,179.9L530.5,177.3L538.3,174.7L546.1,172.1L553.9,169.5L561.6,166.9L569.3,164.3L577.0,161.6L584.6,158.9L592.2,156.2L599.7,153.5L607.2,150.8L614.7,148.0L622.2,145.3M433.8,209.6L442.3,207.1L450.7,204.6L459.0,202.1L467.3,199.6L475.6,197.1L483.8,194.6L491.9,192.1L500.0,189.5L508.0,187.0L516.0,184.4L523.9,181.9L531.8,179.3L539.7,176.7L547.5,174.1L555.3,171.5L563.0,168.8L570.7,166.2L578.3,163.5L586.0,160.8L593.6,158.1L601.1,155.4L608.6,152.7L616.1,149.9L623.6,147.1M435.1,211.7L443.6,209.2L452.0,206.7L460.4,204.2L468.7,201.7L476.9,199.2L485.1,196.7L493.2,194.1L501.3,191.6L509.4,189.0L517.4,186.4L525.3,183.9L533.2,181.3L541.0,178.7L548.9,176.1L556.6,173.4L564.4,170.8L572.1,168.1L579.7,165.4L587.3,162.7L594.9,160.0L602.5,157.3L610.0,154.5L617.5,151.8L625.0,149.0M436.5,213.9L445.0,211.4L453.4,208.9L461.7,206.4L470.0,203.8L478.3,201.3L486.5,198.8L494.6,196.2L502.7,193.6L510.7,191.1L518.7,188.5L526.7,185.9L534.6,183.3L542.4,180.7L550.2,178.0L558.0,175.4L565.7,172.7L573.4,170.1L581.1,167.4L588.7,164.7L596.3,161.9L603.9,159.2L611.4,156.4L618.9,153.7L626.4,150.9M437.8,216.1L446.3,213.6L454.7,211.0L463.1,208.5L471.4,206.0L479.6,203.4L487.8,200.9L496.0,198.3L504.0,195.7L512.1,193.1L520.1,190.6L528.0,187.9L535.9,185.3L543.8,182.7L551.6,180.1L559.4,177.4L567.1,174.7L574.8,172.0L582.5,169.3L590.1,166.6L597.7,163.9L605.3,161.1L612.8,158.4L620.3,155.6L627.8,152.8M439.2,218.3L447.7,215.8L456.1,213.2L464.4,210.7L472.7,208.1L481.0,205.6L489.2,203.0L497.3,200.4L505.4,197.8L513.5,195.2L521.4,192.6L529.4,190.0L537.3,187.4L545.2,184.7L553.0,182.1L560.7,179.4L568.5,176.7L576.2,174.0L583.9,171.3L591.5,168.6L599.1,165.8L606.6,163.1L614.2,160.3L621.7,157.5L629.2,154.7M440.5,220.5L449.0,218.0L457.4,215.4L465.8,212.9L474.1,210.3L482.3,207.7L490.5,205.1L498.7,202.6L506.8,200.0L514.8,197.3L522.8,194.7L530.8,192.1L538.7,189.5L546.5,186.8L554.3,184.1L562.1,181.5L569.9,178.8L577.6,176.1L585.2,173.3L592.9,170.6L600.5,167.8L608.0,165.1L615.6,162.3L623.1,159.5L630.5,156.6M441.9,222.8L450.4,220.2L458.8,217.7L467.2,215.1L475.5,212.5L483.7,209.9L491.9,207.3L500.0,204.7L508.1,202.1L516.2,199.5L524.2,196.8L532.1,194.2L540.0,191.5L547.9,188.9L555.7,186.2L563.5,183.5L571.2,180.8L578.9,178.1L586.6,175.4L594.2,172.6L601.8,169.8L609.4,167.0L616.9,164.2L624.4,161.4L631.9,158.6M443.3,225.1L451.7,222.5L460.2,219.9L468.5,217.3L476.8,214.7L485.1,212.1L493.3,209.5L501.4,206.9L509.5,204.3L517.5,201.6L525.5,199.0L533.5,196.3L541.4,193.7L549.3,191.0L557.1,188.3L564.9,185.6L572.6,182.9L580.3,180.1L588.0,177.4L595.6,174.6L603.2,171.9L610.8,169.1L618.3,166.2L625.8,163.4L633.3,160.6M444.6,227.3L453.1,224.7L461.5,222.1L469.9,219.5L478.2,216.9L486.4,214.3L494.6,211.7L502.8,209.1L510.9,206.4L518.9,203.8L526.9,201.1L534.9,198.5L542.8,195.8L550.6,193.1L558.4,190.4L566.2,187.7L574.0,185.0L581.7,182.2L589.3,179.5L597.0,176.7L604.6,173.9L612.1,171.1L619.7,168.3L627.2,165.4L634.7,162.6M446.0,229.6L454.5,227.0L462.9,224.4L471.2,221.8L479.5,219.2L487.8,216.5L496.0,213.9L504.1,211.3L512.2,208.6L520.3,206.0L528.3,203.3L536.2,200.6L544.1,197.9L552.0,195.2L559.8,192.5L567.6,189.8L575.3,187.1L583.0,184.3L590.7,181.5L598.3,178.7L605.9,175.9L613.5,173.1L621.0,170.3L628.5,167.4L636.0,164.6M447.3,231.9L455.8,229.3L464.2,226.7L472.6,224.1L480.9,221.4L489.2,218.8L497.4,216.1L505.5,213.5L513.6,210.8L521.6,208.2L529.6,205.5L537.6,202.8L545.5,200.1L553.3,197.4L561.2,194.7L568.9,191.9L576.7,189.2L584.4,186.4L592.1,183.6L599.7,180.8L607.3,178.0L614.9,175.2L622.4,172.4L629.9,169.5L637.4,166.6M448.7,234.3L457.2,231.6L465.6,229.0L474.0,226.4L482.3,223.7L490.5,221.1L498.7,218.4L506.9,215.7L515.0,213.1L523.0,210.4L531.0,207.7L538.9,205.0L546.8,202.3L554.7,199.5L562.5,196.8L570.3,194.1L578.0,191.3L585.7,188.5L593.4,185.7L601.0,182.9L608.6,180.1L616.2,177.3L623.7,174.4L631.3,171.6L638.7,168.7M450.1,236.6L458.6,234.0L467.0,231.3L475.3,228.7L483.6,226.0L491.9,223.3L500.1,220.7L508.2,218.0L516.3,215.3L524.4,212.6L532.4,209.9L540.3,207.2L548.2,204.5L556.1,201.7L563.9,199.0L571.7,196.2L579.4,193.5L587.1,190.7L594.8,187.9L602.4,185.1L610.0,182.2L617.6,179.4L625.1,176.5L632.6,173.6L640.1,170.7M451.5,239.0L459.9,236.3L468.3,233.7L476.7,231.0L485.0,228.3L493.3,225.6L501.4,222.9L509.6,220.3L517.7,217.6L525.7,214.9L533.7,212.1L541.7,209.4L549.6,206.7L557.4,203.9L565.2,201.2L573.0,198.4L580.7,195.6L588.4,192.8L596.1,190.0L603.7,187.2L611.3,184.4L618.9,181.5L626.4,178.6L633.9,175.7L641.4,172.8M452.8,241.4L461.3,238.7L469.7,236.0L478.1,233.3L486.4,230.6L494.6,227.9L502.8,225.2L511.0,222.5L519.0,219.8L527.1,217.1L535.1,214.4L543.0,211.7L550.9,208.9L558.8,206.2L566.6,203.4L574.4,200.6L582.1,197.8L589.8,195.0L597.5,192.2L605.1,189.4L612.7,186.5L620.2,183.6L627.8,180.8L635.3,177.9L642.8,175.0M454.2,243.7L462.7,241.1L471.1,238.4L479.4,235.7L487.7,233.0L496.0,230.3L504.2,227.6L512.3,224.8L520.4,222.1L528.4,219.4L536.4,216.7L544.4,213.9L552.3,211.2L560.1,208.4L567.9,205.6L575.7,202.8L583.4,200.0L591.1,197.2L598.8,194.4L606.4,191.5L614.0,188.7L621.6,185.8L629.1,182.9L636.6,180.0L644.1,177.1M455.6,246.2L464.0,243.5L472.5,240.7L480.8,238.0L489.1,235.3L497.4,232.6L505.5,229.9L513.7,227.2L521.8,224.4L529.8,221.7L537.8,218.9L545.7,216.2L553.6,213.4L561.5,210.6L569.3,207.9L577.1,205.1L584.8,202.2L592.5,199.4L600.1,196.6L607.8,193.7L615.3,190.9L622.9,188.0L630.4,185.1L637.9,182.2L645.4,179.2M457.0,248.6L465.4,245.9L473.8,243.1L482.2,240.4L490.5,237.7L498.7,235.0L506.9,232.2L515.0,229.5L523.1,226.8L531.2,224.0L539.1,221.2L547.1,218.5L555.0,215.7L562.8,212.9L570.6,210.1L578.4,207.3L586.1,204.5L593.8,201.6L601.5,198.8L609.1,195.9L616.7,193.1L624.2,190.2L631.8,187.3L639.3,184.3L646.7,181.4M458.3,251.0L466.8,248.3L475.2,245.6L483.6,242.8L491.8,240.1L500.1,237.3L508.3,234.6L516.4,231.9L524.5,229.1L532.5,226.3L540.5,223.6L548.4,220.8L556.3,218.0L564.2,215.2L572.0,212.4L579.7,209.6L587.5,206.7L595.1,203.9L602.8,201.0L610.4,198.2L618.0,195.3L625.6,192.4L633.1,189.5L640.6,186.5L648.0,183.6M459.7,253.5L468.2,250.7L476.6,248.0L484.9,245.2L493.2,242.5L501.5,239.7L509.6,237.0L517.8,234.2L525.8,231.5L533.9,228.7L541.8,225.9L549.8,223.1L557.7,220.3L565.5,217.5L573.3,214.7L581.1,211.9L588.8,209.0L596.5,206.2L604.1,203.3L611.7,200.4L619.3,197.5L626.9,194.6L634.4,191.7L641.9,188.7L649.3,185.8M461.1,255.9L469.6,253.2L478.0,250.4L486.3,247.7L494.6,244.9L502.8,242.1L511.0,239.4L519.1,236.6L527.2,233.8L535.2,231.0L543.2,228.2L551.1,225.4L559.0,222.6L566.8,219.8L574.6,217.0L582.4,214.1L590.1,211.3L597.8,208.4L605.4,205.6L613.1,202.7L620.6,199.8L628.2,196.9L635.7,193.9L643.2,191.0L650.6,188.0M462.5,258.4L470.9,255.6L479.3,252.9L487.7,250.1L496.0,247.3L504.2,244.6L512.4,241.8L520.5,239.0L528.5,236.2L536.6,233.4L544.5,230.6L552.5,227.8L560.3,225.0L568.2,222.1L576.0,219.3L583.7,216.5L591.4,213.6L599.1,210.7L606.8,207.8L614.4,204.9L621.9,202.0L629.5,199.1L637.0,196.2L644.5,193.2L651.9,190.2M463.9,260.9L472.3,258.1L480.7,255.3L489.0,252.6L497.3,249.8L505.5,247.0L513.7,244.2L521.8,241.4L529.9,238.6L537.9,235.8L545.9,233.0L553.8,230.2L561.7,227.3L569.5,224.5L577.3,221.6L585.0,218.8L592.8,215.9L600.4,213.0L608.1,210.1L615.7,207.2L623.2,204.3L630.8,201.4L638.3,198.4L645.8,195.5L653.2,192.5M465.2,263.4L473.7,260.6L482.1,257.8L490.4,255.0L498.7,252.2L506.9,249.4L515.1,246.6L523.2,243.8L531.2,241.0L539.3,238.2L547.2,235.4L555.1,232.5L563.0,229.7L570.8,226.9L578.6,224.0L586.4,221.1L594.1,218.3L601.7,215.4L609.4,212.5L617.0,209.6L624.5,206.6L632.1,203.7L639.6,200.7L647.0,197.7L654.5,194.8M466.6,265.9L475.1,263.1L483.4,260.3L491.8,257.5L500.0,254.7L508.3,251.9L516.4,249.1L524.5,246.3L532.6,243.4L540.6,240.6L548.6,237.8L556.5,234.9L564.3,232.1L572.2,229.2L579.9,226.4L587.7,223.5L595.4,220.6L603.0,217.7L610.7,214.8L618.3,211.9L625.8,208.9L633.3,206.0L640.8,203.0L648.3,200.0L655.8,197.0M468.0,268.4L476.4,265.6L484.8,262.8L493.1,260.0L501.4,257.2L509.6,254.4L517.8,251.5L525.9,248.7L533.9,245.9L541.9,243.0L549.9,240.2L557.8,237.4L565.7,234.5L573.5,231.6L581.2,228.8L589.0,225.9L596.7,223.0L604.3,220.1L612.0,217.1L619.5,214.2L627.1,211.3L634.6,208.3L642.1,205.3L649.6,202.3L657.0,199.3M469.4,271.0L477.8,268.2L486.2,265.3L494.5,262.5L502.8,259.7L511.0,256.8L519.1,254.0L527.2,251.2L535.3,248.3L543.3,245.5L551.2,242.6L559.1,239.8L567.0,236.9L574.8,234.0L582.6,231.2L590.3,228.3L598.0,225.4L605.6,222.4L613.2,219.5L620.8,216.6L628.4,213.6L635.9,210.7L643.4,207.7L650.8,204.7L658.3,201.7M470.8,273.5L479.2,270.7L487.6,267.9L495.9,265.0L504.1,262.2L512.3,259.3L520.5,256.5L528.6,253.7L536.6,250.8L544.6,248.0L552.5,245.1L560.4,242.2L568.3,239.3L576.1,236.5L583.9,233.6L591.6,230.7L599.3,227.8L606.9,224.8L614.5,221.9L622.1,218.9L629.7,216.0L637.2,213.0L644.6,210.0L652.1,207.0L659.5,204.0M472.1,276.1L480.6,273.3L488.9,270.4L497.2,267.6L505.5,264.7L513.7,261.9L521.8,259.0L529.9,256.2L537.9,253.3L545.9,250.4L553.9,247.6L561.8,244.7L569.6,241.8L577.4,238.9L585.2,236.0L592.9,233.1L600.6,230.2L608.2,227.2L615.8,224.3L623.4,221.3L630.9,218.4L638.4,215.4L645.9,212.4L653.3,209.4L660.8,206.3M473.5,278.7L481.9,275.8L490.3,273.0L498.6,270.1L506.9,267.2L515.0,264.4L523.2,261.5L531.3,258.7L539.3,255.8L547.3,252.9L555.2,250.0L563.1,247.1L570.9,244.2L578.7,241.3L586.5,238.4L594.2,235.5L601.8,232.6L609.5,229.6L617.1,226.7L624.6,223.7L632.2,220.8L639.7,217.8L647.1,214.8L654.6,211.7L662.0,208.7M474.9,281.3L483.3,278.4L491.7,275.5L500.0,272.7L508.2,269.8L516.4,266.9L524.5,264.1L532.6,261.2L540.6,258.3L548.6,255.4L556.5,252.5L564.4,249.6L572.2,246.7L580.0,243.8L587.7,240.9L595.5,238.0L603.1,235.0L610.7,232.1L618.3,229.1L625.9,226.1L633.4,223.2L640.9,220.2L648.4,217.2L655.8,214.1L663.2,211.1M476.3,283.9L484.7,281.0L493.0,278.1L501.3,275.2L509.6,272.4L517.7,269.5L525.9,266.6L533.9,263.7L541.9,260.8L549.9,257.9L557.8,255.0L565.7,252.1L573.5,249.2L581.3,246.3L589.0,243.4L596.7,240.4L604.4,237.5L612.0,234.5L619.6,231.6L627.1,228.6L634.7,225.6L642.2,222.6L649.6,219.6L657.0,216.5L664.4,213.5M477.7,286.5L486.1,283.6L494.4,280.7L502.7,277.8L510.9,274.9L519.1,272.0L527.2,269.1L535.3,266.3L543.3,263.4L551.2,260.4L559.1,257.5L567.0,254.6L574.8,251.7L582.6,248.8L590.3,245.8L598.0,242.9L605.7,239.9L613.3,237.0L620.8,234.0L628.4,231.0L635.9,228.0L643.4,225.0L650.8,222.0L658.2,219.0L665.6,215.9M479.0,289.1L487.4,286.2L495.8,283.3L504.0,280.4L512.3,277.5L520.4,274.6L528.5,271.7L536.6,268.8L544.6,265.9L552.5,263.0L560.4,260.1L568.3,257.1L576.1,254.2L583.9,251.3L591.6,248.3L599.3,245.4L606.9,242.4L614.5,239.5L622.1,236.5L629.6,233.5L637.1,230.5L644.6,227.5L652.0,224.4L659.5,221.4L666.8,218.3M480.4,291.7L488.8,288.8L497.1,285.9L505.4,283.0L513.6,280.1L521.8,277.2L529.9,274.3L537.9,271.4L545.9,268.5L553.8,265.5L561.7,262.6L569.6,259.7L577.4,256.7L585.1,253.8L592.9,250.8L600.5,247.9L608.2,244.9L615.8,241.9L623.3,239.0L630.9,236.0L638.3,232.9L645.8,229.9L653.2,226.9L660.6,223.8L668.0,220.8M481.8,294.4L490.2,291.5L498.5,288.6L506.8,285.6L515.0,282.7L523.1,279.8L531.2,276.9L539.2,274.0L547.2,271.0L555.1,268.1L563.0,265.2L570.9,262.2L578.7,259.3L586.4,256.3L594.1,253.4L601.8,250.4L609.4,247.4L617.0,244.4L624.6,241.4L632.1,238.4L639.6,235.4L647.0,232.4L654.4,229.4L661.8,226.3L669.2,223.2" fill="none" stroke="#000" stroke-opacity="0.80" stroke-width="0.88"/>
<defs><filter id="bl" x="-5%" y="-50%" width="110%" height="200%"><feGaussianBlur stdDeviation="1.1"/></filter></defs>
<path d="M402,133 C420,130 445,127.5 464,127 S510,128.5 528.5,127 S572,119 588,110" fill="none" stroke="#002000" stroke-opacity="0.33" stroke-width="2.6" filter="url(#bl)"/>
<circle cx="474.0" cy="110.4" r="2.7" fill="#cc0000" stroke="#7a1010" stroke-width="0.6"/>
<circle cx="614.4" cy="135.6" r="2.7" fill="#cc0000" stroke="#7a1010" stroke-width="0.6"/>
<circle cx="481.8" cy="294.3" r="2.7" fill="#cc0000" stroke="#7a1010" stroke-width="0.6"/>
<circle cx="669.4" cy="223.7" r="2.9" fill="#fff" stroke="#7a1010" stroke-width="1.3"/>
<circle cx="395.0" cy="196.4" r="1.1" fill="#000" stroke="none" stroke-width="0.6"/>
<circle cx="487.5" cy="351.1" r="1.1" fill="#000" stroke="none" stroke-width="0.6"/>
<circle cx="413.5" cy="227.3" r="1.1" fill="#000" stroke="none" stroke-width="0.6"/>
<circle cx="521.7" cy="332.5" r="1.1" fill="#000" stroke="none" stroke-width="0.6"/>
<circle cx="432.0" cy="258.3" r="1.1" fill="#000" stroke="none" stroke-width="0.6"/>
<circle cx="555.9" cy="313.8" r="1.1" fill="#000" stroke="none" stroke-width="0.6"/>
<circle cx="450.5" cy="289.2" r="1.1" fill="#000" stroke="none" stroke-width="0.6"/>
<circle cx="590.0" cy="295.2" r="1.1" fill="#000" stroke="none" stroke-width="0.6"/>
<circle cx="469.0" cy="320.2" r="1.1" fill="#000" stroke="none" stroke-width="0.6"/>
<circle cx="624.2" cy="276.5" r="1.1" fill="#000" stroke="none" stroke-width="0.6"/>
<circle cx="487.5" cy="351.1" r="1.1" fill="#000" stroke="none" stroke-width="0.6"/>
<circle cx="658.4" cy="257.9" r="1.1" fill="#000" stroke="none" stroke-width="0.6"/>
<circle cx="389.8" cy="175.7" r="1.1" fill="#000" stroke="none" stroke-width="0.6"/>
<circle cx="385.2" cy="157.7" r="1.1" fill="#000" stroke="none" stroke-width="0.6"/>
<circle cx="380.7" cy="139.8" r="1.1" fill="#000" stroke="none" stroke-width="0.6"/>
<circle cx="376.1" cy="121.8" r="1.1" fill="#000" stroke="none" stroke-width="0.6"/>
<circle cx="371.6" cy="103.9" r="1.1" fill="#000" stroke="none" stroke-width="0.6"/>
<text x="366.1" y="101.2" font-size="11.3" fill="#222" text-anchor="end">40</text>
<text x="373.2" y="119.6" font-size="11.3" fill="#222" text-anchor="end">38</text>
<text x="375.0" y="137.7" font-size="11.3" fill="#222" text-anchor="end">36</text>
<text x="380.7" y="155.4" font-size="11.3" fill="#222" text-anchor="end">34</text>
<text x="383.9" y="173.9" font-size="11.3" fill="#222" text-anchor="end">32</text>
<text x="389.3" y="207.0" font-size="11.3" fill="#222" text-anchor="end">15</text>
<text x="407.6" y="237.6" font-size="11.3" fill="#222" text-anchor="end">13</text>
<text x="425.8" y="267.9" font-size="11.3" fill="#222" text-anchor="end">11</text>
<text x="446.0" y="299.2" font-size="11.3" fill="#222" text-anchor="end">9</text>
<text x="463.9" y="329.5" font-size="11.3" fill="#222" text-anchor="end">7</text>
<text x="483.2" y="361.5" font-size="11.3" fill="#222" text-anchor="end">5</text>
<text x="493.4" y="361.5" font-size="11.3" fill="#222">0.05</text>
<text x="527.8" y="342.8" font-size="11.3" fill="#222">0.056</text>
<text x="562.4" y="324.7" font-size="11.3" fill="#222">0.062</text>
<text x="596.0" y="305.6" font-size="11.3" fill="#222">0.068</text>
<text x="630.0" y="287.4" font-size="11.3" fill="#222">0.074</text>
<text x="664.3" y="269.1" font-size="11.3" fill="#222">0.08</text>
<text x="0.0" y="0.0" font-size="13.0" fill="#000" text-anchor="middle" textLength="58.6" lengthAdjust="spacingAndGlyphs" transform="translate(338.0,154.5) rotate(-90)">ME (GPa)</text>
<text x="358.4" y="311.1" font-size="13.0" fill="#000" textLength="60.2" lengthAdjust="spacingAndGlyphs">B: FA (%)</text>
<text x="573.6" y="364.5" font-size="13.0" fill="#000" textLength="66.1" lengthAdjust="spacingAndGlyphs">A: GO (%)</text>
<text x="492" y="387.9" font-family='"Liberation Serif", serif' font-weight="bold" font-size="14.5" text-anchor="middle" textLength="21.3" lengthAdjust="spacingAndGlyphs">(b)</text>
</g>
</svg>
</body></html>
